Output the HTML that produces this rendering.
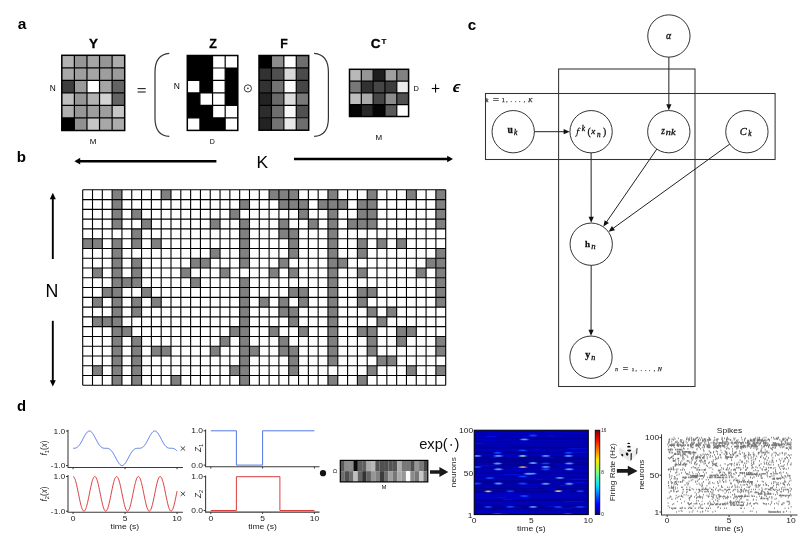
<!DOCTYPE html>
<html><head><meta charset="utf-8"><title>figure</title>
<style>html,body{margin:0;padding:0;background:#fff;overflow:hidden;} svg{display:block;will-change:transform;}</style></head>
<body><svg width="807" height="541" viewBox="0 0 807 541">
<rect width="807" height="541" fill="#fff"/>
<text x="17.68" y="29.49" font-family='"Liberation Sans", sans-serif' font-size="15.53" font-weight="bold" font-style="normal" fill="#000">a</text>
<rect x="61.80" y="55.30" width="12.63" height="12.58" fill="rgb(178,178,178)" />
<rect x="74.38" y="55.30" width="12.63" height="12.58" fill="rgb(150,150,150)" />
<rect x="86.96" y="55.30" width="12.63" height="12.58" fill="rgb(165,165,165)" />
<rect x="99.54" y="55.30" width="12.63" height="12.58" fill="rgb(150,150,150)" />
<rect x="112.12" y="55.30" width="12.63" height="12.58" fill="rgb(172,172,172)" />
<rect x="61.80" y="67.83" width="12.63" height="12.58" fill="rgb(168,168,168)" />
<rect x="74.38" y="67.83" width="12.63" height="12.58" fill="rgb(158,158,158)" />
<rect x="86.96" y="67.83" width="12.63" height="12.58" fill="rgb(165,165,165)" />
<rect x="99.54" y="67.83" width="12.63" height="12.58" fill="rgb(158,158,158)" />
<rect x="112.12" y="67.83" width="12.63" height="12.58" fill="rgb(155,155,155)" />
<rect x="61.80" y="80.37" width="12.63" height="12.58" fill="rgb(62,62,62)" />
<rect x="74.38" y="80.37" width="12.63" height="12.58" fill="rgb(155,155,155)" />
<rect x="86.96" y="80.37" width="12.63" height="12.58" fill="rgb(255,255,255)" />
<rect x="99.54" y="80.37" width="12.63" height="12.58" fill="rgb(165,165,165)" />
<rect x="112.12" y="80.37" width="12.63" height="12.58" fill="rgb(100,100,100)" />
<rect x="61.80" y="92.90" width="12.63" height="12.58" fill="rgb(190,190,190)" />
<rect x="74.38" y="92.90" width="12.63" height="12.58" fill="rgb(150,150,150)" />
<rect x="86.96" y="92.90" width="12.63" height="12.58" fill="rgb(178,178,178)" />
<rect x="99.54" y="92.90" width="12.63" height="12.58" fill="rgb(210,210,210)" />
<rect x="112.12" y="92.90" width="12.63" height="12.58" fill="rgb(100,100,100)" />
<rect x="61.80" y="105.43" width="12.63" height="12.58" fill="rgb(175,175,175)" />
<rect x="74.38" y="105.43" width="12.63" height="12.58" fill="rgb(150,150,150)" />
<rect x="86.96" y="105.43" width="12.63" height="12.58" fill="rgb(158,158,158)" />
<rect x="99.54" y="105.43" width="12.63" height="12.58" fill="rgb(158,158,158)" />
<rect x="112.12" y="105.43" width="12.63" height="12.58" fill="rgb(198,198,198)" />
<rect x="61.80" y="117.97" width="12.63" height="12.58" fill="rgb(0,0,0)" />
<rect x="74.38" y="117.97" width="12.63" height="12.58" fill="rgb(145,145,145)" />
<rect x="86.96" y="117.97" width="12.63" height="12.58" fill="rgb(198,198,198)" />
<rect x="99.54" y="117.97" width="12.63" height="12.58" fill="rgb(168,168,168)" />
<rect x="112.12" y="117.97" width="12.63" height="12.58" fill="rgb(172,172,172)" />
<path d="M74.38,55.30V130.50M86.96,55.30V130.50M99.54,55.30V130.50M112.12,55.30V130.50M61.80,67.83H124.70M61.80,80.37H124.70M61.80,92.90H124.70M61.80,105.43H124.70M61.80,117.97H124.70" stroke="#000" stroke-width="1.2" fill="none"/>
<rect x="61.80" y="55.30" width="62.90" height="75.20" fill="none" stroke="#000" stroke-width="1.5"/>
<text x="89.12" y="48.15" font-family='"Liberation Sans", sans-serif' font-size="13.39" font-weight="bold" font-style="normal" fill="#000" stroke="#000" stroke-width="0.3">Y</text>
<text x="49.66" y="90.65" font-family='"Liberation Sans", sans-serif' font-size="8.32" font-weight="normal" font-style="normal" fill="#000">N</text>
<text x="89.69" y="143.55" font-family='"Liberation Sans", sans-serif' font-size="8.03" font-weight="normal" font-style="normal" fill="#000">M</text>
<line x1="137.60" y1="88.60" x2="145.70" y2="88.60" stroke="#222" stroke-width="1.1" />
<line x1="137.60" y1="92.00" x2="145.70" y2="92.00" stroke="#222" stroke-width="1.1" />
<path d="M169.3,53.3 C160,54 155,60 155,72 L155,118 C155,130 160,136 169.3,136.4" fill="none" stroke="#333" stroke-width="1.2"/>
<text x="173.65" y="88.65" font-family='"Liberation Sans", sans-serif' font-size="8.46" font-weight="normal" font-style="normal" fill="#000">N</text>
<rect x="187.30" y="55.50" width="12.68" height="12.53" fill="rgb(0,0,0)" />
<rect x="199.93" y="55.50" width="12.68" height="12.53" fill="rgb(0,0,0)" />
<rect x="212.55" y="55.50" width="12.68" height="12.53" fill="rgb(255,255,255)" />
<rect x="225.18" y="55.50" width="12.68" height="12.53" fill="rgb(255,255,255)" />
<rect x="187.30" y="67.98" width="12.68" height="12.53" fill="rgb(0,0,0)" />
<rect x="199.93" y="67.98" width="12.68" height="12.53" fill="rgb(0,0,0)" />
<rect x="212.55" y="67.98" width="12.68" height="12.53" fill="rgb(255,255,255)" />
<rect x="225.18" y="67.98" width="12.68" height="12.53" fill="rgb(0,0,0)" />
<rect x="187.30" y="80.47" width="12.68" height="12.53" fill="rgb(255,255,255)" />
<rect x="199.93" y="80.47" width="12.68" height="12.53" fill="rgb(0,0,0)" />
<rect x="212.55" y="80.47" width="12.68" height="12.53" fill="rgb(255,255,255)" />
<rect x="225.18" y="80.47" width="12.68" height="12.53" fill="rgb(0,0,0)" />
<rect x="187.30" y="92.95" width="12.68" height="12.53" fill="rgb(0,0,0)" />
<rect x="199.93" y="92.95" width="12.68" height="12.53" fill="rgb(255,255,255)" />
<rect x="212.55" y="92.95" width="12.68" height="12.53" fill="rgb(255,255,255)" />
<rect x="225.18" y="92.95" width="12.68" height="12.53" fill="rgb(0,0,0)" />
<rect x="187.30" y="105.43" width="12.68" height="12.53" fill="rgb(0,0,0)" />
<rect x="199.93" y="105.43" width="12.68" height="12.53" fill="rgb(0,0,0)" />
<rect x="212.55" y="105.43" width="12.68" height="12.53" fill="rgb(255,255,255)" />
<rect x="225.18" y="105.43" width="12.68" height="12.53" fill="rgb(255,255,255)" />
<rect x="187.30" y="117.92" width="12.68" height="12.53" fill="rgb(255,255,255)" />
<rect x="199.93" y="117.92" width="12.68" height="12.53" fill="rgb(0,0,0)" />
<rect x="212.55" y="117.92" width="12.68" height="12.53" fill="rgb(0,0,0)" />
<rect x="225.18" y="117.92" width="12.68" height="12.53" fill="rgb(255,255,255)" />
<path d="M199.93,55.50V130.40M212.55,55.50V130.40M225.18,55.50V130.40M187.30,67.98H237.80M187.30,80.47H237.80M187.30,92.95H237.80M187.30,105.43H237.80M187.30,117.92H237.80" stroke="#000" stroke-width="1.2" fill="none"/>
<rect x="187.30" y="55.50" width="50.50" height="74.90" fill="none" stroke="#000" stroke-width="1.5"/>
<text x="209.28" y="48.15" font-family='"Liberation Sans", sans-serif' font-size="12.43" font-weight="bold" font-style="normal" fill="#000" stroke="#000" stroke-width="0.3">Z</text>
<text x="209.87" y="143.65" font-family='"Liberation Sans", sans-serif' font-size="7.01" font-weight="normal" font-style="normal" fill="#000">D</text>
<circle cx="247.9" cy="88.4" r="3.6" fill="none" stroke="#222" stroke-width="0.9"/><circle cx="247.9" cy="88.4" r="0.8" fill="#222"/>
<rect x="259.00" y="55.50" width="12.47" height="12.50" fill="rgb(0,0,0)" />
<rect x="271.43" y="55.50" width="12.47" height="12.50" fill="rgb(140,140,140)" />
<rect x="283.85" y="55.50" width="12.47" height="12.50" fill="rgb(255,255,255)" />
<rect x="296.27" y="55.50" width="12.47" height="12.50" fill="rgb(110,110,110)" />
<rect x="259.00" y="67.95" width="12.47" height="12.50" fill="rgb(50,50,50)" />
<rect x="271.43" y="67.95" width="12.47" height="12.50" fill="rgb(80,80,80)" />
<rect x="283.85" y="67.95" width="12.47" height="12.50" fill="rgb(215,215,215)" />
<rect x="296.27" y="67.95" width="12.47" height="12.50" fill="rgb(75,75,75)" />
<rect x="259.00" y="80.40" width="12.47" height="12.50" fill="rgb(50,50,50)" />
<rect x="271.43" y="80.40" width="12.47" height="12.50" fill="rgb(115,115,115)" />
<rect x="283.85" y="80.40" width="12.47" height="12.50" fill="rgb(250,250,250)" />
<rect x="296.27" y="80.40" width="12.47" height="12.50" fill="rgb(70,70,70)" />
<rect x="259.00" y="92.85" width="12.47" height="12.50" fill="rgb(35,35,35)" />
<rect x="271.43" y="92.85" width="12.47" height="12.50" fill="rgb(105,105,105)" />
<rect x="283.85" y="92.85" width="12.47" height="12.50" fill="rgb(220,220,220)" />
<rect x="296.27" y="92.85" width="12.47" height="12.50" fill="rgb(120,120,120)" />
<rect x="259.00" y="105.30" width="12.47" height="12.50" fill="rgb(45,45,45)" />
<rect x="271.43" y="105.30" width="12.47" height="12.50" fill="rgb(110,110,110)" />
<rect x="283.85" y="105.30" width="12.47" height="12.50" fill="rgb(248,248,248)" />
<rect x="296.27" y="105.30" width="12.47" height="12.50" fill="rgb(80,80,80)" />
<rect x="259.00" y="117.75" width="12.47" height="12.50" fill="rgb(35,35,35)" />
<rect x="271.43" y="117.75" width="12.47" height="12.50" fill="rgb(115,115,115)" />
<rect x="283.85" y="117.75" width="12.47" height="12.50" fill="rgb(232,232,232)" />
<rect x="296.27" y="117.75" width="12.47" height="12.50" fill="rgb(110,110,110)" />
<path d="M271.43,55.50V130.20M283.85,55.50V130.20M296.27,55.50V130.20M259.00,67.95H308.70M259.00,80.40H308.70M259.00,92.85H308.70M259.00,105.30H308.70M259.00,117.75H308.70" stroke="#000" stroke-width="1.2" fill="none"/>
<rect x="259.00" y="55.50" width="49.70" height="74.70" fill="none" stroke="#000" stroke-width="1.5"/>
<text x="280.22" y="48.15" font-family='"Liberation Sans", sans-serif' font-size="12.29" font-weight="bold" font-style="normal" fill="#000" stroke="#000" stroke-width="0.3">F</text>
<path d="M314.1,53.3 C323.4,54 328.4,60 328.4,72 L328.4,118 C328.4,130 323.4,136 314.1,136.4" fill="none" stroke="#333" stroke-width="1.2"/>
<rect x="349.50" y="69.30" width="11.87" height="11.85" fill="rgb(185,185,185)" />
<rect x="361.32" y="69.30" width="11.87" height="11.85" fill="rgb(150,150,150)" />
<rect x="373.14" y="69.30" width="11.87" height="11.85" fill="rgb(30,30,30)" />
<rect x="384.96" y="69.30" width="11.87" height="11.85" fill="rgb(160,160,160)" />
<rect x="396.78" y="69.30" width="11.87" height="11.85" fill="rgb(130,130,130)" />
<rect x="349.50" y="81.10" width="11.87" height="11.85" fill="rgb(120,120,120)" />
<rect x="361.32" y="81.10" width="11.87" height="11.85" fill="rgb(50,50,50)" />
<rect x="373.14" y="81.10" width="11.87" height="11.85" fill="rgb(70,70,70)" />
<rect x="384.96" y="81.10" width="11.87" height="11.85" fill="rgb(60,60,60)" />
<rect x="396.78" y="81.10" width="11.87" height="11.85" fill="rgb(235,235,235)" />
<rect x="349.50" y="92.90" width="11.87" height="11.85" fill="rgb(190,190,190)" />
<rect x="361.32" y="92.90" width="11.87" height="11.85" fill="rgb(170,170,170)" />
<rect x="373.14" y="92.90" width="11.87" height="11.85" fill="rgb(70,70,70)" />
<rect x="384.96" y="92.90" width="11.87" height="11.85" fill="rgb(140,140,140)" />
<rect x="396.78" y="92.90" width="11.87" height="11.85" fill="rgb(80,80,80)" />
<rect x="349.50" y="104.70" width="11.87" height="11.85" fill="rgb(5,5,5)" />
<rect x="361.32" y="104.70" width="11.87" height="11.85" fill="rgb(40,40,40)" />
<rect x="373.14" y="104.70" width="11.87" height="11.85" fill="rgb(5,5,5)" />
<rect x="384.96" y="104.70" width="11.87" height="11.85" fill="rgb(90,90,90)" />
<rect x="396.78" y="104.70" width="11.87" height="11.85" fill="rgb(255,255,255)" />
<path d="M361.32,69.30V116.50M373.14,69.30V116.50M384.96,69.30V116.50M396.78,69.30V116.50M349.50,81.10H408.60M349.50,92.90H408.60M349.50,104.70H408.60" stroke="#000" stroke-width="1.2" fill="none"/>
<rect x="349.50" y="69.30" width="59.10" height="47.20" fill="none" stroke="#000" stroke-width="1.5"/>
<text x="370.81" y="48.01" font-family='"Liberation Sans", sans-serif' font-size="13.60" font-weight="bold" font-style="normal" fill="#000" stroke="#000" stroke-width="0.3">C</text>
<text x="381.47" y="43.55" font-family='"Liberation Sans", sans-serif' font-size="7.98" font-weight="bold" font-style="normal" fill="#000" stroke="#000" stroke-width="0.2">T</text>
<text x="413.54" y="90.65" font-family='"Liberation Sans", sans-serif' font-size="7.45" font-weight="normal" font-style="normal" fill="#000">D</text>
<text x="375.59" y="139.95" font-family='"Liberation Sans", sans-serif' font-size="7.96" font-weight="normal" font-style="normal" fill="#000">M</text>
<line x1="431.80" y1="88.50" x2="439.30" y2="88.50" stroke="#000" stroke-width="1.1" />
<line x1="435.55" y1="84.30" x2="435.55" y2="92.60" stroke="#000" stroke-width="1.1" />
<path d="M460.7,84.5 C458.2,83.5 455.6,84.1 454.3,85.9 C453.1,87.5 452.8,89.6 453.4,90.9 C454.1,92.2 456.6,92.3 458.9,91.8 L459.1,91.0 C457.2,91.3 456.0,91.0 455.7,90.0 C455.4,88.8 455.6,87.1 456.3,86.1 C457.1,85.1 458.8,85.0 460.3,85.4 Z M455.3,87.3 L459.2,87.3 L459.0,88.4 L455.1,88.4 Z" fill="#000"/>
<text x="16.77" y="162.30" font-family='"Liberation Sans", sans-serif' font-size="15.10" font-weight="bold" font-style="normal" fill="#000">b</text>
<line x1="79.00" y1="161.20" x2="216.40" y2="161.20" stroke="#000" stroke-width="2.4" />
<path d="M74.4,161.2 L80.2,157.8 L80.2,164.6 Z" fill="#000"/>
<line x1="294.00" y1="159.00" x2="448.00" y2="159.00" stroke="#000" stroke-width="2.4" />
<path d="M453,159 L447.2,155.8 L447.2,162.3 Z" fill="#000"/>
<text x="256.42" y="167.65" font-family='"Liberation Sans", sans-serif' font-size="17.32" font-weight="normal" font-style="normal" fill="#000">K</text>
<line x1="52.80" y1="198.00" x2="52.80" y2="259.00" stroke="#000" stroke-width="1.9" />
<path d="M52.8,192.7 L49.8,199.2 L55.8,199.2 Z" fill="#000"/>
<line x1="52.80" y1="320.80" x2="52.80" y2="381.00" stroke="#000" stroke-width="1.9" />
<path d="M52.8,386.6 L49.8,380.2 L55.8,380.2 Z" fill="#000"/>
<text x="45.38" y="296.95" font-family='"Liberation Sans", sans-serif' font-size="17.76" font-weight="normal" font-style="normal" fill="#000">N</text>
<rect x="82.70" y="189.80" width="363.00" height="195.50" fill="#fff" />
<rect x="112.13" y="189.80" width="9.81" height="9.78" fill="#808080" />
<rect x="161.19" y="189.80" width="9.81" height="9.78" fill="#808080" />
<rect x="269.11" y="189.80" width="9.81" height="9.78" fill="#808080" />
<rect x="278.92" y="189.80" width="9.81" height="9.78" fill="#808080" />
<rect x="288.73" y="189.80" width="9.81" height="9.78" fill="#808080" />
<rect x="327.97" y="189.80" width="9.81" height="9.78" fill="#808080" />
<rect x="367.21" y="189.80" width="9.81" height="9.78" fill="#808080" />
<rect x="406.46" y="189.80" width="9.81" height="9.78" fill="#808080" />
<rect x="435.89" y="189.80" width="9.81" height="9.78" fill="#808080" />
<rect x="112.13" y="199.58" width="9.81" height="9.78" fill="#808080" />
<rect x="239.67" y="199.58" width="9.81" height="9.78" fill="#808080" />
<rect x="278.92" y="199.58" width="9.81" height="9.78" fill="#808080" />
<rect x="288.73" y="199.58" width="9.81" height="9.78" fill="#808080" />
<rect x="298.54" y="199.58" width="9.81" height="9.78" fill="#808080" />
<rect x="318.16" y="199.58" width="9.81" height="9.78" fill="#808080" />
<rect x="327.97" y="199.58" width="9.81" height="9.78" fill="#808080" />
<rect x="337.78" y="199.58" width="9.81" height="9.78" fill="#808080" />
<rect x="357.40" y="199.58" width="9.81" height="9.78" fill="#808080" />
<rect x="367.21" y="199.58" width="9.81" height="9.78" fill="#808080" />
<rect x="435.89" y="199.58" width="9.81" height="9.78" fill="#808080" />
<rect x="112.13" y="209.35" width="9.81" height="9.78" fill="#808080" />
<rect x="131.75" y="209.35" width="9.81" height="9.78" fill="#808080" />
<rect x="229.86" y="209.35" width="9.81" height="9.78" fill="#808080" />
<rect x="298.54" y="209.35" width="9.81" height="9.78" fill="#808080" />
<rect x="327.97" y="209.35" width="9.81" height="9.78" fill="#808080" />
<rect x="357.40" y="209.35" width="9.81" height="9.78" fill="#808080" />
<rect x="367.21" y="209.35" width="9.81" height="9.78" fill="#808080" />
<rect x="435.89" y="209.35" width="9.81" height="9.78" fill="#808080" />
<rect x="112.13" y="219.12" width="9.81" height="9.78" fill="#808080" />
<rect x="141.56" y="219.12" width="9.81" height="9.78" fill="#808080" />
<rect x="210.24" y="219.12" width="9.81" height="9.78" fill="#808080" />
<rect x="239.67" y="219.12" width="9.81" height="9.78" fill="#808080" />
<rect x="278.92" y="219.12" width="9.81" height="9.78" fill="#808080" />
<rect x="308.35" y="219.12" width="9.81" height="9.78" fill="#808080" />
<rect x="327.97" y="219.12" width="9.81" height="9.78" fill="#808080" />
<rect x="347.59" y="219.12" width="9.81" height="9.78" fill="#808080" />
<rect x="357.40" y="219.12" width="9.81" height="9.78" fill="#808080" />
<rect x="367.21" y="219.12" width="9.81" height="9.78" fill="#808080" />
<rect x="435.89" y="219.12" width="9.81" height="9.78" fill="#808080" />
<rect x="131.75" y="228.90" width="9.81" height="9.78" fill="#808080" />
<rect x="239.67" y="228.90" width="9.81" height="9.78" fill="#808080" />
<rect x="278.92" y="228.90" width="9.81" height="9.78" fill="#808080" />
<rect x="288.73" y="228.90" width="9.81" height="9.78" fill="#808080" />
<rect x="327.97" y="228.90" width="9.81" height="9.78" fill="#808080" />
<rect x="82.70" y="238.68" width="9.81" height="9.78" fill="#808080" />
<rect x="92.51" y="238.68" width="9.81" height="9.78" fill="#808080" />
<rect x="112.13" y="238.68" width="9.81" height="9.78" fill="#808080" />
<rect x="131.75" y="238.68" width="9.81" height="9.78" fill="#808080" />
<rect x="151.38" y="238.68" width="9.81" height="9.78" fill="#808080" />
<rect x="239.67" y="238.68" width="9.81" height="9.78" fill="#808080" />
<rect x="288.73" y="238.68" width="9.81" height="9.78" fill="#808080" />
<rect x="327.97" y="238.68" width="9.81" height="9.78" fill="#808080" />
<rect x="357.40" y="238.68" width="9.81" height="9.78" fill="#808080" />
<rect x="377.02" y="238.68" width="9.81" height="9.78" fill="#808080" />
<rect x="396.65" y="238.68" width="9.81" height="9.78" fill="#808080" />
<rect x="112.13" y="248.45" width="9.81" height="9.78" fill="#808080" />
<rect x="210.24" y="248.45" width="9.81" height="9.78" fill="#808080" />
<rect x="239.67" y="248.45" width="9.81" height="9.78" fill="#808080" />
<rect x="288.73" y="248.45" width="9.81" height="9.78" fill="#808080" />
<rect x="327.97" y="248.45" width="9.81" height="9.78" fill="#808080" />
<rect x="357.40" y="248.45" width="9.81" height="9.78" fill="#808080" />
<rect x="435.89" y="248.45" width="9.81" height="9.78" fill="#808080" />
<rect x="112.13" y="258.23" width="9.81" height="9.78" fill="#808080" />
<rect x="131.75" y="258.23" width="9.81" height="9.78" fill="#808080" />
<rect x="190.62" y="258.23" width="9.81" height="9.78" fill="#808080" />
<rect x="200.43" y="258.23" width="9.81" height="9.78" fill="#808080" />
<rect x="239.67" y="258.23" width="9.81" height="9.78" fill="#808080" />
<rect x="278.92" y="258.23" width="9.81" height="9.78" fill="#808080" />
<rect x="327.97" y="258.23" width="9.81" height="9.78" fill="#808080" />
<rect x="337.78" y="258.23" width="9.81" height="9.78" fill="#808080" />
<rect x="426.08" y="258.23" width="9.81" height="9.78" fill="#808080" />
<rect x="435.89" y="258.23" width="9.81" height="9.78" fill="#808080" />
<rect x="92.51" y="268.00" width="9.81" height="9.78" fill="#808080" />
<rect x="112.13" y="268.00" width="9.81" height="9.78" fill="#808080" />
<rect x="131.75" y="268.00" width="9.81" height="9.78" fill="#808080" />
<rect x="180.81" y="268.00" width="9.81" height="9.78" fill="#808080" />
<rect x="220.05" y="268.00" width="9.81" height="9.78" fill="#808080" />
<rect x="269.11" y="268.00" width="9.81" height="9.78" fill="#808080" />
<rect x="288.73" y="268.00" width="9.81" height="9.78" fill="#808080" />
<rect x="327.97" y="268.00" width="9.81" height="9.78" fill="#808080" />
<rect x="357.40" y="268.00" width="9.81" height="9.78" fill="#808080" />
<rect x="416.27" y="268.00" width="9.81" height="9.78" fill="#808080" />
<rect x="435.89" y="268.00" width="9.81" height="9.78" fill="#808080" />
<rect x="112.13" y="277.78" width="9.81" height="9.78" fill="#808080" />
<rect x="121.94" y="277.78" width="9.81" height="9.78" fill="#808080" />
<rect x="131.75" y="277.78" width="9.81" height="9.78" fill="#808080" />
<rect x="190.62" y="277.78" width="9.81" height="9.78" fill="#808080" />
<rect x="239.67" y="277.78" width="9.81" height="9.78" fill="#808080" />
<rect x="327.97" y="277.78" width="9.81" height="9.78" fill="#808080" />
<rect x="435.89" y="277.78" width="9.81" height="9.78" fill="#808080" />
<rect x="102.32" y="287.55" width="9.81" height="9.78" fill="#808080" />
<rect x="112.13" y="287.55" width="9.81" height="9.78" fill="#808080" />
<rect x="141.56" y="287.55" width="9.81" height="9.78" fill="#808080" />
<rect x="239.67" y="287.55" width="9.81" height="9.78" fill="#808080" />
<rect x="288.73" y="287.55" width="9.81" height="9.78" fill="#808080" />
<rect x="298.54" y="287.55" width="9.81" height="9.78" fill="#808080" />
<rect x="327.97" y="287.55" width="9.81" height="9.78" fill="#808080" />
<rect x="357.40" y="287.55" width="9.81" height="9.78" fill="#808080" />
<rect x="367.21" y="287.55" width="9.81" height="9.78" fill="#808080" />
<rect x="435.89" y="287.55" width="9.81" height="9.78" fill="#808080" />
<rect x="92.51" y="297.33" width="9.81" height="9.78" fill="#808080" />
<rect x="112.13" y="297.33" width="9.81" height="9.78" fill="#808080" />
<rect x="131.75" y="297.33" width="9.81" height="9.78" fill="#808080" />
<rect x="151.38" y="297.33" width="9.81" height="9.78" fill="#808080" />
<rect x="239.67" y="297.33" width="9.81" height="9.78" fill="#808080" />
<rect x="259.29" y="297.33" width="9.81" height="9.78" fill="#808080" />
<rect x="278.92" y="297.33" width="9.81" height="9.78" fill="#808080" />
<rect x="298.54" y="297.33" width="9.81" height="9.78" fill="#808080" />
<rect x="327.97" y="297.33" width="9.81" height="9.78" fill="#808080" />
<rect x="357.40" y="297.33" width="9.81" height="9.78" fill="#808080" />
<rect x="435.89" y="297.33" width="9.81" height="9.78" fill="#808080" />
<rect x="112.13" y="307.10" width="9.81" height="9.78" fill="#808080" />
<rect x="131.75" y="307.10" width="9.81" height="9.78" fill="#808080" />
<rect x="239.67" y="307.10" width="9.81" height="9.78" fill="#808080" />
<rect x="278.92" y="307.10" width="9.81" height="9.78" fill="#808080" />
<rect x="288.73" y="307.10" width="9.81" height="9.78" fill="#808080" />
<rect x="327.97" y="307.10" width="9.81" height="9.78" fill="#808080" />
<rect x="367.21" y="307.10" width="9.81" height="9.78" fill="#808080" />
<rect x="386.84" y="307.10" width="9.81" height="9.78" fill="#808080" />
<rect x="92.51" y="316.88" width="9.81" height="9.78" fill="#808080" />
<rect x="102.32" y="316.88" width="9.81" height="9.78" fill="#808080" />
<rect x="112.13" y="316.88" width="9.81" height="9.78" fill="#808080" />
<rect x="239.67" y="316.88" width="9.81" height="9.78" fill="#808080" />
<rect x="288.73" y="316.88" width="9.81" height="9.78" fill="#808080" />
<rect x="327.97" y="316.88" width="9.81" height="9.78" fill="#808080" />
<rect x="377.02" y="316.88" width="9.81" height="9.78" fill="#808080" />
<rect x="112.13" y="326.65" width="9.81" height="9.78" fill="#808080" />
<rect x="121.94" y="326.65" width="9.81" height="9.78" fill="#808080" />
<rect x="229.86" y="326.65" width="9.81" height="9.78" fill="#808080" />
<rect x="239.67" y="326.65" width="9.81" height="9.78" fill="#808080" />
<rect x="269.11" y="326.65" width="9.81" height="9.78" fill="#808080" />
<rect x="298.54" y="326.65" width="9.81" height="9.78" fill="#808080" />
<rect x="327.97" y="326.65" width="9.81" height="9.78" fill="#808080" />
<rect x="357.40" y="326.65" width="9.81" height="9.78" fill="#808080" />
<rect x="367.21" y="326.65" width="9.81" height="9.78" fill="#808080" />
<rect x="396.65" y="326.65" width="9.81" height="9.78" fill="#808080" />
<rect x="406.46" y="326.65" width="9.81" height="9.78" fill="#808080" />
<rect x="112.13" y="336.43" width="9.81" height="9.78" fill="#808080" />
<rect x="131.75" y="336.43" width="9.81" height="9.78" fill="#808080" />
<rect x="220.05" y="336.43" width="9.81" height="9.78" fill="#808080" />
<rect x="239.67" y="336.43" width="9.81" height="9.78" fill="#808080" />
<rect x="278.92" y="336.43" width="9.81" height="9.78" fill="#808080" />
<rect x="327.97" y="336.43" width="9.81" height="9.78" fill="#808080" />
<rect x="367.21" y="336.43" width="9.81" height="9.78" fill="#808080" />
<rect x="396.65" y="336.43" width="9.81" height="9.78" fill="#808080" />
<rect x="435.89" y="336.43" width="9.81" height="9.78" fill="#808080" />
<rect x="112.13" y="346.20" width="9.81" height="9.78" fill="#808080" />
<rect x="131.75" y="346.20" width="9.81" height="9.78" fill="#808080" />
<rect x="151.38" y="346.20" width="9.81" height="9.78" fill="#808080" />
<rect x="161.19" y="346.20" width="9.81" height="9.78" fill="#808080" />
<rect x="210.24" y="346.20" width="9.81" height="9.78" fill="#808080" />
<rect x="239.67" y="346.20" width="9.81" height="9.78" fill="#808080" />
<rect x="249.48" y="346.20" width="9.81" height="9.78" fill="#808080" />
<rect x="278.92" y="346.20" width="9.81" height="9.78" fill="#808080" />
<rect x="288.73" y="346.20" width="9.81" height="9.78" fill="#808080" />
<rect x="327.97" y="346.20" width="9.81" height="9.78" fill="#808080" />
<rect x="367.21" y="346.20" width="9.81" height="9.78" fill="#808080" />
<rect x="435.89" y="346.20" width="9.81" height="9.78" fill="#808080" />
<rect x="112.13" y="355.98" width="9.81" height="9.78" fill="#808080" />
<rect x="131.75" y="355.98" width="9.81" height="9.78" fill="#808080" />
<rect x="239.67" y="355.98" width="9.81" height="9.78" fill="#808080" />
<rect x="288.73" y="355.98" width="9.81" height="9.78" fill="#808080" />
<rect x="327.97" y="355.98" width="9.81" height="9.78" fill="#808080" />
<rect x="377.02" y="355.98" width="9.81" height="9.78" fill="#808080" />
<rect x="386.84" y="355.98" width="9.81" height="9.78" fill="#808080" />
<rect x="92.51" y="365.75" width="9.81" height="9.78" fill="#808080" />
<rect x="112.13" y="365.75" width="9.81" height="9.78" fill="#808080" />
<rect x="131.75" y="365.75" width="9.81" height="9.78" fill="#808080" />
<rect x="229.86" y="365.75" width="9.81" height="9.78" fill="#808080" />
<rect x="239.67" y="365.75" width="9.81" height="9.78" fill="#808080" />
<rect x="288.73" y="365.75" width="9.81" height="9.78" fill="#808080" />
<rect x="367.21" y="365.75" width="9.81" height="9.78" fill="#808080" />
<rect x="406.46" y="365.75" width="9.81" height="9.78" fill="#808080" />
<rect x="435.89" y="365.75" width="9.81" height="9.78" fill="#808080" />
<rect x="112.13" y="375.52" width="9.81" height="9.78" fill="#808080" />
<rect x="131.75" y="375.52" width="9.81" height="9.78" fill="#808080" />
<rect x="171.00" y="375.52" width="9.81" height="9.78" fill="#808080" />
<rect x="239.67" y="375.52" width="9.81" height="9.78" fill="#808080" />
<rect x="327.97" y="375.52" width="9.81" height="9.78" fill="#808080" />
<rect x="357.40" y="375.52" width="9.81" height="9.78" fill="#808080" />
<path d="M82.70,189.80V385.30M92.51,189.80V385.30M102.32,189.80V385.30M112.13,189.80V385.30M121.94,189.80V385.30M131.75,189.80V385.30M141.56,189.80V385.30M151.38,189.80V385.30M161.19,189.80V385.30M171.00,189.80V385.30M180.81,189.80V385.30M190.62,189.80V385.30M200.43,189.80V385.30M210.24,189.80V385.30M220.05,189.80V385.30M229.86,189.80V385.30M239.67,189.80V385.30M249.48,189.80V385.30M259.29,189.80V385.30M269.11,189.80V385.30M278.92,189.80V385.30M288.73,189.80V385.30M298.54,189.80V385.30M308.35,189.80V385.30M318.16,189.80V385.30M327.97,189.80V385.30M337.78,189.80V385.30M347.59,189.80V385.30M357.40,189.80V385.30M367.21,189.80V385.30M377.02,189.80V385.30M386.84,189.80V385.30M396.65,189.80V385.30M406.46,189.80V385.30M416.27,189.80V385.30M426.08,189.80V385.30M435.89,189.80V385.30M445.70,189.80V385.30M82.70,189.80H445.70M82.70,199.58H445.70M82.70,209.35H445.70M82.70,219.12H445.70M82.70,228.90H445.70M82.70,238.68H445.70M82.70,248.45H445.70M82.70,258.23H445.70M82.70,268.00H445.70M82.70,277.78H445.70M82.70,287.55H445.70M82.70,297.33H445.70M82.70,307.10H445.70M82.70,316.88H445.70M82.70,326.65H445.70M82.70,336.43H445.70M82.70,346.20H445.70M82.70,355.98H445.70M82.70,365.75H445.70M82.70,375.52H445.70M82.70,385.30H445.70" stroke="#000" stroke-width="1.1" fill="none"/>
<text x="467.68" y="29.60" font-family='"Liberation Sans", sans-serif' font-size="15.16" font-weight="bold" font-style="normal" fill="#000">c</text>
<rect x="558.6" y="69.0" width="136.4" height="317.5" fill="none" stroke="#333" stroke-width="1.05"/>
<rect x="485.5" y="93.5" width="289.6" height="66.0" fill="none" stroke="#333" stroke-width="1.05"/>
<circle cx="668.9" cy="36.0" r="21.15" fill="none" stroke="#333" stroke-width="1"/>
<circle cx="513.2" cy="131.7" r="21.15" fill="none" stroke="#333" stroke-width="1"/>
<circle cx="591.1" cy="131.7" r="21.15" fill="none" stroke="#333" stroke-width="1"/>
<circle cx="668.8" cy="131.7" r="21.15" fill="none" stroke="#333" stroke-width="1"/>
<circle cx="746.9" cy="131.7" r="21.15" fill="none" stroke="#333" stroke-width="1"/>
<circle cx="591.2" cy="244.2" r="21.15" fill="none" stroke="#333" stroke-width="1"/>
<circle cx="591" cy="357.2" r="21.15" fill="none" stroke="#333" stroke-width="1"/>
<line x1="668.88" y1="57.15" x2="668.83" y2="104.75" stroke="#222" stroke-width="1" />
<path d="M668.82,110.25 L666.23,104.25 L671.43,104.25 Z" fill="#111"/>
<line x1="534.35" y1="131.70" x2="564.15" y2="131.70" stroke="#222" stroke-width="1" />
<path d="M569.65,131.70 L563.65,134.30 L563.65,129.10 Z" fill="#111"/>
<line x1="591.12" y1="152.85" x2="591.18" y2="217.25" stroke="#222" stroke-width="1" />
<path d="M591.18,222.75 L588.58,216.75 L593.78,216.75 Z" fill="#111"/>
<line x1="656.79" y1="149.11" x2="606.50" y2="222.02" stroke="#222" stroke-width="1" />
<path d="M603.38,226.54 L604.65,220.13 L608.93,223.08 Z" fill="#111"/>
<line x1="729.76" y1="144.09" x2="613.04" y2="228.42" stroke="#222" stroke-width="1" />
<path d="M608.59,231.64 L611.93,226.02 L614.97,230.23 Z" fill="#111"/>
<line x1="591.16" y1="265.35" x2="591.05" y2="330.25" stroke="#222" stroke-width="1" />
<path d="M591.04,335.75 L588.45,329.75 L593.65,329.75 Z" fill="#111"/>
<text x="665.96" y="38.75" font-family='"Liberation Serif", serif' font-size="9.72" font-weight="normal" font-style="italic" fill="#111" stroke="#111" stroke-width="0.3">α</text>
<text x="507.61" y="133.43" font-family='"Liberation Serif", serif' font-size="9.59" font-weight="bold" font-style="normal" fill="#111" stroke="#111" stroke-width="0.3">u</text>
<text x="514.04" y="134.55" font-family='"Liberation Serif", serif' font-size="7.54" font-weight="normal" font-style="italic" fill="#111" stroke="#111" stroke-width="0.3">k</text>
<path d="M580.4,128.4 C579.9,127.6 578.6,127.7 578.2,128.9 L576.9,134.9 C576.6,136.4 575.9,136.8 575.4,136.2" fill="none" stroke="#111" stroke-width="0.95" stroke-linecap="round"/><path d="M576.8,130.6 L579.9,130.6" stroke="#111" stroke-width="0.7"/>
<text x="581.75" y="131.15" font-family='"Liberation Serif", serif' font-size="7.31" font-weight="normal" font-style="italic" fill="#111" stroke="#111" stroke-width="0.3">k</text>
<text x="587.44" y="134.59" font-family='"Liberation Serif", serif' font-size="9.70" font-weight="normal" font-style="normal" fill="#111" stroke="#111" stroke-width="0.3">(</text>
<text x="591.16" y="134.05" font-family='"Liberation Serif", serif' font-size="9.14" font-weight="normal" font-style="italic" fill="#111" stroke="#111" stroke-width="0.3">x</text>
<text x="596.90" y="136.55" font-family='"Liberation Serif", serif' font-size="7.27" font-weight="normal" font-style="italic" fill="#111" stroke="#111" stroke-width="0.3">n</text>
<text x="603.03" y="134.59" font-family='"Liberation Serif", serif' font-size="9.70" font-weight="normal" font-style="normal" fill="#111" stroke="#111" stroke-width="0.3">)</text>
<text x="661.37" y="133.55" font-family='"Liberation Serif", serif' font-size="9.29" font-weight="normal" font-style="italic" fill="#111" stroke="#111" stroke-width="0.3">z</text>
<text x="665.89" y="134.55" font-family='"Liberation Serif", serif' font-size="7.97" font-weight="normal" font-style="italic" fill="#111" textLength="9.62" lengthAdjust="spacingAndGlyphs" stroke="#111" stroke-width="0.3">nk</text>
<text x="739.67" y="134.84" font-family='"Liberation Serif", serif' font-size="10.62" font-weight="normal" font-style="italic" fill="#111" stroke="#111" stroke-width="0.3">C</text>
<text x="748.15" y="136.25" font-family='"Liberation Serif", serif' font-size="7.29" font-weight="normal" font-style="italic" fill="#111" stroke="#111" stroke-width="0.3">k</text>
<text x="585.02" y="247.40" font-family='"Liberation Serif", serif' font-size="9.06" font-weight="bold" font-style="normal" fill="#111" stroke="#111" stroke-width="0.3">h</text>
<text x="591.34" y="248.55" font-family='"Liberation Serif", serif' font-size="8.72" font-weight="normal" font-style="italic" fill="#111" stroke="#111" stroke-width="0.3">n</text>
<text x="585.15" y="358.27" font-family='"Liberation Serif", serif' font-size="9.93" font-weight="bold" font-style="normal" fill="#111" stroke="#111" stroke-width="0.3">y</text>
<text x="591.17" y="360.05" font-family='"Liberation Serif", serif' font-size="8.08" font-weight="normal" font-style="italic" fill="#111" stroke="#111" stroke-width="0.3">n</text>
<text x="485.64" y="101.60" font-family='"Liberation Serif", serif' font-size="5.90" font-weight="normal" font-style="italic" fill="#333" stroke="#333" stroke-width="0.25">k</text>
<text x="492.64" y="102.72" font-family='"Liberation Serif", serif' font-size="11.18" font-weight="normal" font-style="normal" fill="#333" stroke="#333" stroke-width="0.25">=</text>
<text x="501.66" y="101.60" font-family='"Liberation Serif", serif' font-size="6.21" font-weight="normal" font-style="normal" fill="#333" stroke="#333" stroke-width="0.25">1</text>
<text x="506.30" y="101.97" font-family='"Liberation Serif", serif' font-size="5.33" font-weight="normal" font-style="normal" fill="#333" stroke="#333" stroke-width="0.25">,</text>
<text x="510.62" y="101.51" font-family='"Liberation Serif", serif' font-size="5.83" font-weight="normal" font-style="normal" fill="#333" stroke="#333" stroke-width="0.25">.</text>
<text x="515.02" y="101.51" font-family='"Liberation Serif", serif' font-size="5.83" font-weight="normal" font-style="normal" fill="#333" stroke="#333" stroke-width="0.25">.</text>
<text x="519.12" y="101.51" font-family='"Liberation Serif", serif' font-size="5.83" font-weight="normal" font-style="normal" fill="#333" stroke="#333" stroke-width="0.25">.</text>
<text x="523.80" y="101.97" font-family='"Liberation Serif", serif' font-size="5.33" font-weight="normal" font-style="normal" fill="#333" stroke="#333" stroke-width="0.25">,</text>
<text x="528.28" y="101.60" font-family='"Liberation Serif", serif' font-size="6.26" font-weight="normal" font-style="italic" fill="#333" stroke="#333" stroke-width="0.25">K</text>
<text x="615.21" y="370.70" font-family='"Liberation Serif", serif' font-size="5.32" font-weight="normal" font-style="italic" fill="#333" stroke="#333" stroke-width="0.25">n</text>
<text x="622.73" y="372.16" font-family='"Liberation Serif", serif' font-size="9.46" font-weight="normal" font-style="normal" fill="#333" stroke="#333" stroke-width="0.25">=</text>
<text x="631.66" y="370.70" font-family='"Liberation Serif", serif' font-size="5.00" font-weight="normal" font-style="normal" fill="#333" stroke="#333" stroke-width="0.25">1</text>
<text x="635.60" y="371.27" font-family='"Liberation Serif", serif' font-size="5.33" font-weight="normal" font-style="normal" fill="#333" stroke="#333" stroke-width="0.25">,</text>
<text x="640.52" y="370.61" font-family='"Liberation Serif", serif' font-size="5.83" font-weight="normal" font-style="normal" fill="#333" stroke="#333" stroke-width="0.25">.</text>
<text x="645.02" y="370.61" font-family='"Liberation Serif", serif' font-size="5.83" font-weight="normal" font-style="normal" fill="#333" stroke="#333" stroke-width="0.25">.</text>
<text x="649.12" y="370.61" font-family='"Liberation Serif", serif' font-size="5.83" font-weight="normal" font-style="normal" fill="#333" stroke="#333" stroke-width="0.25">.</text>
<text x="653.80" y="371.27" font-family='"Liberation Serif", serif' font-size="5.33" font-weight="normal" font-style="normal" fill="#333" stroke="#333" stroke-width="0.25">,</text>
<text x="657.85" y="370.70" font-family='"Liberation Serif", serif' font-size="6.11" font-weight="normal" font-style="italic" fill="#333" stroke="#333" stroke-width="0.25">N</text>
<text x="16.96" y="411.20" font-family='"Liberation Sans", sans-serif' font-size="14.83" font-weight="bold" font-style="normal" fill="#000">d</text>
<path d="M68,429.8 V467.4 H182.9" fill="none" stroke="#3a3a3a" stroke-width="1.05"/>
<polyline points="73.05,448.30 73.40,448.30 73.74,448.29 74.09,448.28 74.44,448.26 74.78,448.22 75.13,448.16 75.48,448.09 75.82,447.98 76.17,447.85 76.52,447.69 76.86,447.50 77.21,447.28 77.56,447.02 77.90,446.72 78.25,446.39 78.60,446.03 78.94,445.62 79.29,445.19 79.64,444.71 79.98,444.21 80.33,443.67 80.68,443.11 81.02,442.52 81.37,441.91 81.72,441.28 82.06,440.64 82.41,439.98 82.76,439.32 83.10,438.66 83.45,437.99 83.80,437.33 84.14,436.69 84.49,436.05 84.84,435.44 85.18,434.85 85.53,434.29 85.88,433.77 86.22,433.27 86.57,432.82 86.92,432.42 87.26,432.06 87.61,431.74 87.96,431.48 88.30,431.28 88.65,431.13 89.00,431.04 89.34,431.00 89.69,431.02 90.04,431.10 90.38,431.24 90.73,431.43 91.08,431.68 91.42,431.97 91.77,432.32 92.12,432.72 92.46,433.16 92.81,433.64 93.16,434.16 93.50,434.71 93.85,435.29 94.20,435.90 94.54,436.53 94.89,437.17 95.24,437.83 95.58,438.49 95.93,439.16 96.28,439.82 96.62,440.48 96.97,441.13 97.32,441.76 97.66,442.37 98.01,442.97 98.36,443.54 98.70,444.08 99.05,444.59 99.40,445.07 99.74,445.52 100.09,445.93 100.44,446.31 100.78,446.65 101.13,446.95 101.48,447.22 101.82,447.45 102.17,447.65 102.52,447.82 102.86,447.95 103.21,448.06 103.56,448.15 103.90,448.21 104.25,448.25 104.60,448.28 104.94,448.29 105.29,448.30 105.64,448.30 105.98,448.30 106.33,448.30 106.68,448.31 107.02,448.33 107.37,448.37 107.72,448.42 108.06,448.49 108.41,448.59 108.76,448.71 109.10,448.86 109.45,449.05 109.80,449.26 110.14,449.51 110.49,449.80 110.84,450.12 111.18,450.48 111.53,450.87 111.88,451.30 112.22,451.77 112.57,452.26 112.92,452.79 113.26,453.35 113.61,453.93 113.96,454.53 114.30,455.16 114.65,455.80 115.00,456.45 115.34,457.11 115.69,457.78 116.04,458.44 116.38,459.10 116.73,459.75 117.08,460.39 117.42,461.01 117.77,461.60 118.12,462.17 118.46,462.71 118.81,463.21 119.16,463.67 119.50,464.09 119.85,464.46 120.20,464.78 120.54,465.06 120.89,465.27 121.24,465.44 121.58,465.55 121.93,465.60 122.28,465.59 122.62,465.52 122.97,465.40 123.32,465.22 123.66,464.99 124.01,464.71 124.36,464.37 124.70,463.98 125.05,463.55 125.40,463.08 125.74,462.57 126.09,462.03 126.44,461.45 126.78,460.85 127.13,460.23 127.48,459.59 127.82,458.93 128.17,458.27 128.52,457.61 128.86,456.94 129.21,456.28 129.56,455.63 129.90,455.00 130.25,454.38 130.60,453.78 130.94,453.20 131.29,452.65 131.64,452.13 131.98,451.64 132.33,451.19 132.68,450.77 133.02,450.38 133.37,450.03 133.72,449.72 134.06,449.45 134.41,449.20 134.76,449.00 135.10,448.82 135.45,448.68 135.80,448.56 136.14,448.47 136.49,448.40 136.84,448.36 137.18,448.33 137.53,448.31 137.88,448.30 138.22,448.30 138.57,448.30 138.92,448.30 139.26,448.29 139.61,448.27 139.96,448.24 140.30,448.19 140.65,448.13 141.00,448.04 141.34,447.92 141.69,447.78 142.04,447.60 142.38,447.39 142.73,447.15 143.08,446.88 143.42,446.56 143.77,446.21 144.12,445.83 144.46,445.41 144.81,444.95 145.16,444.46 145.50,443.94 145.85,443.39 146.20,442.82 146.54,442.22 146.89,441.60 147.24,440.96 147.58,440.31 147.93,439.65 148.28,438.99 148.62,438.32 148.97,437.66 149.32,437.01 149.66,436.37 150.01,435.74 150.36,435.14 150.70,434.57 151.05,434.02 151.40,433.51 151.74,433.04 152.09,432.61 152.44,432.23 152.78,431.89 153.13,431.61 153.48,431.37 153.82,431.20 154.17,431.08 154.52,431.01 154.86,431.00 155.21,431.05 155.56,431.16 155.90,431.33 156.25,431.55 156.60,431.82 156.94,432.14 157.29,432.52 157.64,432.93 157.98,433.40 158.33,433.90 158.68,434.43 159.02,435.00 159.37,435.60 159.72,436.21 160.06,436.85 160.41,437.50 160.76,438.16 161.10,438.83 161.45,439.49 161.80,440.15 162.14,440.81 162.49,441.45 162.84,442.07 163.18,442.68 163.53,443.26 163.88,443.81 164.22,444.34 164.57,444.84 164.92,445.30 165.26,445.73 165.61,446.12 165.96,446.48 166.30,446.80 166.65,447.09 167.00,447.34 167.34,447.56 167.69,447.74 168.04,447.89 168.38,448.01 168.73,448.11 169.08,448.18 169.42,448.23 169.77,448.27 170.12,448.29 170.46,448.30 170.81,448.30 171.16,448.30 171.50,448.30 171.85,448.31 172.20,448.32 172.54,448.35 172.89,448.39 173.24,448.45 173.58,448.54 173.93,448.65 174.28,448.78 174.62,448.95 174.97,449.15 175.32,449.38 175.66,449.65 176.01,449.96 176.36,450.30 176.70,450.67 177.05,451.09" fill="none" stroke="#4169e1" stroke-width="0.9"/>
<path d="M68,475 V512.2 H182.9" fill="none" stroke="#3a3a3a" stroke-width="1.05"/>
<polyline points="73.05,476.50 73.40,476.59 73.74,476.85 74.09,477.27 74.44,477.87 74.78,478.62 75.13,479.53 75.48,480.58 75.82,481.76 76.17,483.07 76.52,484.48 76.86,485.98 77.21,487.56 77.56,489.21 77.90,490.90 78.25,492.62 78.60,494.36 78.94,496.09 79.29,497.79 79.64,499.46 79.98,501.07 80.33,502.61 80.68,504.06 81.02,505.41 81.37,506.64 81.72,507.75 82.06,508.72 82.41,509.54 82.76,510.20 83.10,510.70 83.45,511.03 83.80,511.18 84.14,511.17 84.49,510.98 84.84,510.62 85.18,510.10 85.53,509.41 85.88,508.56 86.22,507.57 86.57,506.44 86.92,505.19 87.26,503.82 87.61,502.36 87.96,500.80 88.30,499.18 88.65,497.51 89.00,495.80 89.34,494.06 89.69,492.33 90.04,490.61 90.38,488.93 90.73,487.29 91.08,485.72 91.42,484.23 91.77,482.84 92.12,481.55 92.46,480.39 92.81,479.37 93.16,478.49 93.50,477.76 93.85,477.19 94.20,476.79 94.54,476.56 94.89,476.50 95.24,476.62 95.58,476.91 95.93,477.36 96.28,477.99 96.62,478.77 96.97,479.70 97.32,480.77 97.66,481.97 98.01,483.30 98.36,484.72 98.70,486.24 99.05,487.84 99.40,489.49 99.74,491.19 100.09,492.91 100.44,494.65 100.78,496.37 101.13,498.08 101.48,499.73 101.82,501.33 102.17,502.86 102.52,504.29 102.86,505.63 103.21,506.84 103.56,507.92 103.90,508.87 104.25,509.66 104.60,510.29 104.94,510.76 105.29,511.07 105.64,511.19 105.98,511.15 106.33,510.93 106.68,510.55 107.02,509.99 107.37,509.28 107.72,508.41 108.06,507.39 108.41,506.24 108.76,504.97 109.10,503.58 109.45,502.10 109.80,500.54 110.14,498.90 110.49,497.22 110.84,495.51 111.18,493.77 111.53,492.04 111.88,490.33 112.22,488.65 112.57,487.02 112.92,485.46 113.26,483.99 113.61,482.61 113.96,481.35 114.30,480.21 114.65,479.21 115.00,478.35 115.34,477.65 115.69,477.11 116.04,476.74 116.38,476.54 116.73,476.51 117.08,476.65 117.42,476.97 117.77,477.46 118.12,478.11 118.46,478.91 118.81,479.87 119.16,480.96 119.50,482.19 119.85,483.53 120.20,484.97 120.54,486.50 120.89,488.11 121.24,489.77 121.58,491.48 121.93,493.21 122.28,494.94 122.62,496.66 122.97,498.36 123.32,500.01 123.66,501.60 124.01,503.11 124.36,504.53 124.70,505.84 125.05,507.03 125.40,508.09 125.74,509.01 126.09,509.78 126.44,510.38 126.78,510.83 127.13,511.10 127.48,511.20 127.82,511.13 128.17,510.88 128.52,510.47 128.86,509.88 129.21,509.14 129.56,508.25 129.90,507.21 130.25,506.04 130.60,504.74 130.94,503.34 131.29,501.84 131.64,500.27 131.98,498.62 132.33,496.93 132.68,495.22 133.02,493.48 133.37,491.75 133.72,490.04 134.06,488.37 134.41,486.76 134.76,485.21 135.10,483.75 135.45,482.39 135.80,481.15 136.14,480.03 136.49,479.05 136.84,478.22 137.18,477.55 137.53,477.04 137.88,476.69 138.22,476.52 138.57,476.52 138.92,476.70 139.26,477.04 139.61,477.55 139.96,478.23 140.30,479.06 140.65,480.04 141.00,481.16 141.34,482.41 141.69,483.76 142.04,485.22 142.38,486.77 142.73,488.39 143.08,490.06 143.42,491.77 143.77,493.50 144.12,495.23 144.46,496.95 144.81,498.64 145.16,500.28 145.50,501.86 145.85,503.35 146.20,504.75 146.54,506.05 146.89,507.22 147.24,508.26 147.58,509.15 147.93,509.89 148.28,510.47 148.62,510.88 148.97,511.13 149.32,511.20 149.66,511.10 150.01,510.82 150.36,510.38 150.70,509.77 151.05,509.00 151.40,508.08 151.74,507.02 152.09,505.83 152.44,504.51 152.78,503.09 153.13,501.58 153.48,499.99 153.82,498.34 154.17,496.65 154.52,494.92 154.86,493.19 155.21,491.46 155.56,489.76 155.90,488.10 156.25,486.49 156.60,484.96 156.94,483.52 157.29,482.18 157.64,480.95 157.98,479.86 158.33,478.90 158.68,478.10 159.02,477.45 159.37,476.97 159.72,476.65 160.06,476.51 160.41,476.54 160.76,476.74 161.10,477.12 161.45,477.66 161.80,478.36 162.14,479.22 162.49,480.22 162.84,481.36 163.18,482.63 163.53,484.00 163.88,485.48 164.22,487.04 164.57,488.66 164.92,490.34 165.26,492.06 165.61,493.79 165.96,495.52 166.30,497.24 166.65,498.92 167.00,500.55 167.34,502.11 167.69,503.60 168.04,504.98 168.38,506.25 168.73,507.40 169.08,508.42 169.42,509.28 169.77,510.00 170.12,510.55 170.46,510.94 170.81,511.15 171.16,511.19 171.50,511.06 171.85,510.76 172.20,510.29 172.54,509.65 172.89,508.86 173.24,507.91 173.58,506.83 173.93,505.61 174.28,504.28 174.62,502.85 174.97,501.32 175.32,499.72 175.66,498.06 176.01,496.36 176.36,494.63 176.70,492.90 177.05,491.17" fill="none" stroke="#d62728" stroke-width="0.9"/>
<line x1="66.00" y1="431.00" x2="68.00" y2="431.00" stroke="#333" stroke-width="1" />
<line x1="66.00" y1="465.60" x2="68.00" y2="465.60" stroke="#333" stroke-width="1" />
<text x="65.30" y="433.50" font-family='"Liberation Sans", sans-serif' font-size="7.4" text-anchor="end" fill="#222" textLength="11.77" lengthAdjust="spacingAndGlyphs" >1.0</text>
<text x="65.30" y="468.10" font-family='"Liberation Sans", sans-serif' font-size="7.4" text-anchor="end" fill="#222" textLength="14.44" lengthAdjust="spacingAndGlyphs" >-1.0</text>
<line x1="66.00" y1="476.50" x2="68.00" y2="476.50" stroke="#333" stroke-width="1" />
<line x1="66.00" y1="511.20" x2="68.00" y2="511.20" stroke="#333" stroke-width="1" />
<text x="65.30" y="479.00" font-family='"Liberation Sans", sans-serif' font-size="7.4" text-anchor="end" fill="#222" textLength="11.77" lengthAdjust="spacingAndGlyphs" >1.0</text>
<text x="65.30" y="513.70" font-family='"Liberation Sans", sans-serif' font-size="7.4" text-anchor="end" fill="#222" textLength="14.44" lengthAdjust="spacingAndGlyphs" >-1.0</text>
<line x1="73.05" y1="467.40" x2="73.05" y2="469.20" stroke="#333" stroke-width="1" />
<line x1="73.05" y1="512.20" x2="73.05" y2="514.00" stroke="#333" stroke-width="1" />
<text x="73.05" y="521.10" font-family='"Liberation Sans", sans-serif' font-size="7.4" text-anchor="middle" fill="#222" textLength="4.71" lengthAdjust="spacingAndGlyphs" >0</text>
<line x1="125.05" y1="467.40" x2="125.05" y2="469.20" stroke="#333" stroke-width="1" />
<line x1="125.05" y1="512.20" x2="125.05" y2="514.00" stroke="#333" stroke-width="1" />
<text x="125.05" y="521.10" font-family='"Liberation Sans", sans-serif' font-size="7.4" text-anchor="middle" fill="#222" textLength="4.71" lengthAdjust="spacingAndGlyphs" >5</text>
<line x1="177.05" y1="467.40" x2="177.05" y2="469.20" stroke="#333" stroke-width="1" />
<line x1="177.05" y1="512.20" x2="177.05" y2="514.00" stroke="#333" stroke-width="1" />
<text x="177.05" y="521.10" font-family='"Liberation Sans", sans-serif' font-size="7.4" text-anchor="middle" fill="#222" textLength="9.41" lengthAdjust="spacingAndGlyphs" >10</text>
<text x="124.90" y="529.30" font-family='"Liberation Sans", sans-serif' font-size="7.4" text-anchor="middle" fill="#222" textLength="28.70" lengthAdjust="spacingAndGlyphs" >time (s)</text>
<path d="M180.7,446.4 L185.1,450.6 M185.1,446.4 L180.7,450.6" stroke="#222" stroke-width="0.85"/>
<path d="M180.7,491.7 L185.1,495.90000000000003 M185.1,491.7 L180.7,495.90000000000003" stroke="#222" stroke-width="0.85"/>
<text transform="translate(47.4,448) rotate(-90)" font-family='"Liberation Sans", sans-serif' font-size="8.2" font-style="italic" text-anchor="middle" fill="#222">f<tspan font-size="5.6" dy="1.6" font-style="normal">1</tspan><tspan dy="-1.6" font-style="normal">(</tspan>x<tspan font-style="normal">)</tspan></text>
<text transform="translate(47.4,494) rotate(-90)" font-family='"Liberation Sans", sans-serif' font-size="8.2" font-style="italic" text-anchor="middle" fill="#222">f<tspan font-size="5.6" dy="1.6" font-style="normal">2</tspan><tspan dy="-1.6" font-style="normal">(</tspan>x<tspan font-style="normal">)</tspan></text>
<path d="M205.6,429.5 V466.7 H319.5" fill="none" stroke="#3a3a3a" stroke-width="1.05"/>
<path d="M205.6,475.5 V512.1 H319.5" fill="none" stroke="#3a3a3a" stroke-width="1.05"/>
<polyline points="210.8,430.8 236.38920000000002,430.8 236.38920000000002,465.1 262.6,465.1 262.6,430.8 314.4,430.8" fill="none" stroke="#4169e1" stroke-width="0.9"/>
<polyline points="210.8,510.5 236.38920000000002,510.5 236.38920000000002,476.7 279.9012,476.7 279.9012,510.5 314.4,510.5" fill="none" stroke="#d62728" stroke-width="0.9"/>
<line x1="203.60" y1="430.80" x2="205.60" y2="430.80" stroke="#333" stroke-width="1" />
<line x1="203.60" y1="465.10" x2="205.60" y2="465.10" stroke="#333" stroke-width="1" />
<text x="203.00" y="433.30" font-family='"Liberation Sans", sans-serif' font-size="7.4" text-anchor="end" fill="#222" textLength="11.77" lengthAdjust="spacingAndGlyphs" >1.0</text>
<text x="203.00" y="467.60" font-family='"Liberation Sans", sans-serif' font-size="7.4" text-anchor="end" fill="#222" textLength="11.77" lengthAdjust="spacingAndGlyphs" >0.0</text>
<line x1="203.60" y1="476.70" x2="205.60" y2="476.70" stroke="#333" stroke-width="1" />
<line x1="203.60" y1="510.50" x2="205.60" y2="510.50" stroke="#333" stroke-width="1" />
<text x="203.00" y="479.20" font-family='"Liberation Sans", sans-serif' font-size="7.4" text-anchor="end" fill="#222" textLength="11.77" lengthAdjust="spacingAndGlyphs" >1.0</text>
<text x="203.00" y="513.00" font-family='"Liberation Sans", sans-serif' font-size="7.4" text-anchor="end" fill="#222" textLength="11.77" lengthAdjust="spacingAndGlyphs" >0.0</text>
<line x1="210.80" y1="466.70" x2="210.80" y2="468.50" stroke="#333" stroke-width="1" />
<line x1="210.80" y1="512.10" x2="210.80" y2="513.90" stroke="#333" stroke-width="1" />
<text x="210.80" y="521.10" font-family='"Liberation Sans", sans-serif' font-size="7.4" text-anchor="middle" fill="#222" textLength="4.71" lengthAdjust="spacingAndGlyphs" >0</text>
<line x1="262.60" y1="466.70" x2="262.60" y2="468.50" stroke="#333" stroke-width="1" />
<line x1="262.60" y1="512.10" x2="262.60" y2="513.90" stroke="#333" stroke-width="1" />
<text x="262.60" y="521.10" font-family='"Liberation Sans", sans-serif' font-size="7.4" text-anchor="middle" fill="#222" textLength="4.71" lengthAdjust="spacingAndGlyphs" >5</text>
<line x1="314.40" y1="466.70" x2="314.40" y2="468.50" stroke="#333" stroke-width="1" />
<line x1="314.40" y1="512.10" x2="314.40" y2="513.90" stroke="#333" stroke-width="1" />
<text x="314.40" y="521.10" font-family='"Liberation Sans", sans-serif' font-size="7.4" text-anchor="middle" fill="#222" textLength="9.41" lengthAdjust="spacingAndGlyphs" >10</text>
<text x="262.50" y="529.30" font-family='"Liberation Sans", sans-serif' font-size="7.4" text-anchor="middle" fill="#222" textLength="28.70" lengthAdjust="spacingAndGlyphs" >time (s)</text>
<text transform="translate(200.9,448) rotate(-90)" font-family='"Liberation Sans", sans-serif' font-size="8.2" font-style="italic" text-anchor="middle" fill="#222">Z<tspan font-size="5.6" dy="1.6" font-style="normal">1</tspan></text>
<text transform="translate(200.9,494) rotate(-90)" font-family='"Liberation Sans", sans-serif' font-size="8.2" font-style="italic" text-anchor="middle" fill="#222">Z<tspan font-size="5.6" dy="1.6" font-style="normal">2</tspan></text>
<circle cx="323" cy="473.2" r="3.1" fill="#111"/>
<text transform="translate(336.8,470.9) rotate(-90)" font-family='"Liberation Sans", sans-serif' font-size="5.5" text-anchor="middle">D</text>
<rect x="340.30" y="460.40" width="4.42" height="10.80" fill="rgb(90,90,90)" />
<rect x="340.30" y="471.15" width="4.42" height="10.80" fill="rgb(110,110,110)" />
<rect x="344.68" y="460.40" width="4.42" height="10.80" fill="rgb(140,140,140)" />
<rect x="344.68" y="471.15" width="4.42" height="10.80" fill="rgb(80,80,80)" />
<rect x="349.05" y="460.40" width="4.42" height="10.80" fill="rgb(140,140,140)" />
<rect x="349.05" y="471.15" width="4.42" height="10.80" fill="rgb(110,110,110)" />
<rect x="353.43" y="460.40" width="4.42" height="10.80" fill="rgb(10,10,10)" />
<rect x="353.43" y="471.15" width="4.42" height="10.80" fill="rgb(190,190,190)" />
<rect x="357.80" y="460.40" width="4.42" height="10.80" fill="rgb(95,95,95)" />
<rect x="357.80" y="471.15" width="4.42" height="10.80" fill="rgb(100,100,100)" />
<rect x="362.18" y="460.40" width="4.42" height="10.80" fill="rgb(95,95,95)" />
<rect x="362.18" y="471.15" width="4.42" height="10.80" fill="rgb(50,50,50)" />
<rect x="366.55" y="460.40" width="4.42" height="10.80" fill="rgb(170,170,170)" />
<rect x="366.55" y="471.15" width="4.42" height="10.80" fill="rgb(100,100,100)" />
<rect x="370.93" y="460.40" width="4.42" height="10.80" fill="rgb(185,185,185)" />
<rect x="370.93" y="471.15" width="4.42" height="10.80" fill="rgb(150,150,150)" />
<rect x="375.30" y="460.40" width="4.42" height="10.80" fill="rgb(85,85,85)" />
<rect x="375.30" y="471.15" width="4.42" height="10.80" fill="rgb(130,130,130)" />
<rect x="379.68" y="460.40" width="4.42" height="10.80" fill="rgb(80,80,80)" />
<rect x="379.68" y="471.15" width="4.42" height="10.80" fill="rgb(60,60,60)" />
<rect x="384.05" y="460.40" width="4.42" height="10.80" fill="rgb(80,80,80)" />
<rect x="384.05" y="471.15" width="4.42" height="10.80" fill="rgb(110,110,110)" />
<rect x="388.43" y="460.40" width="4.42" height="10.80" fill="rgb(85,85,85)" />
<rect x="388.43" y="471.15" width="4.42" height="10.80" fill="rgb(160,160,160)" />
<rect x="392.80" y="460.40" width="4.42" height="10.80" fill="rgb(85,85,85)" />
<rect x="392.80" y="471.15" width="4.42" height="10.80" fill="rgb(120,120,120)" />
<rect x="397.18" y="460.40" width="4.42" height="10.80" fill="rgb(175,175,175)" />
<rect x="397.18" y="471.15" width="4.42" height="10.80" fill="rgb(170,170,170)" />
<rect x="401.55" y="460.40" width="4.42" height="10.80" fill="rgb(120,120,120)" />
<rect x="401.55" y="471.15" width="4.42" height="10.80" fill="rgb(150,150,150)" />
<rect x="405.93" y="460.40" width="4.42" height="10.80" fill="rgb(120,120,120)" />
<rect x="405.93" y="471.15" width="4.42" height="10.80" fill="rgb(250,250,250)" />
<rect x="410.30" y="460.40" width="4.42" height="10.80" fill="rgb(80,80,80)" />
<rect x="410.30" y="471.15" width="4.42" height="10.80" fill="rgb(140,140,140)" />
<rect x="414.68" y="460.40" width="4.42" height="10.80" fill="rgb(150,150,150)" />
<rect x="414.68" y="471.15" width="4.42" height="10.80" fill="rgb(120,120,120)" />
<rect x="419.05" y="460.40" width="4.42" height="10.80" fill="rgb(120,120,120)" />
<rect x="419.05" y="471.15" width="4.42" height="10.80" fill="rgb(200,200,200)" />
<rect x="423.43" y="460.40" width="4.42" height="10.80" fill="rgb(70,70,70)" />
<rect x="423.43" y="471.15" width="4.42" height="10.80" fill="rgb(120,120,120)" />
<rect x="340.3" y="460.4" width="87.50" height="21.50" fill="none" stroke="#000" stroke-width="1.2"/>
<text x="384" y="489" font-family='"Liberation Sans", sans-serif' font-size="5.5" text-anchor="middle">M</text>
<text x="419.13" y="448.80" font-family='"Liberation Sans", sans-serif' font-size="14.69" font-weight="normal" font-style="normal" fill="#111">exp(</text>
<circle cx="451.2" cy="444.9" r="0.85" fill="#111"/>
<text x="454.54" y="448.80" font-family='"Liberation Sans", sans-serif' font-size="14.69" font-weight="normal" font-style="normal" fill="#111">)</text>
<path d="M430,470.2 H439.4 V467 L448.3,472 L439.4,477 V473.8 H430 Z" fill="#1a1a1a"/>
<defs><filter id="bl" x="-50%" y="-50%" width="200%" height="200%"><feGaussianBlur stdDeviation="1.2 0.5"/></filter><linearGradient id="jet" x1="0" y1="1" x2="0" y2="0"><stop offset="0" stop-color="#00007f"/><stop offset="0.11" stop-color="#0000ff"/><stop offset="0.125" stop-color="#0000ff"/><stop offset="0.34" stop-color="#00dcff"/><stop offset="0.35" stop-color="#00e4f8"/><stop offset="0.5" stop-color="#7dff7a"/><stop offset="0.64" stop-color="#ffe600"/><stop offset="0.66" stop-color="#ffde00"/><stop offset="0.89" stop-color="#f10800"/><stop offset="1" stop-color="#7f0000"/></linearGradient><clipPath id="hc"><rect x="474.2" y="430.2" width="114.1" height="84.4"/></clipPath></defs>
<rect x="474.20" y="430.20" width="114.10" height="84.40" fill="#000098" />
<g clip-path="url(#hc)"><g filter="url(#bl)">
<rect x="474.20" y="513.68" width="114.10" height="1.00" fill="#0000d8" opacity="0.52"/>
<rect x="572.39" y="513.68" width="12.64" height="1.00" fill="#0010f0" opacity="0.53"/>
<rect x="499.15" y="512.83" width="9.28" height="1.00" fill="#0010f0" opacity="0.70"/>
<rect x="474.20" y="511.99" width="114.10" height="1.00" fill="#0000d8" opacity="0.63"/>
<rect x="510.49" y="511.99" width="18.05" height="1.00" fill="#0010f0" opacity="0.39"/>
<rect x="474.20" y="511.15" width="114.10" height="1.00" fill="#0000d8" opacity="0.67"/>
<rect x="551.08" y="511.15" width="15.40" height="1.00" fill="#0010f0" opacity="0.33"/>
<rect x="470.62" y="510.30" width="16.92" height="1.00" fill="#0010f0" opacity="0.63"/>
<rect x="497.78" y="510.30" width="14.33" height="1.00" fill="#0010f0" opacity="0.67"/>
<rect x="474.20" y="509.46" width="114.10" height="1.00" fill="#0000d8" opacity="0.62"/>
<rect x="510.66" y="509.46" width="17.21" height="1.00" fill="#0010f0" opacity="0.48"/>
<rect x="481.37" y="508.61" width="7.90" height="1.00" fill="#0010f0" opacity="0.39"/>
<rect x="554.09" y="507.77" width="17.97" height="1.00" fill="#0010f0" opacity="0.47"/>
<rect x="507.14" y="506.93" width="14.19" height="1.00" fill="#0010f0" opacity="0.53"/>
<rect x="569.60" y="506.93" width="15.55" height="1.00" fill="#0010f0" opacity="0.67"/>
<rect x="546.65" y="506.08" width="8.28" height="1.00" fill="#0010f0" opacity="0.64"/>
<rect x="574.93" y="506.08" width="18.67" height="1.00" fill="#0010f0" opacity="0.53"/>
<rect x="500.80" y="504.39" width="7.74" height="1.00" fill="#0010f0" opacity="0.49"/>
<rect x="540.70" y="504.39" width="12.77" height="1.00" fill="#0010f0" opacity="0.44"/>
<rect x="474.20" y="503.55" width="114.10" height="1.00" fill="#0000d8" opacity="0.66"/>
<rect x="474.20" y="502.71" width="114.10" height="1.00" fill="#0000d8" opacity="0.61"/>
<rect x="474.20" y="501.86" width="114.10" height="1.00" fill="#0000d8" opacity="0.55"/>
<rect x="474.20" y="501.02" width="114.10" height="1.00" fill="#0000d8" opacity="0.53"/>
<rect x="564.85" y="501.02" width="19.73" height="1.00" fill="#0010f0" opacity="0.50"/>
<rect x="582.96" y="501.02" width="10.34" height="1.00" fill="#0010f0" opacity="0.33"/>
<rect x="502.63" y="499.33" width="9.69" height="1.00" fill="#0010f0" opacity="0.58"/>
<rect x="500.30" y="498.49" width="19.42" height="1.00" fill="#0010f0" opacity="0.66"/>
<rect x="474.20" y="497.64" width="114.10" height="1.00" fill="#0000d8" opacity="0.48"/>
<rect x="509.20" y="497.64" width="18.14" height="1.00" fill="#0010f0" opacity="0.57"/>
<rect x="476.09" y="497.64" width="19.62" height="1.00" fill="#0010f0" opacity="0.62"/>
<rect x="474.20" y="496.80" width="114.10" height="1.00" fill="#0000d8" opacity="0.55"/>
<rect x="496.21" y="496.80" width="10.22" height="1.00" fill="#0010f0" opacity="0.69"/>
<rect x="526.82" y="496.80" width="13.68" height="1.00" fill="#0010f0" opacity="0.30"/>
<rect x="474.20" y="495.95" width="114.10" height="1.00" fill="#0000d8" opacity="0.53"/>
<rect x="474.20" y="495.11" width="114.10" height="1.00" fill="#0000d8" opacity="0.54"/>
<rect x="474.20" y="494.27" width="114.10" height="1.00" fill="#0000d8" opacity="0.55"/>
<rect x="505.05" y="494.27" width="18.84" height="1.00" fill="#0010f0" opacity="0.54"/>
<rect x="474.20" y="493.42" width="114.10" height="1.00" fill="#0000d8" opacity="0.50"/>
<rect x="473.38" y="493.42" width="15.46" height="1.00" fill="#0010f0" opacity="0.69"/>
<rect x="496.66" y="493.42" width="12.39" height="1.00" fill="#0010f0" opacity="0.54"/>
<rect x="474.20" y="492.58" width="114.10" height="1.00" fill="#0000d8" opacity="0.45"/>
<rect x="551.79" y="492.58" width="17.81" height="1.00" fill="#0010f0" opacity="0.41"/>
<rect x="552.91" y="490.05" width="10.34" height="1.00" fill="#0010f0" opacity="0.39"/>
<rect x="561.24" y="490.05" width="9.34" height="1.00" fill="#0010f0" opacity="0.37"/>
<rect x="474.20" y="489.20" width="114.10" height="1.00" fill="#0000d8" opacity="0.58"/>
<rect x="546.64" y="488.36" width="9.14" height="1.00" fill="#0010f0" opacity="0.62"/>
<rect x="474.20" y="486.67" width="114.10" height="1.00" fill="#0000d8" opacity="0.56"/>
<rect x="521.10" y="486.67" width="9.15" height="1.00" fill="#0010f0" opacity="0.35"/>
<rect x="530.29" y="486.67" width="8.67" height="1.00" fill="#0010f0" opacity="0.62"/>
<rect x="558.81" y="484.98" width="14.99" height="1.00" fill="#0010f0" opacity="0.62"/>
<rect x="474.20" y="484.14" width="114.10" height="1.00" fill="#0000d8" opacity="0.35"/>
<rect x="524.40" y="484.14" width="17.90" height="1.00" fill="#0010f0" opacity="0.49"/>
<rect x="516.23" y="483.29" width="11.73" height="1.00" fill="#0010f0" opacity="0.67"/>
<rect x="474.20" y="482.45" width="114.10" height="1.00" fill="#0000d8" opacity="0.30"/>
<rect x="580.77" y="482.45" width="12.08" height="1.00" fill="#0010f0" opacity="0.68"/>
<rect x="575.46" y="482.45" width="9.11" height="1.00" fill="#0010f0" opacity="0.60"/>
<rect x="549.80" y="481.61" width="19.49" height="1.00" fill="#0010f0" opacity="0.52"/>
<rect x="566.68" y="481.61" width="18.06" height="1.00" fill="#0010f0" opacity="0.64"/>
<rect x="474.20" y="479.07" width="114.10" height="1.00" fill="#0000d8" opacity="0.62"/>
<rect x="570.34" y="479.07" width="18.55" height="1.00" fill="#0010f0" opacity="0.66"/>
<rect x="536.94" y="479.07" width="6.18" height="1.00" fill="#0010f0" opacity="0.60"/>
<rect x="474.20" y="478.23" width="114.10" height="1.00" fill="#0000d8" opacity="0.42"/>
<rect x="469.71" y="478.23" width="13.52" height="1.00" fill="#0010f0" opacity="0.32"/>
<rect x="574.59" y="478.23" width="7.59" height="1.00" fill="#0010f0" opacity="0.35"/>
<rect x="520.17" y="477.39" width="16.95" height="1.00" fill="#0010f0" opacity="0.44"/>
<rect x="489.97" y="477.39" width="13.48" height="1.00" fill="#0010f0" opacity="0.63"/>
<rect x="474.20" y="476.54" width="114.10" height="1.00" fill="#0000d8" opacity="0.62"/>
<rect x="474.20" y="474.85" width="114.10" height="1.00" fill="#0000d8" opacity="0.53"/>
<rect x="475.00" y="474.85" width="9.80" height="1.00" fill="#0010f0" opacity="0.41"/>
<rect x="474.20" y="474.01" width="114.10" height="1.00" fill="#0000d8" opacity="0.47"/>
<rect x="502.33" y="474.01" width="17.47" height="1.00" fill="#0010f0" opacity="0.64"/>
<rect x="474.20" y="472.32" width="114.10" height="1.00" fill="#0000d8" opacity="0.33"/>
<rect x="474.20" y="470.63" width="114.10" height="1.00" fill="#0000d8" opacity="0.50"/>
<rect x="474.20" y="469.79" width="114.10" height="1.00" fill="#0000d8" opacity="0.44"/>
<rect x="513.53" y="469.79" width="10.26" height="1.00" fill="#0010f0" opacity="0.41"/>
<rect x="580.93" y="469.79" width="12.00" height="1.00" fill="#0010f0" opacity="0.35"/>
<rect x="474.20" y="468.95" width="114.10" height="1.00" fill="#0000d8" opacity="0.59"/>
<rect x="474.20" y="467.26" width="114.10" height="1.00" fill="#0000d8" opacity="0.54"/>
<rect x="508.98" y="467.26" width="17.22" height="1.00" fill="#0010f0" opacity="0.55"/>
<rect x="517.84" y="467.26" width="11.21" height="1.00" fill="#0010f0" opacity="0.50"/>
<rect x="576.70" y="466.41" width="11.86" height="1.00" fill="#0010f0" opacity="0.31"/>
<rect x="474.20" y="465.57" width="114.10" height="1.00" fill="#0000d8" opacity="0.41"/>
<rect x="476.39" y="465.57" width="11.95" height="1.00" fill="#0010f0" opacity="0.47"/>
<rect x="565.01" y="465.57" width="19.11" height="1.00" fill="#0010f0" opacity="0.45"/>
<rect x="480.22" y="464.73" width="15.67" height="1.00" fill="#0010f0" opacity="0.68"/>
<rect x="556.95" y="463.88" width="15.35" height="1.00" fill="#0010f0" opacity="0.59"/>
<rect x="534.81" y="463.88" width="7.44" height="1.00" fill="#0010f0" opacity="0.54"/>
<rect x="474.20" y="463.04" width="114.10" height="1.00" fill="#0000d8" opacity="0.36"/>
<rect x="475.61" y="463.04" width="7.29" height="1.00" fill="#0010f0" opacity="0.34"/>
<rect x="566.37" y="461.35" width="7.70" height="1.00" fill="#0010f0" opacity="0.64"/>
<rect x="575.82" y="460.51" width="14.11" height="1.00" fill="#0010f0" opacity="0.62"/>
<rect x="469.97" y="460.51" width="16.74" height="1.00" fill="#0010f0" opacity="0.50"/>
<rect x="491.24" y="457.13" width="7.08" height="1.00" fill="#0010f0" opacity="0.70"/>
<rect x="541.73" y="457.13" width="12.36" height="1.00" fill="#0010f0" opacity="0.58"/>
<rect x="510.35" y="456.29" width="11.55" height="1.00" fill="#0010f0" opacity="0.44"/>
<rect x="474.20" y="455.44" width="114.10" height="1.00" fill="#0000d8" opacity="0.33"/>
<rect x="491.54" y="455.44" width="19.01" height="1.00" fill="#0010f0" opacity="0.64"/>
<rect x="578.64" y="455.44" width="11.81" height="1.00" fill="#0010f0" opacity="0.53"/>
<rect x="548.33" y="454.60" width="8.19" height="1.00" fill="#0010f0" opacity="0.46"/>
<rect x="571.33" y="454.60" width="8.28" height="1.00" fill="#0010f0" opacity="0.50"/>
<rect x="474.20" y="453.75" width="114.10" height="1.00" fill="#0000d8" opacity="0.58"/>
<rect x="532.11" y="453.75" width="18.01" height="1.00" fill="#0010f0" opacity="0.35"/>
<rect x="571.90" y="452.07" width="17.92" height="1.00" fill="#0010f0" opacity="0.52"/>
<rect x="548.79" y="451.22" width="11.78" height="1.00" fill="#0010f0" opacity="0.64"/>
<rect x="536.04" y="451.22" width="9.74" height="1.00" fill="#0010f0" opacity="0.39"/>
<rect x="474.20" y="450.38" width="114.10" height="1.00" fill="#0000d8" opacity="0.49"/>
<rect x="490.10" y="450.38" width="13.98" height="1.00" fill="#0010f0" opacity="0.40"/>
<rect x="474.20" y="449.53" width="114.10" height="1.00" fill="#0000d8" opacity="0.65"/>
<rect x="580.94" y="449.53" width="12.71" height="1.00" fill="#0010f0" opacity="0.54"/>
<rect x="474.20" y="448.69" width="114.10" height="1.00" fill="#0000d8" opacity="0.63"/>
<rect x="531.40" y="448.69" width="12.74" height="1.00" fill="#0010f0" opacity="0.59"/>
<rect x="566.14" y="448.69" width="11.60" height="1.00" fill="#0010f0" opacity="0.59"/>
<rect x="568.90" y="447.85" width="18.47" height="1.00" fill="#0010f0" opacity="0.56"/>
<rect x="497.50" y="446.16" width="8.65" height="1.00" fill="#0010f0" opacity="0.40"/>
<rect x="474.20" y="445.31" width="114.10" height="1.00" fill="#0000d8" opacity="0.58"/>
<rect x="490.25" y="444.47" width="6.63" height="1.00" fill="#0010f0" opacity="0.37"/>
<rect x="474.20" y="443.63" width="114.10" height="1.00" fill="#0000d8" opacity="0.62"/>
<rect x="474.20" y="442.78" width="114.10" height="1.00" fill="#0000d8" opacity="0.63"/>
<rect x="472.16" y="442.78" width="12.33" height="1.00" fill="#0010f0" opacity="0.59"/>
<rect x="474.20" y="441.94" width="114.10" height="1.00" fill="#0000d8" opacity="0.31"/>
<rect x="517.57" y="441.94" width="12.80" height="1.00" fill="#0010f0" opacity="0.38"/>
<rect x="511.99" y="441.09" width="13.62" height="1.00" fill="#0010f0" opacity="0.35"/>
<rect x="474.20" y="440.25" width="114.10" height="1.00" fill="#0000d8" opacity="0.57"/>
<rect x="474.20" y="439.41" width="114.10" height="1.00" fill="#0000d8" opacity="0.51"/>
<rect x="475.67" y="439.41" width="19.18" height="1.00" fill="#0010f0" opacity="0.45"/>
<rect x="500.19" y="438.56" width="15.46" height="1.00" fill="#0010f0" opacity="0.56"/>
<rect x="476.82" y="437.72" width="19.22" height="1.00" fill="#0010f0" opacity="0.44"/>
<rect x="480.67" y="436.87" width="12.91" height="1.00" fill="#0010f0" opacity="0.44"/>
<rect x="548.38" y="436.87" width="15.50" height="1.00" fill="#0010f0" opacity="0.53"/>
<rect x="474.20" y="436.03" width="114.10" height="1.00" fill="#0000d8" opacity="0.56"/>
<rect x="485.67" y="436.03" width="11.19" height="1.00" fill="#0010f0" opacity="0.67"/>
<rect x="522.27" y="436.03" width="7.52" height="1.00" fill="#0010f0" opacity="0.52"/>
<rect x="549.22" y="435.19" width="14.36" height="1.00" fill="#0010f0" opacity="0.52"/>
<rect x="541.87" y="435.19" width="12.41" height="1.00" fill="#0010f0" opacity="0.42"/>
<rect x="474.20" y="434.34" width="114.10" height="1.00" fill="#0000d8" opacity="0.33"/>
<rect x="488.00" y="434.34" width="13.75" height="1.00" fill="#0010f0" opacity="0.53"/>
<rect x="515.21" y="434.34" width="7.40" height="1.00" fill="#0010f0" opacity="0.41"/>
<rect x="474.20" y="433.50" width="114.10" height="1.00" fill="#0000d8" opacity="0.35"/>
<rect x="527.06" y="433.50" width="9.46" height="1.00" fill="#0010f0" opacity="0.61"/>
<rect x="474.20" y="432.65" width="114.10" height="1.00" fill="#0000d8" opacity="0.43"/>
<rect x="516.68" y="432.65" width="17.33" height="1.00" fill="#0010f0" opacity="0.33"/>
<rect x="474.20" y="431.81" width="114.10" height="1.00" fill="#0000d8" opacity="0.70"/>
<rect x="474.20" y="430.97" width="114.10" height="1.00" fill="#0000d8" opacity="0.34"/>
<rect x="479.10" y="430.12" width="15.77" height="1.00" fill="#0010f0" opacity="0.53"/>
<rect x="544.93" y="430.12" width="11.48" height="1.00" fill="#0010f0" opacity="0.69"/>
<ellipse cx="524.30" cy="439.40" rx="3.4" ry="0.95" fill="#5a98ff"/>
<ellipse cx="522.70" cy="450.40" rx="3.6" ry="0.95" fill="#1040ff"/>
<ellipse cx="497.60" cy="452.80" rx="3.6" ry="0.95" fill="#1040ff"/>
<ellipse cx="498.40" cy="455.90" rx="3.4" ry="0.95" fill="#5a98ff"/>
<ellipse cx="522.70" cy="455.90" rx="3.2" ry="0.9" fill="#90e0b0"/>
<ellipse cx="477.10" cy="455.90" rx="3.4" ry="0.95" fill="#5a98ff"/>
<ellipse cx="497.60" cy="463.50" rx="3.4" ry="0.95" fill="#5a98ff"/>
<ellipse cx="522.70" cy="467.00" rx="3.0" ry="0.85" fill="#f0d030"/>
<ellipse cx="477.00" cy="467.00" rx="3.6" ry="0.95" fill="#1040ff"/>
<ellipse cx="498.40" cy="469.30" rx="3.4" ry="0.95" fill="#5a98ff"/>
<ellipse cx="528.20" cy="473.70" rx="3.4" ry="0.95" fill="#5a98ff"/>
<ellipse cx="489.70" cy="478.00" rx="3.6" ry="0.95" fill="#1040ff"/>
<ellipse cx="522.70" cy="476.40" rx="3.6" ry="0.95" fill="#1040ff"/>
<ellipse cx="498.40" cy="483.50" rx="3.4" ry="0.95" fill="#5a98ff"/>
<ellipse cx="477.10" cy="483.50" rx="3.6" ry="0.95" fill="#1040ff"/>
<ellipse cx="522.70" cy="483.50" rx="3.6" ry="0.95" fill="#1040ff"/>
<ellipse cx="488.20" cy="491.30" rx="3.0" ry="0.85" fill="#f0d030"/>
<ellipse cx="510.20" cy="491.30" rx="3.6" ry="0.95" fill="#1040ff"/>
<ellipse cx="524.30" cy="496.00" rx="3.6" ry="0.95" fill="#1040ff"/>
<ellipse cx="510.20" cy="506.70" rx="3.6" ry="0.95" fill="#1040ff"/>
<ellipse cx="488.20" cy="507.00" rx="3.6" ry="0.95" fill="#1040ff"/>
<ellipse cx="496.80" cy="514.00" rx="3.4" ry="1.1" fill="#d01000"/>
<ellipse cx="533.10" cy="435.50" rx="3.6" ry="0.95" fill="#1040ff"/>
<ellipse cx="545.70" cy="455.90" rx="3.4" ry="0.95" fill="#5a98ff"/>
<ellipse cx="568.50" cy="455.90" rx="3.4" ry="0.95" fill="#5a98ff"/>
<ellipse cx="568.50" cy="452.80" rx="3.6" ry="0.95" fill="#1040ff"/>
<ellipse cx="533.10" cy="463.00" rx="3.4" ry="0.95" fill="#5a98ff"/>
<ellipse cx="545.70" cy="463.40" rx="3.6" ry="0.95" fill="#1040ff"/>
<ellipse cx="569.20" cy="463.40" rx="3.4" ry="0.95" fill="#5a98ff"/>
<ellipse cx="545.70" cy="466.90" rx="3.4" ry="0.95" fill="#5a98ff"/>
<ellipse cx="569.20" cy="469.20" rx="3.4" ry="0.95" fill="#5a98ff"/>
<ellipse cx="545.70" cy="469.20" rx="3.6" ry="0.95" fill="#1040ff"/>
<ellipse cx="532.40" cy="473.60" rx="3.4" ry="0.95" fill="#5a98ff"/>
<ellipse cx="559.80" cy="477.90" rx="3.4" ry="0.95" fill="#5a98ff"/>
<ellipse cx="545.70" cy="483.70" rx="3.4" ry="0.95" fill="#5a98ff"/>
<ellipse cx="569.20" cy="483.70" rx="3.4" ry="0.95" fill="#5a98ff"/>
<ellipse cx="558.30" cy="491.20" rx="3.0" ry="0.85" fill="#f0d030"/>
<ellipse cx="580.20" cy="491.20" rx="3.6" ry="0.95" fill="#1040ff"/>
<ellipse cx="533.10" cy="506.90" rx="3.4" ry="0.95" fill="#5a98ff"/>
<ellipse cx="558.30" cy="506.90" rx="3.6" ry="0.95" fill="#1040ff"/>
<ellipse cx="580.20" cy="506.90" rx="3.6" ry="0.95" fill="#1040ff"/>
<ellipse cx="567.70" cy="514.00" rx="3.4" ry="1.1" fill="#d01000"/>
</g></g>
<rect x="474.2" y="430.2" width="114.10" height="84.40" fill="none" stroke="#000" stroke-width="1"/>
<text x="473.20" y="432.60" font-family='"Liberation Sans", sans-serif' font-size="7.4" text-anchor="end" fill="#222" textLength="14.12" lengthAdjust="spacingAndGlyphs" >100</text>
<text x="473.20" y="475.50" font-family='"Liberation Sans", sans-serif' font-size="7.4" text-anchor="end" fill="#222" textLength="9.41" lengthAdjust="spacingAndGlyphs" >50</text>
<text x="472.60" y="517.50" font-family='"Liberation Sans", sans-serif' font-size="7.4" text-anchor="end" fill="#222" textLength="4.71" lengthAdjust="spacingAndGlyphs" >1</text>
<text x="474.20" y="522.60" font-family='"Liberation Sans", sans-serif' font-size="7.4" text-anchor="middle" fill="#222" textLength="4.71" lengthAdjust="spacingAndGlyphs" >0</text>
<text x="531.25" y="522.60" font-family='"Liberation Sans", sans-serif' font-size="7.4" text-anchor="middle" fill="#222" textLength="4.71" lengthAdjust="spacingAndGlyphs" >5</text>
<text x="588.30" y="522.60" font-family='"Liberation Sans", sans-serif' font-size="7.4" text-anchor="middle" fill="#222" textLength="9.41" lengthAdjust="spacingAndGlyphs" >10</text>
<text x="531.30" y="531.00" font-family='"Liberation Sans", sans-serif' font-size="7.4" text-anchor="middle" fill="#222" textLength="28.70" lengthAdjust="spacingAndGlyphs" >time (s)</text>
<text transform="translate(456,472.2) rotate(-90)" font-family='"Liberation Sans", sans-serif' font-size="7.4" text-anchor="middle" fill="#222" textLength="30.05" lengthAdjust="spacingAndGlyphs">neurons</text>
<rect x="595.2" y="430.2" width="4.6" height="84.4" fill="url(#jet)" stroke="#000" stroke-width="0.8"/>
<text x="601.3" y="432.3" font-family='"Liberation Sans", sans-serif' font-size="4.6" fill="#222">16</text>
<text x="601.3" y="474.2" font-family='"Liberation Sans", sans-serif' font-size="4.6" fill="#222">8</text>
<text x="601.3" y="516.2" font-family='"Liberation Sans", sans-serif' font-size="4.6" fill="#222">0</text>
<text transform="translate(614.8,472.2) rotate(-90)" font-family='"Liberation Sans", sans-serif' font-size="7.4" text-anchor="middle" fill="#222" textLength="58" lengthAdjust="spacingAndGlyphs">Firing Rate (Hz)</text>
<path d="M619.1,447.6 L629.4,452.4 L629.6,461.6 L619.5,454 Z" fill="#e6e6e6"/><path d="M629.4,452.4 L638.1,447.6 L637.3,454 L630.4,461.3 Z" fill="#eeeeee"/><path d="M619.1,447.6 L628,442.5 L638.1,447.6 L629.4,452.4 Z" fill="#fbfbfb"/><ellipse cx="628.7" cy="443.4" rx="1.4" ry="0.65" fill="#111"/><ellipse cx="628.9" cy="446.7" rx="1.8" ry="0.85" fill="#111"/><ellipse cx="629.2" cy="450.6" rx="2.1" ry="1.05" fill="#111"/><ellipse cx="622.2" cy="455.1" rx="1.0" ry="1.3" fill="#222" transform="rotate(-30 622.2 455.1)"/><ellipse cx="627.1" cy="454.1" rx="1.2" ry="1.6" fill="#111" transform="rotate(-30 627.1 454.1)"/><path d="M630.6,453.6 L631.9,452.9 L631.7,459.8 L630.5,460.8 Z" fill="#222"/><path d="M636.4,448.4 L637.6,447.8 L637.1,453.8 L635.9,454.4 Z" fill="#555"/>
<path d="M616.9,469.09999999999997 H627.8 V465.84999999999997 L637.6,470.9 L627.8,475.95 V472.7 H616.9 Z" fill="#1a1a1a"/>
<path d="M661.5,434.3 V515 H797.5" fill="none" stroke="#3a3a3a" stroke-width="1.05"/>
<path d="M676.0 511.2h.8v1.6h-.8zM688.9 511.2h.8v1.6h-.8zM691.7 511.2h.8v1.6h-.8zM699.8 511.2h.8v1.6h-.8zM701.9 511.2h.8v1.6h-.8zM712.4 511.2h.8v1.6h-.8zM742.5 511.2h.8v1.6h-.8zM756.2 511.2h.8v1.6h-.8zM768.5 511.2h.8v1.6h-.8zM769.0 511.2h.8v1.6h-.8zM769.2 511.2h.8v1.6h-.8zM769.8 511.2h.8v1.6h-.8zM770.2 511.2h.8v1.6h-.8zM770.6 511.2h.8v1.6h-.8zM771.4 511.2h.8v1.6h-.8zM771.4 511.2h.8v1.6h-.8zM771.4 511.2h.8v1.6h-.8zM772.3 511.2h.8v1.6h-.8zM772.7 511.2h.8v1.6h-.8zM773.3 511.2h.8v1.6h-.8zM773.5 511.2h.8v1.6h-.8zM773.8 511.2h.8v1.6h-.8zM773.9 511.2h.8v1.6h-.8zM774.0 511.2h.8v1.6h-.8zM774.2 511.2h.8v1.6h-.8zM774.2 511.2h.8v1.6h-.8zM774.2 511.2h.8v1.6h-.8zM774.7 511.2h.8v1.6h-.8zM774.9 511.2h.8v1.6h-.8zM775.2 511.2h.8v1.6h-.8zM776.3 511.2h.8v1.6h-.8zM776.4 511.2h.8v1.6h-.8zM776.5 511.2h.8v1.6h-.8zM777.1 511.2h.8v1.6h-.8zM777.4 511.2h.8v1.6h-.8zM777.4 511.2h.8v1.6h-.8zM778.2 511.2h.8v1.6h-.8zM778.3 511.2h.8v1.6h-.8zM778.4 511.2h.8v1.6h-.8zM778.8 511.2h.8v1.6h-.8zM778.8 511.2h.8v1.6h-.8zM778.8 511.2h.8v1.6h-.8zM780.0 511.2h.8v1.6h-.8zM780.2 511.2h.8v1.6h-.8zM782.8 511.2h.8v1.6h-.8zM783.5 511.2h.8v1.6h-.8zM789.9 511.2h.8v1.6h-.8zM678.6 510.4h.8v1.6h-.8zM681.6 510.4h.8v1.6h-.8zM696.9 510.4h.8v1.6h-.8zM702.4 510.4h.8v1.6h-.8zM707.5 510.4h.8v1.6h-.8zM707.7 510.4h.8v1.6h-.8zM714.9 510.4h.8v1.6h-.8zM749.8 510.4h.8v1.6h-.8zM751.7 510.4h.8v1.6h-.8zM768.4 510.4h.8v1.6h-.8zM768.6 510.4h.8v1.6h-.8zM777.1 510.4h.8v1.6h-.8zM786.2 510.4h.8v1.6h-.8zM680.7 509.7h.8v1.6h-.8zM692.6 509.7h.8v1.6h-.8zM705.1 509.7h.8v1.6h-.8zM672.3 508.2h.8v1.6h-.8zM671.1 507.4h.8v1.6h-.8zM671.2 507.4h.8v1.6h-.8zM671.3 507.4h.8v1.6h-.8zM672.5 507.4h.8v1.6h-.8zM672.8 507.4h.8v1.6h-.8zM674.1 507.4h.8v1.6h-.8zM674.7 507.4h.8v1.6h-.8zM675.5 507.4h.8v1.6h-.8zM679.7 507.4h.8v1.6h-.8zM680.6 507.4h.8v1.6h-.8zM681.7 507.4h.8v1.6h-.8zM684.4 507.4h.8v1.6h-.8zM684.7 507.4h.8v1.6h-.8zM684.9 507.4h.8v1.6h-.8zM688.1 507.4h.8v1.6h-.8zM690.3 507.4h.8v1.6h-.8zM690.5 507.4h.8v1.6h-.8zM690.7 507.4h.8v1.6h-.8zM691.5 507.4h.8v1.6h-.8zM694.7 507.4h.8v1.6h-.8zM694.9 507.4h.8v1.6h-.8zM698.3 507.4h.8v1.6h-.8zM700.7 507.4h.8v1.6h-.8zM701.7 507.4h.8v1.6h-.8zM702.3 507.4h.8v1.6h-.8zM702.5 507.4h.8v1.6h-.8zM702.5 507.4h.8v1.6h-.8zM706.2 507.4h.8v1.6h-.8zM706.5 507.4h.8v1.6h-.8zM707.9 507.4h.8v1.6h-.8zM708.2 507.4h.8v1.6h-.8zM710.1 507.4h.8v1.6h-.8zM720.2 507.4h.8v1.6h-.8zM724.0 507.4h.8v1.6h-.8zM726.1 507.4h.8v1.6h-.8zM740.2 507.4h.8v1.6h-.8zM741.0 507.4h.8v1.6h-.8zM743.9 507.4h.8v1.6h-.8zM752.9 507.4h.8v1.6h-.8zM774.1 507.4h.8v1.6h-.8zM784.6 507.4h.8v1.6h-.8zM788.2 507.4h.8v1.6h-.8zM669.0 506.7h.8v1.6h-.8zM682.1 506.7h.8v1.6h-.8zM689.2 506.7h.8v1.6h-.8zM690.4 506.7h.8v1.6h-.8zM698.6 506.7h.8v1.6h-.8zM717.3 506.7h.8v1.6h-.8zM699.9 505.9h.8v1.6h-.8zM718.2 505.9h.8v1.6h-.8zM790.8 505.9h.8v1.6h-.8zM667.7 505.2h.8v1.6h-.8zM692.8 505.2h.8v1.6h-.8zM709.1 505.2h.8v1.6h-.8zM741.5 505.2h.8v1.6h-.8zM751.0 505.2h.8v1.6h-.8zM700.3 504.4h.8v1.6h-.8zM730.4 504.4h.8v1.6h-.8zM731.4 504.4h.8v1.6h-.8zM733.1 504.4h.8v1.6h-.8zM733.3 504.4h.8v1.6h-.8zM734.1 504.4h.8v1.6h-.8zM735.6 504.4h.8v1.6h-.8zM737.0 504.4h.8v1.6h-.8zM737.3 504.4h.8v1.6h-.8zM738.4 504.4h.8v1.6h-.8zM739.7 504.4h.8v1.6h-.8zM740.2 504.4h.8v1.6h-.8zM740.9 504.4h.8v1.6h-.8zM741.2 504.4h.8v1.6h-.8zM741.8 504.4h.8v1.6h-.8zM742.4 504.4h.8v1.6h-.8zM742.5 504.4h.8v1.6h-.8zM743.1 504.4h.8v1.6h-.8zM746.4 504.4h.8v1.6h-.8zM672.3 503.7h.8v1.6h-.8zM688.5 503.7h.8v1.6h-.8zM689.2 503.7h.8v1.6h-.8zM701.5 503.7h.8v1.6h-.8zM701.8 503.7h.8v1.6h-.8zM709.9 503.7h.8v1.6h-.8zM710.4 503.7h.8v1.6h-.8zM710.6 503.7h.8v1.6h-.8zM711.6 503.7h.8v1.6h-.8zM712.2 503.7h.8v1.6h-.8zM713.0 503.7h.8v1.6h-.8zM715.0 503.7h.8v1.6h-.8zM715.3 503.7h.8v1.6h-.8zM715.3 503.7h.8v1.6h-.8zM715.6 503.7h.8v1.6h-.8zM716.5 503.7h.8v1.6h-.8zM716.7 503.7h.8v1.6h-.8zM716.9 503.7h.8v1.6h-.8zM718.8 503.7h.8v1.6h-.8zM719.7 503.7h.8v1.6h-.8zM720.1 503.7h.8v1.6h-.8zM722.0 503.7h.8v1.6h-.8zM722.3 503.7h.8v1.6h-.8zM723.2 503.7h.8v1.6h-.8zM723.4 503.7h.8v1.6h-.8zM723.8 503.7h.8v1.6h-.8zM725.2 503.7h.8v1.6h-.8zM746.9 503.7h.8v1.6h-.8zM765.7 503.7h.8v1.6h-.8zM770.0 503.7h.8v1.6h-.8zM777.7 503.7h.8v1.6h-.8zM781.1 503.7h.8v1.6h-.8zM782.3 503.7h.8v1.6h-.8zM788.4 503.7h.8v1.6h-.8zM673.4 502.9h.8v1.6h-.8zM688.2 502.9h.8v1.6h-.8zM689.8 502.9h.8v1.6h-.8zM690.7 502.9h.8v1.6h-.8zM693.7 502.9h.8v1.6h-.8zM695.3 502.9h.8v1.6h-.8zM696.5 502.9h.8v1.6h-.8zM699.1 502.9h.8v1.6h-.8zM704.0 502.9h.8v1.6h-.8zM707.3 502.9h.8v1.6h-.8zM707.9 502.9h.8v1.6h-.8zM710.6 502.9h.8v1.6h-.8zM716.4 502.9h.8v1.6h-.8zM717.3 502.9h.8v1.6h-.8zM717.4 502.9h.8v1.6h-.8zM717.5 502.9h.8v1.6h-.8zM720.5 502.9h.8v1.6h-.8zM720.5 502.9h.8v1.6h-.8zM722.3 502.9h.8v1.6h-.8zM723.5 502.9h.8v1.6h-.8zM724.1 502.9h.8v1.6h-.8zM726.4 502.9h.8v1.6h-.8zM726.4 502.9h.8v1.6h-.8zM726.6 502.9h.8v1.6h-.8zM727.5 502.9h.8v1.6h-.8zM727.5 502.9h.8v1.6h-.8zM730.1 502.9h.8v1.6h-.8zM730.5 502.9h.8v1.6h-.8zM730.7 502.9h.8v1.6h-.8zM730.8 502.9h.8v1.6h-.8zM732.2 502.9h.8v1.6h-.8zM733.1 502.9h.8v1.6h-.8zM734.5 502.9h.8v1.6h-.8zM736.1 502.9h.8v1.6h-.8zM738.5 502.9h.8v1.6h-.8zM743.1 502.9h.8v1.6h-.8zM748.8 502.9h.8v1.6h-.8zM749.9 502.9h.8v1.6h-.8zM753.1 502.9h.8v1.6h-.8zM754.1 502.9h.8v1.6h-.8zM754.2 502.9h.8v1.6h-.8zM757.3 502.9h.8v1.6h-.8zM763.5 502.9h.8v1.6h-.8zM764.5 502.9h.8v1.6h-.8zM766.1 502.9h.8v1.6h-.8zM768.2 502.9h.8v1.6h-.8zM774.1 502.9h.8v1.6h-.8zM777.7 502.9h.8v1.6h-.8zM782.5 502.9h.8v1.6h-.8zM789.4 502.9h.8v1.6h-.8zM667.7 502.2h.8v1.6h-.8zM681.0 502.2h.8v1.6h-.8zM687.4 502.2h.8v1.6h-.8zM688.0 502.2h.8v1.6h-.8zM691.0 502.2h.8v1.6h-.8zM695.9 502.2h.8v1.6h-.8zM707.8 502.2h.8v1.6h-.8zM710.2 502.2h.8v1.6h-.8zM714.3 502.2h.8v1.6h-.8zM724.8 502.2h.8v1.6h-.8zM732.7 502.2h.8v1.6h-.8zM747.0 502.2h.8v1.6h-.8zM750.1 502.2h.8v1.6h-.8zM755.3 502.2h.8v1.6h-.8zM756.4 502.2h.8v1.6h-.8zM762.8 502.2h.8v1.6h-.8zM771.2 502.2h.8v1.6h-.8zM776.3 502.2h.8v1.6h-.8zM782.6 502.2h.8v1.6h-.8zM783.7 502.2h.8v1.6h-.8zM726.8 501.4h.8v1.6h-.8zM729.2 501.4h.8v1.6h-.8zM729.7 501.4h.8v1.6h-.8zM729.8 501.4h.8v1.6h-.8zM730.5 501.4h.8v1.6h-.8zM731.5 501.4h.8v1.6h-.8zM733.2 501.4h.8v1.6h-.8zM734.1 501.4h.8v1.6h-.8zM734.1 501.4h.8v1.6h-.8zM736.1 501.4h.8v1.6h-.8zM736.2 501.4h.8v1.6h-.8zM738.1 501.4h.8v1.6h-.8zM738.4 501.4h.8v1.6h-.8zM738.9 501.4h.8v1.6h-.8zM740.7 501.4h.8v1.6h-.8zM740.9 501.4h.8v1.6h-.8zM741.1 501.4h.8v1.6h-.8zM742.0 501.4h.8v1.6h-.8zM743.6 501.4h.8v1.6h-.8zM788.9 501.4h.8v1.6h-.8zM676.9 500.7h.8v1.6h-.8zM683.9 500.7h.8v1.6h-.8zM701.6 500.7h.8v1.6h-.8zM709.4 500.7h.8v1.6h-.8zM713.0 500.7h.8v1.6h-.8zM717.6 500.7h.8v1.6h-.8zM735.3 500.7h.8v1.6h-.8zM737.0 500.7h.8v1.6h-.8zM737.2 500.7h.8v1.6h-.8zM738.5 500.7h.8v1.6h-.8zM771.4 500.7h.8v1.6h-.8zM778.5 500.7h.8v1.6h-.8zM786.6 500.7h.8v1.6h-.8zM786.9 500.7h.8v1.6h-.8zM787.9 500.7h.8v1.6h-.8zM788.8 500.7h.8v1.6h-.8zM696.3 499.9h.8v1.6h-.8zM698.0 499.9h.8v1.6h-.8zM717.1 499.9h.8v1.6h-.8zM730.3 499.9h.8v1.6h-.8zM689.2 499.2h.8v1.6h-.8zM715.3 499.2h.8v1.6h-.8zM739.4 499.2h.8v1.6h-.8zM746.5 499.2h.8v1.6h-.8zM747.6 499.2h.8v1.6h-.8zM752.8 499.2h.8v1.6h-.8zM753.0 499.2h.8v1.6h-.8zM755.9 499.2h.8v1.6h-.8zM767.5 499.2h.8v1.6h-.8zM671.4 498.4h.8v1.6h-.8zM671.7 498.4h.8v1.6h-.8zM680.0 498.4h.8v1.6h-.8zM711.8 498.4h.8v1.6h-.8zM718.7 498.4h.8v1.6h-.8zM735.8 498.4h.8v1.6h-.8zM753.0 498.4h.8v1.6h-.8zM774.6 498.4h.8v1.6h-.8zM667.4 497.7h.8v1.6h-.8zM675.1 497.7h.8v1.6h-.8zM688.6 497.7h.8v1.6h-.8zM696.0 497.7h.8v1.6h-.8zM702.0 497.7h.8v1.6h-.8zM717.4 497.7h.8v1.6h-.8zM723.3 497.7h.8v1.6h-.8zM725.3 497.7h.8v1.6h-.8zM727.1 497.7h.8v1.6h-.8zM733.2 497.7h.8v1.6h-.8zM740.0 497.7h.8v1.6h-.8zM741.2 497.7h.8v1.6h-.8zM760.2 497.7h.8v1.6h-.8zM760.8 497.7h.8v1.6h-.8zM761.1 497.7h.8v1.6h-.8zM761.2 497.7h.8v1.6h-.8zM761.8 497.7h.8v1.6h-.8zM763.2 497.7h.8v1.6h-.8zM763.3 497.7h.8v1.6h-.8zM764.3 497.7h.8v1.6h-.8zM764.4 497.7h.8v1.6h-.8zM764.5 497.7h.8v1.6h-.8zM765.9 497.7h.8v1.6h-.8zM767.0 497.7h.8v1.6h-.8zM767.7 497.7h.8v1.6h-.8zM771.5 497.7h.8v1.6h-.8zM775.9 497.7h.8v1.6h-.8zM668.9 496.9h.8v1.6h-.8zM676.6 496.9h.8v1.6h-.8zM689.0 496.9h.8v1.6h-.8zM689.8 496.9h.8v1.6h-.8zM696.3 496.9h.8v1.6h-.8zM699.7 496.9h.8v1.6h-.8zM713.0 496.9h.8v1.6h-.8zM716.5 496.9h.8v1.6h-.8zM725.9 496.9h.8v1.6h-.8zM733.7 496.9h.8v1.6h-.8zM737.0 496.9h.8v1.6h-.8zM787.8 496.9h.8v1.6h-.8zM670.5 496.2h.8v1.6h-.8zM670.6 496.2h.8v1.6h-.8zM677.7 496.2h.8v1.6h-.8zM682.4 496.2h.8v1.6h-.8zM694.1 496.2h.8v1.6h-.8zM697.3 496.2h.8v1.6h-.8zM698.3 496.2h.8v1.6h-.8zM699.0 496.2h.8v1.6h-.8zM699.9 496.2h.8v1.6h-.8zM700.7 496.2h.8v1.6h-.8zM702.4 496.2h.8v1.6h-.8zM707.9 496.2h.8v1.6h-.8zM712.2 496.2h.8v1.6h-.8zM712.9 496.2h.8v1.6h-.8zM718.6 496.2h.8v1.6h-.8zM719.0 496.2h.8v1.6h-.8zM719.5 496.2h.8v1.6h-.8zM721.9 496.2h.8v1.6h-.8zM724.7 496.2h.8v1.6h-.8zM726.9 496.2h.8v1.6h-.8zM728.0 496.2h.8v1.6h-.8zM730.3 496.2h.8v1.6h-.8zM735.3 496.2h.8v1.6h-.8zM735.5 496.2h.8v1.6h-.8zM736.6 496.2h.8v1.6h-.8zM739.2 496.2h.8v1.6h-.8zM741.4 496.2h.8v1.6h-.8zM743.7 496.2h.8v1.6h-.8zM756.4 496.2h.8v1.6h-.8zM761.0 496.2h.8v1.6h-.8zM761.4 496.2h.8v1.6h-.8zM769.2 496.2h.8v1.6h-.8zM771.2 496.2h.8v1.6h-.8zM771.6 496.2h.8v1.6h-.8zM780.7 496.2h.8v1.6h-.8zM669.8 495.4h.8v1.6h-.8zM678.7 495.4h.8v1.6h-.8zM680.7 495.4h.8v1.6h-.8zM681.5 495.4h.8v1.6h-.8zM689.9 495.4h.8v1.6h-.8zM691.0 495.4h.8v1.6h-.8zM707.8 495.4h.8v1.6h-.8zM708.7 495.4h.8v1.6h-.8zM711.1 495.4h.8v1.6h-.8zM715.9 495.4h.8v1.6h-.8zM718.8 495.4h.8v1.6h-.8zM719.7 495.4h.8v1.6h-.8zM720.0 495.4h.8v1.6h-.8zM720.3 495.4h.8v1.6h-.8zM720.6 495.4h.8v1.6h-.8zM723.1 495.4h.8v1.6h-.8zM723.7 495.4h.8v1.6h-.8zM723.8 495.4h.8v1.6h-.8zM727.2 495.4h.8v1.6h-.8zM734.4 495.4h.8v1.6h-.8zM735.8 495.4h.8v1.6h-.8zM735.8 495.4h.8v1.6h-.8zM736.0 495.4h.8v1.6h-.8zM737.8 495.4h.8v1.6h-.8zM738.0 495.4h.8v1.6h-.8zM738.2 495.4h.8v1.6h-.8zM738.5 495.4h.8v1.6h-.8zM738.6 495.4h.8v1.6h-.8zM738.6 495.4h.8v1.6h-.8zM739.0 495.4h.8v1.6h-.8zM739.4 495.4h.8v1.6h-.8zM739.6 495.4h.8v1.6h-.8zM739.6 495.4h.8v1.6h-.8zM739.9 495.4h.8v1.6h-.8zM740.4 495.4h.8v1.6h-.8zM740.5 495.4h.8v1.6h-.8zM740.5 495.4h.8v1.6h-.8zM740.7 495.4h.8v1.6h-.8zM741.0 495.4h.8v1.6h-.8zM741.4 495.4h.8v1.6h-.8zM742.2 495.4h.8v1.6h-.8zM743.9 495.4h.8v1.6h-.8zM743.9 495.4h.8v1.6h-.8zM744.3 495.4h.8v1.6h-.8zM744.8 495.4h.8v1.6h-.8zM745.5 495.4h.8v1.6h-.8zM746.7 495.4h.8v1.6h-.8zM747.5 495.4h.8v1.6h-.8zM748.7 495.4h.8v1.6h-.8zM751.6 495.4h.8v1.6h-.8zM751.7 495.4h.8v1.6h-.8zM752.6 495.4h.8v1.6h-.8zM754.2 495.4h.8v1.6h-.8zM759.2 495.4h.8v1.6h-.8zM766.0 495.4h.8v1.6h-.8zM785.2 495.4h.8v1.6h-.8zM788.3 495.4h.8v1.6h-.8zM675.8 494.7h.8v1.6h-.8zM681.2 494.7h.8v1.6h-.8zM687.7 494.7h.8v1.6h-.8zM690.9 494.7h.8v1.6h-.8zM695.7 494.7h.8v1.6h-.8zM699.3 494.7h.8v1.6h-.8zM706.5 494.7h.8v1.6h-.8zM712.8 494.7h.8v1.6h-.8zM715.8 494.7h.8v1.6h-.8zM741.0 494.7h.8v1.6h-.8zM751.4 494.7h.8v1.6h-.8zM764.5 494.7h.8v1.6h-.8zM764.8 494.7h.8v1.6h-.8zM778.9 494.7h.8v1.6h-.8zM779.6 494.7h.8v1.6h-.8zM780.5 494.7h.8v1.6h-.8zM780.9 494.7h.8v1.6h-.8zM781.9 494.7h.8v1.6h-.8zM782.0 494.7h.8v1.6h-.8zM782.3 494.7h.8v1.6h-.8zM782.7 494.7h.8v1.6h-.8zM783.5 494.7h.8v1.6h-.8zM784.6 494.7h.8v1.6h-.8zM784.9 494.7h.8v1.6h-.8zM786.3 494.7h.8v1.6h-.8zM786.5 494.7h.8v1.6h-.8zM787.6 494.7h.8v1.6h-.8zM787.8 494.7h.8v1.6h-.8zM789.0 494.7h.8v1.6h-.8zM789.1 494.7h.8v1.6h-.8zM789.2 494.7h.8v1.6h-.8zM790.6 494.7h.8v1.6h-.8zM683.6 493.9h.8v1.6h-.8zM685.7 493.9h.8v1.6h-.8zM703.0 493.9h.8v1.6h-.8zM713.8 493.9h.8v1.6h-.8zM717.8 493.9h.8v1.6h-.8zM718.8 493.9h.8v1.6h-.8zM732.1 493.9h.8v1.6h-.8zM734.4 493.9h.8v1.6h-.8zM744.7 493.9h.8v1.6h-.8zM764.2 493.9h.8v1.6h-.8zM775.0 493.9h.8v1.6h-.8zM780.4 493.9h.8v1.6h-.8zM696.2 493.2h.8v1.6h-.8zM708.9 493.2h.8v1.6h-.8zM711.5 493.2h.8v1.6h-.8zM712.6 493.2h.8v1.6h-.8zM733.9 493.2h.8v1.6h-.8zM748.5 493.2h.8v1.6h-.8zM757.8 493.2h.8v1.6h-.8zM758.1 493.2h.8v1.6h-.8zM758.3 493.2h.8v1.6h-.8zM758.9 493.2h.8v1.6h-.8zM759.4 493.2h.8v1.6h-.8zM759.9 493.2h.8v1.6h-.8zM760.5 493.2h.8v1.6h-.8zM761.3 493.2h.8v1.6h-.8zM761.5 493.2h.8v1.6h-.8zM761.6 493.2h.8v1.6h-.8zM763.9 493.2h.8v1.6h-.8zM765.3 493.2h.8v1.6h-.8zM766.6 493.2h.8v1.6h-.8zM766.6 493.2h.8v1.6h-.8zM766.6 493.2h.8v1.6h-.8zM766.8 493.2h.8v1.6h-.8zM767.1 493.2h.8v1.6h-.8zM767.7 493.2h.8v1.6h-.8zM767.8 493.2h.8v1.6h-.8zM768.2 493.2h.8v1.6h-.8zM768.3 493.2h.8v1.6h-.8zM768.3 493.2h.8v1.6h-.8zM769.0 493.2h.8v1.6h-.8zM769.4 493.2h.8v1.6h-.8zM770.0 493.2h.8v1.6h-.8zM770.3 493.2h.8v1.6h-.8zM770.7 493.2h.8v1.6h-.8zM772.9 493.2h.8v1.6h-.8zM776.9 493.2h.8v1.6h-.8zM789.9 493.2h.8v1.6h-.8zM681.9 492.4h.8v1.6h-.8zM724.6 492.4h.8v1.6h-.8zM769.7 492.4h.8v1.6h-.8zM668.8 491.7h.8v1.6h-.8zM686.0 491.7h.8v1.6h-.8zM694.7 491.7h.8v1.6h-.8zM697.9 491.7h.8v1.6h-.8zM711.5 491.7h.8v1.6h-.8zM728.2 491.7h.8v1.6h-.8zM730.1 491.7h.8v1.6h-.8zM740.2 491.7h.8v1.6h-.8zM748.5 491.7h.8v1.6h-.8zM754.4 491.7h.8v1.6h-.8zM754.9 491.7h.8v1.6h-.8zM756.1 491.7h.8v1.6h-.8zM756.9 491.7h.8v1.6h-.8zM758.1 491.7h.8v1.6h-.8zM760.5 491.7h.8v1.6h-.8zM761.4 491.7h.8v1.6h-.8zM764.0 491.7h.8v1.6h-.8zM764.0 491.7h.8v1.6h-.8zM764.5 491.7h.8v1.6h-.8zM768.0 491.7h.8v1.6h-.8zM776.8 491.7h.8v1.6h-.8zM788.1 491.7h.8v1.6h-.8zM673.6 490.9h.8v1.6h-.8zM675.9 490.9h.8v1.6h-.8zM676.5 490.9h.8v1.6h-.8zM682.6 490.9h.8v1.6h-.8zM686.8 490.9h.8v1.6h-.8zM699.2 490.9h.8v1.6h-.8zM701.9 490.9h.8v1.6h-.8zM704.3 490.9h.8v1.6h-.8zM704.8 490.9h.8v1.6h-.8zM706.4 490.9h.8v1.6h-.8zM708.2 490.9h.8v1.6h-.8zM710.1 490.9h.8v1.6h-.8zM712.6 490.9h.8v1.6h-.8zM726.1 490.9h.8v1.6h-.8zM737.3 490.9h.8v1.6h-.8zM738.7 490.9h.8v1.6h-.8zM740.9 490.9h.8v1.6h-.8zM743.1 490.9h.8v1.6h-.8zM745.4 490.9h.8v1.6h-.8zM747.9 490.9h.8v1.6h-.8zM750.3 490.9h.8v1.6h-.8zM751.4 490.9h.8v1.6h-.8zM755.5 490.9h.8v1.6h-.8zM763.4 490.9h.8v1.6h-.8zM767.2 490.9h.8v1.6h-.8zM776.2 490.9h.8v1.6h-.8zM780.3 490.9h.8v1.6h-.8zM781.3 490.9h.8v1.6h-.8zM788.3 490.9h.8v1.6h-.8zM670.3 490.2h.8v1.6h-.8zM671.0 490.2h.8v1.6h-.8zM673.2 490.2h.8v1.6h-.8zM677.5 490.2h.8v1.6h-.8zM677.8 490.2h.8v1.6h-.8zM700.6 490.2h.8v1.6h-.8zM707.4 490.2h.8v1.6h-.8zM718.2 490.2h.8v1.6h-.8zM722.7 490.2h.8v1.6h-.8zM732.5 490.2h.8v1.6h-.8zM737.5 490.2h.8v1.6h-.8zM741.5 490.2h.8v1.6h-.8zM742.9 490.2h.8v1.6h-.8zM747.5 490.2h.8v1.6h-.8zM747.9 490.2h.8v1.6h-.8zM761.0 490.2h.8v1.6h-.8zM762.2 490.2h.8v1.6h-.8zM783.2 490.2h.8v1.6h-.8zM790.0 490.2h.8v1.6h-.8zM673.6 489.4h.8v1.6h-.8zM689.1 489.4h.8v1.6h-.8zM689.8 489.4h.8v1.6h-.8zM699.0 489.4h.8v1.6h-.8zM699.5 489.4h.8v1.6h-.8zM712.9 489.4h.8v1.6h-.8zM717.5 489.4h.8v1.6h-.8zM721.6 489.4h.8v1.6h-.8zM721.6 489.4h.8v1.6h-.8zM726.1 489.4h.8v1.6h-.8zM727.0 489.4h.8v1.6h-.8zM733.0 489.4h.8v1.6h-.8zM740.4 489.4h.8v1.6h-.8zM740.6 489.4h.8v1.6h-.8zM744.9 489.4h.8v1.6h-.8zM745.0 489.4h.8v1.6h-.8zM746.1 489.4h.8v1.6h-.8zM770.6 489.4h.8v1.6h-.8zM774.3 489.4h.8v1.6h-.8zM777.0 489.4h.8v1.6h-.8zM778.6 489.4h.8v1.6h-.8zM788.3 489.4h.8v1.6h-.8zM673.3 488.7h.8v1.6h-.8zM682.6 488.7h.8v1.6h-.8zM683.1 488.7h.8v1.6h-.8zM686.1 488.7h.8v1.6h-.8zM686.9 488.7h.8v1.6h-.8zM688.7 488.7h.8v1.6h-.8zM689.2 488.7h.8v1.6h-.8zM689.5 488.7h.8v1.6h-.8zM692.9 488.7h.8v1.6h-.8zM696.3 488.7h.8v1.6h-.8zM698.2 488.7h.8v1.6h-.8zM698.2 488.7h.8v1.6h-.8zM699.1 488.7h.8v1.6h-.8zM701.4 488.7h.8v1.6h-.8zM701.9 488.7h.8v1.6h-.8zM702.2 488.7h.8v1.6h-.8zM702.8 488.7h.8v1.6h-.8zM704.0 488.7h.8v1.6h-.8zM705.3 488.7h.8v1.6h-.8zM706.1 488.7h.8v1.6h-.8zM707.1 488.7h.8v1.6h-.8zM707.9 488.7h.8v1.6h-.8zM711.0 488.7h.8v1.6h-.8zM711.7 488.7h.8v1.6h-.8zM715.0 488.7h.8v1.6h-.8zM718.9 488.7h.8v1.6h-.8zM720.2 488.7h.8v1.6h-.8zM724.1 488.7h.8v1.6h-.8zM725.2 488.7h.8v1.6h-.8zM727.9 488.7h.8v1.6h-.8zM728.8 488.7h.8v1.6h-.8zM729.5 488.7h.8v1.6h-.8zM733.8 488.7h.8v1.6h-.8zM735.3 488.7h.8v1.6h-.8zM737.3 488.7h.8v1.6h-.8zM737.4 488.7h.8v1.6h-.8zM740.2 488.7h.8v1.6h-.8zM740.9 488.7h.8v1.6h-.8zM741.2 488.7h.8v1.6h-.8zM741.4 488.7h.8v1.6h-.8zM743.6 488.7h.8v1.6h-.8zM748.7 488.7h.8v1.6h-.8zM750.9 488.7h.8v1.6h-.8zM753.0 488.7h.8v1.6h-.8zM755.1 488.7h.8v1.6h-.8zM755.2 488.7h.8v1.6h-.8zM758.7 488.7h.8v1.6h-.8zM761.8 488.7h.8v1.6h-.8zM764.6 488.7h.8v1.6h-.8zM767.9 488.7h.8v1.6h-.8zM768.7 488.7h.8v1.6h-.8zM769.1 488.7h.8v1.6h-.8zM769.8 488.7h.8v1.6h-.8zM772.7 488.7h.8v1.6h-.8zM773.4 488.7h.8v1.6h-.8zM775.5 488.7h.8v1.6h-.8zM775.7 488.7h.8v1.6h-.8zM779.0 488.7h.8v1.6h-.8zM781.3 488.7h.8v1.6h-.8zM781.4 488.7h.8v1.6h-.8zM783.3 488.7h.8v1.6h-.8zM784.6 488.7h.8v1.6h-.8zM785.6 488.7h.8v1.6h-.8zM785.7 488.7h.8v1.6h-.8zM786.9 488.7h.8v1.6h-.8zM787.1 488.7h.8v1.6h-.8zM787.5 488.7h.8v1.6h-.8zM790.9 488.7h.8v1.6h-.8zM674.9 487.9h.8v1.6h-.8zM691.7 487.9h.8v1.6h-.8zM705.0 487.9h.8v1.6h-.8zM744.0 487.9h.8v1.6h-.8zM764.9 487.9h.8v1.6h-.8zM766.5 487.9h.8v1.6h-.8zM790.9 487.9h.8v1.6h-.8zM668.7 487.2h.8v1.6h-.8zM670.7 487.2h.8v1.6h-.8zM671.4 487.2h.8v1.6h-.8zM671.5 487.2h.8v1.6h-.8zM672.2 487.2h.8v1.6h-.8zM673.1 487.2h.8v1.6h-.8zM676.9 487.2h.8v1.6h-.8zM702.6 487.2h.8v1.6h-.8zM705.5 487.2h.8v1.6h-.8zM709.6 487.2h.8v1.6h-.8zM715.8 487.2h.8v1.6h-.8zM761.5 487.2h.8v1.6h-.8zM770.0 487.2h.8v1.6h-.8zM770.6 487.2h.8v1.6h-.8zM771.2 487.2h.8v1.6h-.8zM772.3 487.2h.8v1.6h-.8zM780.9 487.2h.8v1.6h-.8zM789.6 487.2h.8v1.6h-.8zM672.5 486.4h.8v1.6h-.8zM672.5 486.4h.8v1.6h-.8zM674.9 486.4h.8v1.6h-.8zM681.0 486.4h.8v1.6h-.8zM682.3 486.4h.8v1.6h-.8zM686.4 486.4h.8v1.6h-.8zM689.5 486.4h.8v1.6h-.8zM689.5 486.4h.8v1.6h-.8zM713.2 486.4h.8v1.6h-.8zM721.2 486.4h.8v1.6h-.8zM722.3 486.4h.8v1.6h-.8zM727.1 486.4h.8v1.6h-.8zM728.8 486.4h.8v1.6h-.8zM731.1 486.4h.8v1.6h-.8zM734.9 486.4h.8v1.6h-.8zM736.7 486.4h.8v1.6h-.8zM738.7 486.4h.8v1.6h-.8zM741.2 486.4h.8v1.6h-.8zM746.6 486.4h.8v1.6h-.8zM748.1 486.4h.8v1.6h-.8zM749.2 486.4h.8v1.6h-.8zM755.7 486.4h.8v1.6h-.8zM757.7 486.4h.8v1.6h-.8zM772.1 486.4h.8v1.6h-.8zM776.2 486.4h.8v1.6h-.8zM782.5 486.4h.8v1.6h-.8zM784.5 486.4h.8v1.6h-.8zM671.0 485.6h.8v1.6h-.8zM673.4 485.6h.8v1.6h-.8zM701.4 485.6h.8v1.6h-.8zM732.0 485.6h.8v1.6h-.8zM736.9 485.6h.8v1.6h-.8zM749.6 485.6h.8v1.6h-.8zM668.0 484.9h.8v1.6h-.8zM668.3 484.9h.8v1.6h-.8zM702.1 484.9h.8v1.6h-.8zM706.5 484.9h.8v1.6h-.8zM717.9 484.9h.8v1.6h-.8zM721.2 484.9h.8v1.6h-.8zM734.6 484.9h.8v1.6h-.8zM754.8 484.9h.8v1.6h-.8zM756.0 484.9h.8v1.6h-.8zM757.8 484.9h.8v1.6h-.8zM759.0 484.9h.8v1.6h-.8zM768.1 484.9h.8v1.6h-.8zM773.2 484.9h.8v1.6h-.8zM677.2 484.1h.8v1.6h-.8zM684.6 484.1h.8v1.6h-.8zM687.5 484.1h.8v1.6h-.8zM699.6 484.1h.8v1.6h-.8zM701.8 484.1h.8v1.6h-.8zM734.5 484.1h.8v1.6h-.8zM740.4 484.1h.8v1.6h-.8zM742.7 484.1h.8v1.6h-.8zM744.3 484.1h.8v1.6h-.8zM747.2 484.1h.8v1.6h-.8zM751.7 484.1h.8v1.6h-.8zM758.0 484.1h.8v1.6h-.8zM759.7 484.1h.8v1.6h-.8zM762.9 484.1h.8v1.6h-.8zM765.6 484.1h.8v1.6h-.8zM766.4 484.1h.8v1.6h-.8zM776.1 484.1h.8v1.6h-.8zM778.3 484.1h.8v1.6h-.8zM784.3 484.1h.8v1.6h-.8zM787.1 484.1h.8v1.6h-.8zM789.1 484.1h.8v1.6h-.8zM673.8 483.4h.8v1.6h-.8zM675.5 483.4h.8v1.6h-.8zM696.5 483.4h.8v1.6h-.8zM746.1 483.4h.8v1.6h-.8zM755.6 483.4h.8v1.6h-.8zM776.9 483.4h.8v1.6h-.8zM783.3 483.4h.8v1.6h-.8zM783.6 483.4h.8v1.6h-.8zM667.9 482.6h.8v1.6h-.8zM671.1 482.6h.8v1.6h-.8zM673.8 482.6h.8v1.6h-.8zM675.8 482.6h.8v1.6h-.8zM676.3 482.6h.8v1.6h-.8zM686.5 482.6h.8v1.6h-.8zM688.0 482.6h.8v1.6h-.8zM698.7 482.6h.8v1.6h-.8zM701.6 482.6h.8v1.6h-.8zM708.1 482.6h.8v1.6h-.8zM709.5 482.6h.8v1.6h-.8zM713.6 482.6h.8v1.6h-.8zM717.6 482.6h.8v1.6h-.8zM717.9 482.6h.8v1.6h-.8zM730.1 482.6h.8v1.6h-.8zM731.0 482.6h.8v1.6h-.8zM737.8 482.6h.8v1.6h-.8zM749.0 482.6h.8v1.6h-.8zM751.1 482.6h.8v1.6h-.8zM751.8 482.6h.8v1.6h-.8zM765.3 482.6h.8v1.6h-.8zM765.3 482.6h.8v1.6h-.8zM771.0 482.6h.8v1.6h-.8zM773.3 482.6h.8v1.6h-.8zM780.3 482.6h.8v1.6h-.8zM782.5 482.6h.8v1.6h-.8zM783.4 482.6h.8v1.6h-.8zM788.0 482.6h.8v1.6h-.8zM672.1 481.9h.8v1.6h-.8zM686.7 481.9h.8v1.6h-.8zM712.0 481.9h.8v1.6h-.8zM776.5 481.9h.8v1.6h-.8zM777.9 481.9h.8v1.6h-.8zM668.1 481.1h.8v1.6h-.8zM670.7 481.1h.8v1.6h-.8zM670.9 481.1h.8v1.6h-.8zM674.6 481.1h.8v1.6h-.8zM675.2 481.1h.8v1.6h-.8zM677.8 481.1h.8v1.6h-.8zM679.8 481.1h.8v1.6h-.8zM680.5 481.1h.8v1.6h-.8zM681.9 481.1h.8v1.6h-.8zM695.2 481.1h.8v1.6h-.8zM695.4 481.1h.8v1.6h-.8zM703.0 481.1h.8v1.6h-.8zM709.4 481.1h.8v1.6h-.8zM717.0 481.1h.8v1.6h-.8zM719.6 481.1h.8v1.6h-.8zM723.0 481.1h.8v1.6h-.8zM723.5 481.1h.8v1.6h-.8zM725.6 481.1h.8v1.6h-.8zM736.9 481.1h.8v1.6h-.8zM738.5 481.1h.8v1.6h-.8zM739.0 481.1h.8v1.6h-.8zM739.4 481.1h.8v1.6h-.8zM739.6 481.1h.8v1.6h-.8zM741.0 481.1h.8v1.6h-.8zM741.4 481.1h.8v1.6h-.8zM743.0 481.1h.8v1.6h-.8zM743.7 481.1h.8v1.6h-.8zM744.9 481.1h.8v1.6h-.8zM744.9 481.1h.8v1.6h-.8zM745.0 481.1h.8v1.6h-.8zM746.8 481.1h.8v1.6h-.8zM747.1 481.1h.8v1.6h-.8zM747.6 481.1h.8v1.6h-.8zM747.9 481.1h.8v1.6h-.8zM748.0 481.1h.8v1.6h-.8zM749.5 481.1h.8v1.6h-.8zM749.7 481.1h.8v1.6h-.8zM750.4 481.1h.8v1.6h-.8zM750.7 481.1h.8v1.6h-.8zM751.1 481.1h.8v1.6h-.8zM751.3 481.1h.8v1.6h-.8zM752.3 481.1h.8v1.6h-.8zM762.9 481.1h.8v1.6h-.8zM773.3 481.1h.8v1.6h-.8zM774.7 481.1h.8v1.6h-.8zM783.9 481.1h.8v1.6h-.8zM785.3 481.1h.8v1.6h-.8zM676.3 480.4h.8v1.6h-.8zM688.7 480.4h.8v1.6h-.8zM695.4 480.4h.8v1.6h-.8zM697.1 480.4h.8v1.6h-.8zM757.1 480.4h.8v1.6h-.8zM761.8 480.4h.8v1.6h-.8zM788.9 480.4h.8v1.6h-.8zM682.2 479.6h.8v1.6h-.8zM683.4 479.6h.8v1.6h-.8zM690.8 479.6h.8v1.6h-.8zM719.5 479.6h.8v1.6h-.8zM719.5 479.6h.8v1.6h-.8zM722.2 479.6h.8v1.6h-.8zM725.5 479.6h.8v1.6h-.8zM729.3 479.6h.8v1.6h-.8zM729.4 479.6h.8v1.6h-.8zM733.0 479.6h.8v1.6h-.8zM735.7 479.6h.8v1.6h-.8zM736.5 479.6h.8v1.6h-.8zM737.2 479.6h.8v1.6h-.8zM738.6 479.6h.8v1.6h-.8zM738.6 479.6h.8v1.6h-.8zM738.7 479.6h.8v1.6h-.8zM742.3 479.6h.8v1.6h-.8zM742.9 479.6h.8v1.6h-.8zM744.0 479.6h.8v1.6h-.8zM748.3 479.6h.8v1.6h-.8zM784.4 479.6h.8v1.6h-.8zM790.5 479.6h.8v1.6h-.8zM669.9 478.9h.8v1.6h-.8zM692.4 478.9h.8v1.6h-.8zM697.8 478.9h.8v1.6h-.8zM705.8 478.9h.8v1.6h-.8zM708.1 478.9h.8v1.6h-.8zM734.3 478.9h.8v1.6h-.8zM673.8 478.1h.8v1.6h-.8zM675.6 478.1h.8v1.6h-.8zM677.1 478.1h.8v1.6h-.8zM699.2 478.1h.8v1.6h-.8zM701.7 478.1h.8v1.6h-.8zM722.8 478.1h.8v1.6h-.8zM771.9 478.1h.8v1.6h-.8zM773.0 478.1h.8v1.6h-.8zM773.1 478.1h.8v1.6h-.8zM773.6 478.1h.8v1.6h-.8zM774.3 478.1h.8v1.6h-.8zM776.6 478.1h.8v1.6h-.8zM777.0 478.1h.8v1.6h-.8zM777.4 478.1h.8v1.6h-.8zM777.9 478.1h.8v1.6h-.8zM779.9 478.1h.8v1.6h-.8zM671.2 477.4h.8v1.6h-.8zM683.9 477.4h.8v1.6h-.8zM685.0 477.4h.8v1.6h-.8zM735.5 477.4h.8v1.6h-.8zM742.7 477.4h.8v1.6h-.8zM752.0 477.4h.8v1.6h-.8zM761.3 477.4h.8v1.6h-.8zM761.9 477.4h.8v1.6h-.8zM773.3 477.4h.8v1.6h-.8zM773.7 477.4h.8v1.6h-.8zM774.1 477.4h.8v1.6h-.8zM776.2 477.4h.8v1.6h-.8zM776.3 477.4h.8v1.6h-.8zM776.8 477.4h.8v1.6h-.8zM778.6 477.4h.8v1.6h-.8zM779.0 477.4h.8v1.6h-.8zM779.4 477.4h.8v1.6h-.8zM780.5 477.4h.8v1.6h-.8zM780.7 477.4h.8v1.6h-.8zM783.7 477.4h.8v1.6h-.8zM789.5 477.4h.8v1.6h-.8zM789.9 477.4h.8v1.6h-.8zM669.4 476.6h.8v1.6h-.8zM674.7 476.6h.8v1.6h-.8zM682.3 476.6h.8v1.6h-.8zM682.8 476.6h.8v1.6h-.8zM683.3 476.6h.8v1.6h-.8zM684.7 476.6h.8v1.6h-.8zM685.5 476.6h.8v1.6h-.8zM686.0 476.6h.8v1.6h-.8zM688.2 476.6h.8v1.6h-.8zM688.3 476.6h.8v1.6h-.8zM689.4 476.6h.8v1.6h-.8zM689.6 476.6h.8v1.6h-.8zM690.2 476.6h.8v1.6h-.8zM690.4 476.6h.8v1.6h-.8zM690.9 476.6h.8v1.6h-.8zM691.9 476.6h.8v1.6h-.8zM693.0 476.6h.8v1.6h-.8zM694.2 476.6h.8v1.6h-.8zM694.4 476.6h.8v1.6h-.8zM694.8 476.6h.8v1.6h-.8zM695.0 476.6h.8v1.6h-.8zM695.7 476.6h.8v1.6h-.8zM696.1 476.6h.8v1.6h-.8zM696.2 476.6h.8v1.6h-.8zM696.8 476.6h.8v1.6h-.8zM703.0 476.6h.8v1.6h-.8zM707.3 476.6h.8v1.6h-.8zM709.0 476.6h.8v1.6h-.8zM709.1 476.6h.8v1.6h-.8zM709.3 476.6h.8v1.6h-.8zM709.3 476.6h.8v1.6h-.8zM709.8 476.6h.8v1.6h-.8zM710.3 476.6h.8v1.6h-.8zM710.8 476.6h.8v1.6h-.8zM711.0 476.6h.8v1.6h-.8zM712.4 476.6h.8v1.6h-.8zM712.4 476.6h.8v1.6h-.8zM714.4 476.6h.8v1.6h-.8zM715.1 476.6h.8v1.6h-.8zM715.7 476.6h.8v1.6h-.8zM717.0 476.6h.8v1.6h-.8zM717.2 476.6h.8v1.6h-.8zM717.4 476.6h.8v1.6h-.8zM717.7 476.6h.8v1.6h-.8zM717.7 476.6h.8v1.6h-.8zM718.0 476.6h.8v1.6h-.8zM718.8 476.6h.8v1.6h-.8zM719.4 476.6h.8v1.6h-.8zM719.7 476.6h.8v1.6h-.8zM720.4 476.6h.8v1.6h-.8zM720.5 476.6h.8v1.6h-.8zM721.9 476.6h.8v1.6h-.8zM722.1 476.6h.8v1.6h-.8zM722.3 476.6h.8v1.6h-.8zM722.5 476.6h.8v1.6h-.8zM723.4 476.6h.8v1.6h-.8zM724.9 476.6h.8v1.6h-.8zM726.2 476.6h.8v1.6h-.8zM726.5 476.6h.8v1.6h-.8zM729.1 476.6h.8v1.6h-.8zM731.4 476.6h.8v1.6h-.8zM732.6 476.6h.8v1.6h-.8zM750.0 476.6h.8v1.6h-.8zM750.2 476.6h.8v1.6h-.8zM753.6 476.6h.8v1.6h-.8zM760.7 476.6h.8v1.6h-.8zM781.9 476.6h.8v1.6h-.8zM782.6 476.6h.8v1.6h-.8zM785.6 476.6h.8v1.6h-.8zM674.0 475.9h.8v1.6h-.8zM728.7 475.9h.8v1.6h-.8zM732.5 475.9h.8v1.6h-.8zM744.8 475.9h.8v1.6h-.8zM753.6 475.9h.8v1.6h-.8zM767.3 475.9h.8v1.6h-.8zM769.2 475.9h.8v1.6h-.8zM770.1 475.9h.8v1.6h-.8zM669.4 475.1h.8v1.6h-.8zM671.5 475.1h.8v1.6h-.8zM691.2 475.1h.8v1.6h-.8zM691.5 475.1h.8v1.6h-.8zM691.5 475.1h.8v1.6h-.8zM691.7 475.1h.8v1.6h-.8zM692.1 475.1h.8v1.6h-.8zM692.1 475.1h.8v1.6h-.8zM692.2 475.1h.8v1.6h-.8zM692.7 475.1h.8v1.6h-.8zM693.4 475.1h.8v1.6h-.8zM693.7 475.1h.8v1.6h-.8zM694.5 475.1h.8v1.6h-.8zM694.7 475.1h.8v1.6h-.8zM694.9 475.1h.8v1.6h-.8zM695.5 475.1h.8v1.6h-.8zM695.7 475.1h.8v1.6h-.8zM696.2 475.1h.8v1.6h-.8zM696.3 475.1h.8v1.6h-.8zM696.5 475.1h.8v1.6h-.8zM696.6 475.1h.8v1.6h-.8zM696.8 475.1h.8v1.6h-.8zM696.9 475.1h.8v1.6h-.8zM697.0 475.1h.8v1.6h-.8zM697.1 475.1h.8v1.6h-.8zM697.3 475.1h.8v1.6h-.8zM697.4 475.1h.8v1.6h-.8zM697.6 475.1h.8v1.6h-.8zM699.4 475.1h.8v1.6h-.8zM699.8 475.1h.8v1.6h-.8zM700.5 475.1h.8v1.6h-.8zM700.7 475.1h.8v1.6h-.8zM700.9 475.1h.8v1.6h-.8zM701.0 475.1h.8v1.6h-.8zM701.7 475.1h.8v1.6h-.8zM701.9 475.1h.8v1.6h-.8zM702.1 475.1h.8v1.6h-.8zM702.1 475.1h.8v1.6h-.8zM702.2 475.1h.8v1.6h-.8zM702.4 475.1h.8v1.6h-.8zM702.7 475.1h.8v1.6h-.8zM704.2 475.1h.8v1.6h-.8zM710.4 475.1h.8v1.6h-.8zM711.9 475.1h.8v1.6h-.8zM714.2 475.1h.8v1.6h-.8zM715.0 475.1h.8v1.6h-.8zM728.7 475.1h.8v1.6h-.8zM730.9 475.1h.8v1.6h-.8zM738.0 475.1h.8v1.6h-.8zM744.4 475.1h.8v1.6h-.8zM756.2 475.1h.8v1.6h-.8zM756.3 475.1h.8v1.6h-.8zM758.2 475.1h.8v1.6h-.8zM760.6 475.1h.8v1.6h-.8zM761.0 475.1h.8v1.6h-.8zM771.6 475.1h.8v1.6h-.8zM773.6 475.1h.8v1.6h-.8zM780.9 475.1h.8v1.6h-.8zM784.5 475.1h.8v1.6h-.8zM784.8 475.1h.8v1.6h-.8zM787.3 475.1h.8v1.6h-.8zM788.6 475.1h.8v1.6h-.8zM788.8 475.1h.8v1.6h-.8zM789.6 475.1h.8v1.6h-.8zM676.5 474.4h.8v1.6h-.8zM690.1 474.4h.8v1.6h-.8zM709.6 474.4h.8v1.6h-.8zM709.7 474.4h.8v1.6h-.8zM711.2 474.4h.8v1.6h-.8zM711.6 474.4h.8v1.6h-.8zM713.1 474.4h.8v1.6h-.8zM714.4 474.4h.8v1.6h-.8zM714.6 474.4h.8v1.6h-.8zM714.9 474.4h.8v1.6h-.8zM715.3 474.4h.8v1.6h-.8zM716.7 474.4h.8v1.6h-.8zM717.4 474.4h.8v1.6h-.8zM717.9 474.4h.8v1.6h-.8zM720.3 474.4h.8v1.6h-.8zM720.6 474.4h.8v1.6h-.8zM721.1 474.4h.8v1.6h-.8zM721.6 474.4h.8v1.6h-.8zM721.9 474.4h.8v1.6h-.8zM721.9 474.4h.8v1.6h-.8zM721.9 474.4h.8v1.6h-.8zM723.1 474.4h.8v1.6h-.8zM724.1 474.4h.8v1.6h-.8zM726.1 474.4h.8v1.6h-.8zM730.5 474.4h.8v1.6h-.8zM739.3 474.4h.8v1.6h-.8zM766.7 474.4h.8v1.6h-.8zM668.9 473.6h.8v1.6h-.8zM678.7 473.6h.8v1.6h-.8zM687.5 473.6h.8v1.6h-.8zM688.6 473.6h.8v1.6h-.8zM697.2 473.6h.8v1.6h-.8zM704.2 473.6h.8v1.6h-.8zM716.4 473.6h.8v1.6h-.8zM722.2 473.6h.8v1.6h-.8zM725.2 473.6h.8v1.6h-.8zM734.4 473.6h.8v1.6h-.8zM745.8 473.6h.8v1.6h-.8zM745.9 473.6h.8v1.6h-.8zM746.5 473.6h.8v1.6h-.8zM746.7 473.6h.8v1.6h-.8zM746.8 473.6h.8v1.6h-.8zM747.0 473.6h.8v1.6h-.8zM747.4 473.6h.8v1.6h-.8zM747.5 473.6h.8v1.6h-.8zM748.0 473.6h.8v1.6h-.8zM748.8 473.6h.8v1.6h-.8zM749.3 473.6h.8v1.6h-.8zM750.0 473.6h.8v1.6h-.8zM750.0 473.6h.8v1.6h-.8zM750.3 473.6h.8v1.6h-.8zM750.6 473.6h.8v1.6h-.8zM750.6 473.6h.8v1.6h-.8zM751.0 473.6h.8v1.6h-.8zM751.0 473.6h.8v1.6h-.8zM751.4 473.6h.8v1.6h-.8zM752.0 473.6h.8v1.6h-.8zM752.4 473.6h.8v1.6h-.8zM752.6 473.6h.8v1.6h-.8zM752.8 473.6h.8v1.6h-.8zM752.8 473.6h.8v1.6h-.8zM753.1 473.6h.8v1.6h-.8zM754.4 473.6h.8v1.6h-.8zM755.0 473.6h.8v1.6h-.8zM755.1 473.6h.8v1.6h-.8zM755.8 473.6h.8v1.6h-.8zM755.9 473.6h.8v1.6h-.8zM756.3 473.6h.8v1.6h-.8zM756.9 473.6h.8v1.6h-.8zM758.8 473.6h.8v1.6h-.8zM759.1 473.6h.8v1.6h-.8zM759.7 473.6h.8v1.6h-.8zM761.4 473.6h.8v1.6h-.8zM787.5 473.6h.8v1.6h-.8zM685.8 472.9h.8v1.6h-.8zM686.1 472.9h.8v1.6h-.8zM687.2 472.9h.8v1.6h-.8zM692.7 472.9h.8v1.6h-.8zM695.6 472.9h.8v1.6h-.8zM699.0 472.9h.8v1.6h-.8zM728.2 472.9h.8v1.6h-.8zM729.5 472.9h.8v1.6h-.8zM731.1 472.9h.8v1.6h-.8zM733.1 472.9h.8v1.6h-.8zM741.9 472.9h.8v1.6h-.8zM744.0 472.9h.8v1.6h-.8zM744.0 472.9h.8v1.6h-.8zM750.1 472.9h.8v1.6h-.8zM754.0 472.9h.8v1.6h-.8zM756.1 472.9h.8v1.6h-.8zM761.3 472.9h.8v1.6h-.8zM762.4 472.9h.8v1.6h-.8zM763.2 472.9h.8v1.6h-.8zM764.2 472.9h.8v1.6h-.8zM765.0 472.9h.8v1.6h-.8zM766.8 472.9h.8v1.6h-.8zM770.3 472.9h.8v1.6h-.8zM770.7 472.9h.8v1.6h-.8zM771.1 472.9h.8v1.6h-.8zM773.3 472.9h.8v1.6h-.8zM773.7 472.9h.8v1.6h-.8zM774.9 472.9h.8v1.6h-.8zM776.1 472.9h.8v1.6h-.8zM777.3 472.9h.8v1.6h-.8zM780.6 472.9h.8v1.6h-.8zM675.4 472.1h.8v1.6h-.8zM681.3 472.1h.8v1.6h-.8zM705.8 472.1h.8v1.6h-.8zM719.3 472.1h.8v1.6h-.8zM724.0 472.1h.8v1.6h-.8zM729.1 472.1h.8v1.6h-.8zM736.1 472.1h.8v1.6h-.8zM739.5 472.1h.8v1.6h-.8zM740.2 472.1h.8v1.6h-.8zM740.3 472.1h.8v1.6h-.8zM740.3 472.1h.8v1.6h-.8zM740.4 472.1h.8v1.6h-.8zM740.5 472.1h.8v1.6h-.8zM741.6 472.1h.8v1.6h-.8zM741.7 472.1h.8v1.6h-.8zM742.2 472.1h.8v1.6h-.8zM743.5 472.1h.8v1.6h-.8zM744.1 472.1h.8v1.6h-.8zM744.2 472.1h.8v1.6h-.8zM746.0 472.1h.8v1.6h-.8zM747.7 472.1h.8v1.6h-.8zM747.8 472.1h.8v1.6h-.8zM748.1 472.1h.8v1.6h-.8zM748.7 472.1h.8v1.6h-.8zM750.1 472.1h.8v1.6h-.8zM750.5 472.1h.8v1.6h-.8zM751.6 472.1h.8v1.6h-.8zM756.7 472.1h.8v1.6h-.8zM779.0 472.1h.8v1.6h-.8zM786.0 472.1h.8v1.6h-.8zM676.4 471.4h.8v1.6h-.8zM685.1 471.4h.8v1.6h-.8zM689.2 471.4h.8v1.6h-.8zM691.9 471.4h.8v1.6h-.8zM698.0 471.4h.8v1.6h-.8zM702.9 471.4h.8v1.6h-.8zM711.7 471.4h.8v1.6h-.8zM719.7 471.4h.8v1.6h-.8zM720.3 471.4h.8v1.6h-.8zM722.7 471.4h.8v1.6h-.8zM728.1 471.4h.8v1.6h-.8zM729.4 471.4h.8v1.6h-.8zM730.5 471.4h.8v1.6h-.8zM730.5 471.4h.8v1.6h-.8zM734.9 471.4h.8v1.6h-.8zM748.9 471.4h.8v1.6h-.8zM766.3 471.4h.8v1.6h-.8zM767.0 471.4h.8v1.6h-.8zM772.8 471.4h.8v1.6h-.8zM775.5 471.4h.8v1.6h-.8zM780.4 471.4h.8v1.6h-.8zM782.9 471.4h.8v1.6h-.8zM670.2 470.6h.8v1.6h-.8zM775.1 470.6h.8v1.6h-.8zM676.4 469.9h.8v1.6h-.8zM717.9 469.9h.8v1.6h-.8zM719.2 469.9h.8v1.6h-.8zM753.4 469.9h.8v1.6h-.8zM756.7 469.9h.8v1.6h-.8zM758.0 469.9h.8v1.6h-.8zM768.2 469.9h.8v1.6h-.8zM668.1 469.1h.8v1.6h-.8zM673.5 469.1h.8v1.6h-.8zM680.4 469.1h.8v1.6h-.8zM681.9 469.1h.8v1.6h-.8zM684.0 469.1h.8v1.6h-.8zM696.5 469.1h.8v1.6h-.8zM697.0 469.1h.8v1.6h-.8zM698.7 469.1h.8v1.6h-.8zM699.5 469.1h.8v1.6h-.8zM701.6 469.1h.8v1.6h-.8zM703.6 469.1h.8v1.6h-.8zM704.2 469.1h.8v1.6h-.8zM705.2 469.1h.8v1.6h-.8zM718.5 469.1h.8v1.6h-.8zM720.5 469.1h.8v1.6h-.8zM725.7 469.1h.8v1.6h-.8zM727.7 469.1h.8v1.6h-.8zM730.8 469.1h.8v1.6h-.8zM733.2 469.1h.8v1.6h-.8zM733.8 469.1h.8v1.6h-.8zM735.1 469.1h.8v1.6h-.8zM740.1 469.1h.8v1.6h-.8zM745.2 469.1h.8v1.6h-.8zM746.2 469.1h.8v1.6h-.8zM746.2 469.1h.8v1.6h-.8zM755.1 469.1h.8v1.6h-.8zM762.0 469.1h.8v1.6h-.8zM762.0 469.1h.8v1.6h-.8zM764.5 469.1h.8v1.6h-.8zM765.5 469.1h.8v1.6h-.8zM775.1 469.1h.8v1.6h-.8zM667.9 468.4h.8v1.6h-.8zM668.1 468.4h.8v1.6h-.8zM668.9 468.4h.8v1.6h-.8zM670.4 468.4h.8v1.6h-.8zM670.6 468.4h.8v1.6h-.8zM670.8 468.4h.8v1.6h-.8zM671.1 468.4h.8v1.6h-.8zM671.3 468.4h.8v1.6h-.8zM672.7 468.4h.8v1.6h-.8zM673.4 468.4h.8v1.6h-.8zM675.8 468.4h.8v1.6h-.8zM675.8 468.4h.8v1.6h-.8zM677.5 468.4h.8v1.6h-.8zM705.1 468.4h.8v1.6h-.8zM712.4 468.4h.8v1.6h-.8zM723.1 468.4h.8v1.6h-.8zM726.1 468.4h.8v1.6h-.8zM726.4 468.4h.8v1.6h-.8zM734.1 468.4h.8v1.6h-.8zM734.7 468.4h.8v1.6h-.8zM740.7 468.4h.8v1.6h-.8zM761.4 468.4h.8v1.6h-.8zM762.0 468.4h.8v1.6h-.8zM766.3 468.4h.8v1.6h-.8zM780.2 468.4h.8v1.6h-.8zM783.1 468.4h.8v1.6h-.8zM785.8 468.4h.8v1.6h-.8zM682.6 467.6h.8v1.6h-.8zM696.6 467.6h.8v1.6h-.8zM722.8 467.6h.8v1.6h-.8zM729.0 467.6h.8v1.6h-.8zM746.5 467.6h.8v1.6h-.8zM751.5 467.6h.8v1.6h-.8zM773.3 467.6h.8v1.6h-.8zM782.6 467.6h.8v1.6h-.8zM782.7 467.6h.8v1.6h-.8zM784.2 467.6h.8v1.6h-.8zM787.9 467.6h.8v1.6h-.8zM670.6 466.9h.8v1.6h-.8zM673.1 466.9h.8v1.6h-.8zM691.3 466.9h.8v1.6h-.8zM694.3 466.9h.8v1.6h-.8zM695.1 466.9h.8v1.6h-.8zM698.3 466.9h.8v1.6h-.8zM708.7 466.9h.8v1.6h-.8zM710.6 466.9h.8v1.6h-.8zM721.1 466.9h.8v1.6h-.8zM727.2 466.9h.8v1.6h-.8zM736.0 466.9h.8v1.6h-.8zM737.5 466.9h.8v1.6h-.8zM738.4 466.9h.8v1.6h-.8zM739.6 466.9h.8v1.6h-.8zM742.9 466.9h.8v1.6h-.8zM747.3 466.9h.8v1.6h-.8zM747.4 466.9h.8v1.6h-.8zM752.8 466.9h.8v1.6h-.8zM756.8 466.9h.8v1.6h-.8zM759.8 466.9h.8v1.6h-.8zM765.7 466.9h.8v1.6h-.8zM768.1 466.9h.8v1.6h-.8zM768.2 466.9h.8v1.6h-.8zM769.9 466.9h.8v1.6h-.8zM770.2 466.9h.8v1.6h-.8zM771.2 466.9h.8v1.6h-.8zM771.3 466.9h.8v1.6h-.8zM774.7 466.9h.8v1.6h-.8zM779.0 466.9h.8v1.6h-.8zM672.8 466.1h.8v1.6h-.8zM692.8 466.1h.8v1.6h-.8zM745.0 466.1h.8v1.6h-.8zM751.9 466.1h.8v1.6h-.8zM755.5 466.1h.8v1.6h-.8zM763.3 466.1h.8v1.6h-.8zM674.7 465.4h.8v1.6h-.8zM684.9 465.4h.8v1.6h-.8zM707.1 465.4h.8v1.6h-.8zM716.8 465.4h.8v1.6h-.8zM778.5 465.4h.8v1.6h-.8zM780.6 465.4h.8v1.6h-.8zM780.7 465.4h.8v1.6h-.8zM781.8 465.4h.8v1.6h-.8zM783.0 465.4h.8v1.6h-.8zM674.6 464.6h.8v1.6h-.8zM675.0 464.6h.8v1.6h-.8zM699.1 464.6h.8v1.6h-.8zM706.2 464.6h.8v1.6h-.8zM712.0 464.6h.8v1.6h-.8zM715.1 464.6h.8v1.6h-.8zM715.6 464.6h.8v1.6h-.8zM716.1 464.6h.8v1.6h-.8zM719.9 464.6h.8v1.6h-.8zM727.2 464.6h.8v1.6h-.8zM731.0 464.6h.8v1.6h-.8zM733.8 464.6h.8v1.6h-.8zM743.1 464.6h.8v1.6h-.8zM745.1 464.6h.8v1.6h-.8zM751.1 464.6h.8v1.6h-.8zM758.7 464.6h.8v1.6h-.8zM759.3 464.6h.8v1.6h-.8zM674.9 463.9h.8v1.6h-.8zM675.7 463.9h.8v1.6h-.8zM676.3 463.9h.8v1.6h-.8zM676.8 463.9h.8v1.6h-.8zM678.3 463.9h.8v1.6h-.8zM678.4 463.9h.8v1.6h-.8zM678.6 463.9h.8v1.6h-.8zM678.6 463.9h.8v1.6h-.8zM678.8 463.9h.8v1.6h-.8zM679.3 463.9h.8v1.6h-.8zM679.5 463.9h.8v1.6h-.8zM679.6 463.9h.8v1.6h-.8zM679.6 463.9h.8v1.6h-.8zM680.0 463.9h.8v1.6h-.8zM680.4 463.9h.8v1.6h-.8zM682.2 463.9h.8v1.6h-.8zM682.4 463.9h.8v1.6h-.8zM682.5 463.9h.8v1.6h-.8zM682.8 463.9h.8v1.6h-.8zM683.6 463.9h.8v1.6h-.8zM684.8 463.9h.8v1.6h-.8zM684.9 463.9h.8v1.6h-.8zM685.3 463.9h.8v1.6h-.8zM685.6 463.9h.8v1.6h-.8zM695.7 463.9h.8v1.6h-.8zM713.5 463.9h.8v1.6h-.8zM713.8 463.9h.8v1.6h-.8zM727.9 463.9h.8v1.6h-.8zM736.2 463.9h.8v1.6h-.8zM737.2 463.9h.8v1.6h-.8zM739.2 463.9h.8v1.6h-.8zM752.3 463.9h.8v1.6h-.8zM767.6 463.9h.8v1.6h-.8zM768.9 463.9h.8v1.6h-.8zM770.5 463.9h.8v1.6h-.8zM773.2 463.9h.8v1.6h-.8zM777.9 463.9h.8v1.6h-.8zM778.1 463.9h.8v1.6h-.8zM783.8 463.9h.8v1.6h-.8zM786.9 463.9h.8v1.6h-.8zM790.2 463.9h.8v1.6h-.8zM790.6 463.9h.8v1.6h-.8zM675.7 463.1h.8v1.6h-.8zM680.1 463.1h.8v1.6h-.8zM680.2 463.1h.8v1.6h-.8zM683.4 463.1h.8v1.6h-.8zM686.4 463.1h.8v1.6h-.8zM694.0 463.1h.8v1.6h-.8zM696.6 463.1h.8v1.6h-.8zM703.7 463.1h.8v1.6h-.8zM712.9 463.1h.8v1.6h-.8zM714.5 463.1h.8v1.6h-.8zM715.5 463.1h.8v1.6h-.8zM724.7 463.1h.8v1.6h-.8zM729.5 463.1h.8v1.6h-.8zM730.6 463.1h.8v1.6h-.8zM731.6 463.1h.8v1.6h-.8zM753.5 463.1h.8v1.6h-.8zM760.7 463.1h.8v1.6h-.8zM764.2 463.1h.8v1.6h-.8zM765.9 463.1h.8v1.6h-.8zM675.4 462.4h.8v1.6h-.8zM678.2 462.4h.8v1.6h-.8zM680.5 462.4h.8v1.6h-.8zM683.8 462.4h.8v1.6h-.8zM684.7 462.4h.8v1.6h-.8zM690.9 462.4h.8v1.6h-.8zM694.3 462.4h.8v1.6h-.8zM705.0 462.4h.8v1.6h-.8zM708.2 462.4h.8v1.6h-.8zM712.0 462.4h.8v1.6h-.8zM716.4 462.4h.8v1.6h-.8zM734.0 462.4h.8v1.6h-.8zM736.6 462.4h.8v1.6h-.8zM744.1 462.4h.8v1.6h-.8zM745.8 462.4h.8v1.6h-.8zM751.1 462.4h.8v1.6h-.8zM753.2 462.4h.8v1.6h-.8zM766.0 462.4h.8v1.6h-.8zM768.0 462.4h.8v1.6h-.8zM780.0 462.4h.8v1.6h-.8zM787.0 462.4h.8v1.6h-.8zM790.7 462.4h.8v1.6h-.8zM680.1 461.6h.8v1.6h-.8zM688.9 461.6h.8v1.6h-.8zM694.6 461.6h.8v1.6h-.8zM695.2 461.6h.8v1.6h-.8zM700.4 461.6h.8v1.6h-.8zM703.5 461.6h.8v1.6h-.8zM709.1 461.6h.8v1.6h-.8zM738.5 461.6h.8v1.6h-.8zM741.8 461.6h.8v1.6h-.8zM753.1 461.6h.8v1.6h-.8zM763.7 461.6h.8v1.6h-.8zM766.4 461.6h.8v1.6h-.8zM771.4 461.6h.8v1.6h-.8zM772.8 461.6h.8v1.6h-.8zM690.7 460.8h.8v1.6h-.8zM701.8 460.8h.8v1.6h-.8zM711.5 460.8h.8v1.6h-.8zM712.8 460.8h.8v1.6h-.8zM740.9 460.8h.8v1.6h-.8zM742.1 460.8h.8v1.6h-.8zM747.7 460.8h.8v1.6h-.8zM753.5 460.8h.8v1.6h-.8zM769.4 460.8h.8v1.6h-.8zM783.1 460.8h.8v1.6h-.8zM788.3 460.8h.8v1.6h-.8zM672.7 460.1h.8v1.6h-.8zM673.5 460.1h.8v1.6h-.8zM673.9 460.1h.8v1.6h-.8zM674.8 460.1h.8v1.6h-.8zM678.3 460.1h.8v1.6h-.8zM681.5 460.1h.8v1.6h-.8zM686.7 460.1h.8v1.6h-.8zM687.1 460.1h.8v1.6h-.8zM688.3 460.1h.8v1.6h-.8zM688.4 460.1h.8v1.6h-.8zM696.1 460.1h.8v1.6h-.8zM698.9 460.1h.8v1.6h-.8zM700.2 460.1h.8v1.6h-.8zM704.1 460.1h.8v1.6h-.8zM704.7 460.1h.8v1.6h-.8zM705.0 460.1h.8v1.6h-.8zM746.0 460.1h.8v1.6h-.8zM751.3 460.1h.8v1.6h-.8zM759.1 460.1h.8v1.6h-.8zM772.4 460.1h.8v1.6h-.8zM776.0 460.1h.8v1.6h-.8zM780.3 460.1h.8v1.6h-.8zM783.7 460.1h.8v1.6h-.8zM691.8 459.3h.8v1.6h-.8zM701.0 459.3h.8v1.6h-.8zM712.9 459.3h.8v1.6h-.8zM731.2 459.3h.8v1.6h-.8zM739.7 459.3h.8v1.6h-.8zM766.8 459.3h.8v1.6h-.8zM771.7 459.3h.8v1.6h-.8zM788.4 459.3h.8v1.6h-.8zM675.4 458.6h.8v1.6h-.8zM683.5 458.6h.8v1.6h-.8zM715.0 458.6h.8v1.6h-.8zM752.8 458.6h.8v1.6h-.8zM754.9 458.6h.8v1.6h-.8zM764.3 458.6h.8v1.6h-.8zM778.9 458.6h.8v1.6h-.8zM669.0 457.8h.8v1.6h-.8zM672.5 457.8h.8v1.6h-.8zM673.1 457.8h.8v1.6h-.8zM677.3 457.8h.8v1.6h-.8zM678.0 457.8h.8v1.6h-.8zM678.4 457.8h.8v1.6h-.8zM682.0 457.8h.8v1.6h-.8zM683.7 457.8h.8v1.6h-.8zM691.2 457.8h.8v1.6h-.8zM692.6 457.8h.8v1.6h-.8zM695.2 457.8h.8v1.6h-.8zM695.5 457.8h.8v1.6h-.8zM696.7 457.8h.8v1.6h-.8zM699.7 457.8h.8v1.6h-.8zM703.7 457.8h.8v1.6h-.8zM706.8 457.8h.8v1.6h-.8zM716.2 457.8h.8v1.6h-.8zM716.7 457.8h.8v1.6h-.8zM726.1 457.8h.8v1.6h-.8zM727.0 457.8h.8v1.6h-.8zM744.4 457.8h.8v1.6h-.8zM748.1 457.8h.8v1.6h-.8zM750.7 457.8h.8v1.6h-.8zM755.3 457.8h.8v1.6h-.8zM765.2 457.8h.8v1.6h-.8zM781.6 457.8h.8v1.6h-.8zM784.3 457.8h.8v1.6h-.8zM784.3 457.8h.8v1.6h-.8zM785.2 457.8h.8v1.6h-.8zM667.9 457.1h.8v1.6h-.8zM670.1 457.1h.8v1.6h-.8zM691.1 457.1h.8v1.6h-.8zM692.8 457.1h.8v1.6h-.8zM696.0 457.1h.8v1.6h-.8zM696.3 457.1h.8v1.6h-.8zM699.6 457.1h.8v1.6h-.8zM700.1 457.1h.8v1.6h-.8zM702.0 457.1h.8v1.6h-.8zM702.7 457.1h.8v1.6h-.8zM718.2 457.1h.8v1.6h-.8zM720.7 457.1h.8v1.6h-.8zM724.9 457.1h.8v1.6h-.8zM731.4 457.1h.8v1.6h-.8zM744.9 457.1h.8v1.6h-.8zM763.0 457.1h.8v1.6h-.8zM768.2 457.1h.8v1.6h-.8zM772.5 457.1h.8v1.6h-.8zM787.0 457.1h.8v1.6h-.8zM790.1 457.1h.8v1.6h-.8zM670.9 456.3h.8v1.6h-.8zM671.2 456.3h.8v1.6h-.8zM682.4 456.3h.8v1.6h-.8zM682.8 456.3h.8v1.6h-.8zM687.4 456.3h.8v1.6h-.8zM692.4 456.3h.8v1.6h-.8zM695.5 456.3h.8v1.6h-.8zM695.7 456.3h.8v1.6h-.8zM695.8 456.3h.8v1.6h-.8zM696.3 456.3h.8v1.6h-.8zM696.6 456.3h.8v1.6h-.8zM697.2 456.3h.8v1.6h-.8zM697.5 456.3h.8v1.6h-.8zM698.7 456.3h.8v1.6h-.8zM699.4 456.3h.8v1.6h-.8zM699.4 456.3h.8v1.6h-.8zM699.8 456.3h.8v1.6h-.8zM703.0 456.3h.8v1.6h-.8zM703.0 456.3h.8v1.6h-.8zM703.8 456.3h.8v1.6h-.8zM706.8 456.3h.8v1.6h-.8zM709.6 456.3h.8v1.6h-.8zM715.2 456.3h.8v1.6h-.8zM718.1 456.3h.8v1.6h-.8zM720.3 456.3h.8v1.6h-.8zM726.1 456.3h.8v1.6h-.8zM726.9 456.3h.8v1.6h-.8zM727.3 456.3h.8v1.6h-.8zM727.9 456.3h.8v1.6h-.8zM728.6 456.3h.8v1.6h-.8zM729.9 456.3h.8v1.6h-.8zM729.9 456.3h.8v1.6h-.8zM730.0 456.3h.8v1.6h-.8zM730.3 456.3h.8v1.6h-.8zM730.6 456.3h.8v1.6h-.8zM732.0 456.3h.8v1.6h-.8zM735.5 456.3h.8v1.6h-.8zM747.6 456.3h.8v1.6h-.8zM750.8 456.3h.8v1.6h-.8zM752.9 456.3h.8v1.6h-.8zM760.0 456.3h.8v1.6h-.8zM760.5 456.3h.8v1.6h-.8zM786.2 456.3h.8v1.6h-.8zM671.9 455.6h.8v1.6h-.8zM693.1 455.6h.8v1.6h-.8zM712.3 455.6h.8v1.6h-.8zM725.1 455.6h.8v1.6h-.8zM725.8 455.6h.8v1.6h-.8zM743.6 455.6h.8v1.6h-.8zM744.2 455.6h.8v1.6h-.8zM756.4 455.6h.8v1.6h-.8zM766.3 455.6h.8v1.6h-.8zM673.1 454.8h.8v1.6h-.8zM680.2 454.8h.8v1.6h-.8zM681.7 454.8h.8v1.6h-.8zM686.6 454.8h.8v1.6h-.8zM697.4 454.8h.8v1.6h-.8zM701.4 454.8h.8v1.6h-.8zM703.9 454.8h.8v1.6h-.8zM710.0 454.8h.8v1.6h-.8zM725.2 454.8h.8v1.6h-.8zM735.8 454.8h.8v1.6h-.8zM737.0 454.8h.8v1.6h-.8zM737.5 454.8h.8v1.6h-.8zM744.7 454.8h.8v1.6h-.8zM745.6 454.8h.8v1.6h-.8zM754.4 454.8h.8v1.6h-.8zM761.4 454.8h.8v1.6h-.8zM771.4 454.8h.8v1.6h-.8zM775.0 454.8h.8v1.6h-.8zM789.1 454.8h.8v1.6h-.8zM682.7 454.1h.8v1.6h-.8zM684.9 454.1h.8v1.6h-.8zM693.7 454.1h.8v1.6h-.8zM699.9 454.1h.8v1.6h-.8zM705.9 454.1h.8v1.6h-.8zM708.4 454.1h.8v1.6h-.8zM714.2 454.1h.8v1.6h-.8zM719.5 454.1h.8v1.6h-.8zM720.1 454.1h.8v1.6h-.8zM730.1 454.1h.8v1.6h-.8zM730.6 454.1h.8v1.6h-.8zM732.5 454.1h.8v1.6h-.8zM733.3 454.1h.8v1.6h-.8zM747.9 454.1h.8v1.6h-.8zM748.7 454.1h.8v1.6h-.8zM750.3 454.1h.8v1.6h-.8zM752.9 454.1h.8v1.6h-.8zM764.1 454.1h.8v1.6h-.8zM777.3 454.1h.8v1.6h-.8zM778.4 454.1h.8v1.6h-.8zM784.4 454.1h.8v1.6h-.8zM787.8 454.1h.8v1.6h-.8zM790.7 454.1h.8v1.6h-.8zM674.0 453.3h.8v1.6h-.8zM674.3 453.3h.8v1.6h-.8zM674.9 453.3h.8v1.6h-.8zM675.1 453.3h.8v1.6h-.8zM675.7 453.3h.8v1.6h-.8zM677.0 453.3h.8v1.6h-.8zM678.0 453.3h.8v1.6h-.8zM678.6 453.3h.8v1.6h-.8zM679.8 453.3h.8v1.6h-.8zM682.3 453.3h.8v1.6h-.8zM682.9 453.3h.8v1.6h-.8zM684.1 453.3h.8v1.6h-.8zM685.0 453.3h.8v1.6h-.8zM690.4 453.3h.8v1.6h-.8zM693.4 453.3h.8v1.6h-.8zM702.7 453.3h.8v1.6h-.8zM704.7 453.3h.8v1.6h-.8zM707.1 453.3h.8v1.6h-.8zM717.2 453.3h.8v1.6h-.8zM723.8 453.3h.8v1.6h-.8zM726.1 453.3h.8v1.6h-.8zM726.7 453.3h.8v1.6h-.8zM740.1 453.3h.8v1.6h-.8zM743.8 453.3h.8v1.6h-.8zM753.6 453.3h.8v1.6h-.8zM757.9 453.3h.8v1.6h-.8zM765.4 453.3h.8v1.6h-.8zM771.7 453.3h.8v1.6h-.8zM674.7 452.6h.8v1.6h-.8zM683.5 452.6h.8v1.6h-.8zM688.9 452.6h.8v1.6h-.8zM690.1 452.6h.8v1.6h-.8zM729.0 452.6h.8v1.6h-.8zM732.3 452.6h.8v1.6h-.8zM733.7 452.6h.8v1.6h-.8zM738.9 452.6h.8v1.6h-.8zM744.1 452.6h.8v1.6h-.8zM748.7 452.6h.8v1.6h-.8zM776.0 452.6h.8v1.6h-.8zM779.5 452.6h.8v1.6h-.8zM782.2 452.6h.8v1.6h-.8zM784.4 452.6h.8v1.6h-.8zM785.7 452.6h.8v1.6h-.8zM669.5 451.8h.8v1.6h-.8zM671.4 451.8h.8v1.6h-.8zM672.0 451.8h.8v1.6h-.8zM679.7 451.8h.8v1.6h-.8zM687.8 451.8h.8v1.6h-.8zM688.3 451.8h.8v1.6h-.8zM689.3 451.8h.8v1.6h-.8zM691.5 451.8h.8v1.6h-.8zM691.6 451.8h.8v1.6h-.8zM691.8 451.8h.8v1.6h-.8zM691.9 451.8h.8v1.6h-.8zM693.1 451.8h.8v1.6h-.8zM693.8 451.8h.8v1.6h-.8zM693.9 451.8h.8v1.6h-.8zM694.4 451.8h.8v1.6h-.8zM694.6 451.8h.8v1.6h-.8zM694.6 451.8h.8v1.6h-.8zM694.6 451.8h.8v1.6h-.8zM695.5 451.8h.8v1.6h-.8zM709.7 451.8h.8v1.6h-.8zM710.5 451.8h.8v1.6h-.8zM713.0 451.8h.8v1.6h-.8zM721.5 451.8h.8v1.6h-.8zM725.4 451.8h.8v1.6h-.8zM726.1 451.8h.8v1.6h-.8zM726.6 451.8h.8v1.6h-.8zM734.6 451.8h.8v1.6h-.8zM735.4 451.8h.8v1.6h-.8zM742.3 451.8h.8v1.6h-.8zM748.3 451.8h.8v1.6h-.8zM752.7 451.8h.8v1.6h-.8zM757.8 451.8h.8v1.6h-.8zM758.2 451.8h.8v1.6h-.8zM758.9 451.8h.8v1.6h-.8zM760.8 451.8h.8v1.6h-.8zM762.1 451.8h.8v1.6h-.8zM763.1 451.8h.8v1.6h-.8zM763.9 451.8h.8v1.6h-.8zM765.3 451.8h.8v1.6h-.8zM767.4 451.8h.8v1.6h-.8zM768.6 451.8h.8v1.6h-.8zM773.7 451.8h.8v1.6h-.8zM775.3 451.8h.8v1.6h-.8zM781.7 451.8h.8v1.6h-.8zM668.7 451.1h.8v1.6h-.8zM668.9 451.1h.8v1.6h-.8zM676.9 451.1h.8v1.6h-.8zM677.2 451.1h.8v1.6h-.8zM678.3 451.1h.8v1.6h-.8zM678.4 451.1h.8v1.6h-.8zM679.0 451.1h.8v1.6h-.8zM679.0 451.1h.8v1.6h-.8zM679.0 451.1h.8v1.6h-.8zM679.5 451.1h.8v1.6h-.8zM681.8 451.1h.8v1.6h-.8zM682.5 451.1h.8v1.6h-.8zM683.6 451.1h.8v1.6h-.8zM684.5 451.1h.8v1.6h-.8zM684.9 451.1h.8v1.6h-.8zM684.9 451.1h.8v1.6h-.8zM685.3 451.1h.8v1.6h-.8zM685.5 451.1h.8v1.6h-.8zM685.9 451.1h.8v1.6h-.8zM686.1 451.1h.8v1.6h-.8zM686.5 451.1h.8v1.6h-.8zM686.7 451.1h.8v1.6h-.8zM687.7 451.1h.8v1.6h-.8zM688.1 451.1h.8v1.6h-.8zM688.7 451.1h.8v1.6h-.8zM688.7 451.1h.8v1.6h-.8zM689.3 451.1h.8v1.6h-.8zM689.9 451.1h.8v1.6h-.8zM692.9 451.1h.8v1.6h-.8zM713.3 451.1h.8v1.6h-.8zM716.9 451.1h.8v1.6h-.8zM725.7 451.1h.8v1.6h-.8zM735.8 451.1h.8v1.6h-.8zM765.8 451.1h.8v1.6h-.8zM682.3 450.3h.8v1.6h-.8zM703.5 450.3h.8v1.6h-.8zM703.6 450.3h.8v1.6h-.8zM708.8 450.3h.8v1.6h-.8zM715.8 450.3h.8v1.6h-.8zM724.7 450.3h.8v1.6h-.8zM732.1 450.3h.8v1.6h-.8zM739.4 450.3h.8v1.6h-.8zM760.3 450.3h.8v1.6h-.8zM761.0 450.3h.8v1.6h-.8zM766.7 450.3h.8v1.6h-.8zM670.1 449.6h.8v1.6h-.8zM720.5 449.6h.8v1.6h-.8zM667.8 448.8h.8v1.6h-.8zM668.5 448.8h.8v1.6h-.8zM669.6 448.8h.8v1.6h-.8zM670.9 448.8h.8v1.6h-.8zM670.9 448.8h.8v1.6h-.8zM670.9 448.8h.8v1.6h-.8zM672.2 448.8h.8v1.6h-.8zM675.1 448.8h.8v1.6h-.8zM676.5 448.8h.8v1.6h-.8zM676.9 448.8h.8v1.6h-.8zM677.2 448.8h.8v1.6h-.8zM677.6 448.8h.8v1.6h-.8zM677.6 448.8h.8v1.6h-.8zM678.7 448.8h.8v1.6h-.8zM679.0 448.8h.8v1.6h-.8zM679.7 448.8h.8v1.6h-.8zM680.3 448.8h.8v1.6h-.8zM680.6 448.8h.8v1.6h-.8zM681.5 448.8h.8v1.6h-.8zM696.5 448.8h.8v1.6h-.8zM703.1 448.8h.8v1.6h-.8zM756.0 448.8h.8v1.6h-.8zM760.8 448.8h.8v1.6h-.8zM764.8 448.8h.8v1.6h-.8zM772.0 448.8h.8v1.6h-.8zM788.2 448.8h.8v1.6h-.8zM670.6 448.1h.8v1.6h-.8zM683.7 448.1h.8v1.6h-.8zM687.5 448.1h.8v1.6h-.8zM696.6 448.1h.8v1.6h-.8zM700.3 448.1h.8v1.6h-.8zM726.2 448.1h.8v1.6h-.8zM728.7 448.1h.8v1.6h-.8zM732.0 448.1h.8v1.6h-.8zM736.4 448.1h.8v1.6h-.8zM741.4 448.1h.8v1.6h-.8zM757.4 448.1h.8v1.6h-.8zM771.3 448.1h.8v1.6h-.8zM790.7 448.1h.8v1.6h-.8zM683.0 447.3h.8v1.6h-.8zM713.3 447.3h.8v1.6h-.8zM716.5 447.3h.8v1.6h-.8zM717.4 447.3h.8v1.6h-.8zM727.6 447.3h.8v1.6h-.8zM737.5 447.3h.8v1.6h-.8zM740.2 447.3h.8v1.6h-.8zM750.4 447.3h.8v1.6h-.8zM753.5 447.3h.8v1.6h-.8zM755.7 447.3h.8v1.6h-.8zM761.5 447.3h.8v1.6h-.8zM770.4 447.3h.8v1.6h-.8zM774.6 447.3h.8v1.6h-.8zM785.7 447.3h.8v1.6h-.8zM785.7 447.3h.8v1.6h-.8zM786.4 447.3h.8v1.6h-.8zM786.9 447.3h.8v1.6h-.8zM787.0 447.3h.8v1.6h-.8zM789.4 447.3h.8v1.6h-.8zM789.6 447.3h.8v1.6h-.8zM789.8 447.3h.8v1.6h-.8zM674.3 446.6h.8v1.6h-.8zM690.6 446.6h.8v1.6h-.8zM691.8 446.6h.8v1.6h-.8zM692.7 446.6h.8v1.6h-.8zM699.0 446.6h.8v1.6h-.8zM701.9 446.6h.8v1.6h-.8zM703.6 446.6h.8v1.6h-.8zM707.6 446.6h.8v1.6h-.8zM708.4 446.6h.8v1.6h-.8zM709.0 446.6h.8v1.6h-.8zM709.2 446.6h.8v1.6h-.8zM709.6 446.6h.8v1.6h-.8zM713.3 446.6h.8v1.6h-.8zM713.4 446.6h.8v1.6h-.8zM713.7 446.6h.8v1.6h-.8zM714.2 446.6h.8v1.6h-.8zM714.3 446.6h.8v1.6h-.8zM714.8 446.6h.8v1.6h-.8zM715.0 446.6h.8v1.6h-.8zM715.2 446.6h.8v1.6h-.8zM716.2 446.6h.8v1.6h-.8zM717.2 446.6h.8v1.6h-.8zM718.4 446.6h.8v1.6h-.8zM720.3 446.6h.8v1.6h-.8zM724.5 446.6h.8v1.6h-.8zM741.0 446.6h.8v1.6h-.8zM741.5 446.6h.8v1.6h-.8zM742.9 446.6h.8v1.6h-.8zM743.4 446.6h.8v1.6h-.8zM745.4 446.6h.8v1.6h-.8zM753.5 446.6h.8v1.6h-.8zM768.0 446.6h.8v1.6h-.8zM772.0 446.6h.8v1.6h-.8zM772.9 446.6h.8v1.6h-.8zM775.2 446.6h.8v1.6h-.8zM779.9 446.6h.8v1.6h-.8zM781.9 446.6h.8v1.6h-.8zM790.7 446.6h.8v1.6h-.8zM668.1 445.8h.8v1.6h-.8zM680.9 445.8h.8v1.6h-.8zM697.7 445.8h.8v1.6h-.8zM697.9 445.8h.8v1.6h-.8zM704.2 445.8h.8v1.6h-.8zM706.5 445.8h.8v1.6h-.8zM706.7 445.8h.8v1.6h-.8zM707.5 445.8h.8v1.6h-.8zM708.3 445.8h.8v1.6h-.8zM714.2 445.8h.8v1.6h-.8zM715.3 445.8h.8v1.6h-.8zM715.4 445.8h.8v1.6h-.8zM716.5 445.8h.8v1.6h-.8zM723.6 445.8h.8v1.6h-.8zM726.6 445.8h.8v1.6h-.8zM731.3 445.8h.8v1.6h-.8zM734.1 445.8h.8v1.6h-.8zM734.2 445.8h.8v1.6h-.8zM734.2 445.8h.8v1.6h-.8zM734.6 445.8h.8v1.6h-.8zM734.6 445.8h.8v1.6h-.8zM734.8 445.8h.8v1.6h-.8zM735.6 445.8h.8v1.6h-.8zM736.0 445.8h.8v1.6h-.8zM736.6 445.8h.8v1.6h-.8zM737.4 445.8h.8v1.6h-.8zM737.7 445.8h.8v1.6h-.8zM738.1 445.8h.8v1.6h-.8zM739.9 445.8h.8v1.6h-.8zM740.6 445.8h.8v1.6h-.8zM741.1 445.8h.8v1.6h-.8zM741.7 445.8h.8v1.6h-.8zM742.2 445.8h.8v1.6h-.8zM742.6 445.8h.8v1.6h-.8zM744.6 445.8h.8v1.6h-.8zM744.8 445.8h.8v1.6h-.8zM747.1 445.8h.8v1.6h-.8zM748.8 445.8h.8v1.6h-.8zM750.5 445.8h.8v1.6h-.8zM750.7 445.8h.8v1.6h-.8zM751.3 445.8h.8v1.6h-.8zM754.8 445.8h.8v1.6h-.8zM756.3 445.8h.8v1.6h-.8zM757.1 445.8h.8v1.6h-.8zM762.8 445.8h.8v1.6h-.8zM764.0 445.8h.8v1.6h-.8zM767.9 445.8h.8v1.6h-.8zM768.6 445.8h.8v1.6h-.8zM781.6 445.8h.8v1.6h-.8zM783.1 445.8h.8v1.6h-.8zM783.6 445.8h.8v1.6h-.8zM788.7 445.8h.8v1.6h-.8zM790.6 445.8h.8v1.6h-.8zM670.9 445.1h.8v1.6h-.8zM671.2 445.1h.8v1.6h-.8zM672.9 445.1h.8v1.6h-.8zM677.4 445.1h.8v1.6h-.8zM677.7 445.1h.8v1.6h-.8zM678.3 445.1h.8v1.6h-.8zM678.5 445.1h.8v1.6h-.8zM681.9 445.1h.8v1.6h-.8zM682.1 445.1h.8v1.6h-.8zM683.6 445.1h.8v1.6h-.8zM683.8 445.1h.8v1.6h-.8zM687.7 445.1h.8v1.6h-.8zM689.9 445.1h.8v1.6h-.8zM690.1 445.1h.8v1.6h-.8zM691.1 445.1h.8v1.6h-.8zM695.5 445.1h.8v1.6h-.8zM696.0 445.1h.8v1.6h-.8zM697.9 445.1h.8v1.6h-.8zM698.2 445.1h.8v1.6h-.8zM698.5 445.1h.8v1.6h-.8zM707.2 445.1h.8v1.6h-.8zM707.9 445.1h.8v1.6h-.8zM709.6 445.1h.8v1.6h-.8zM714.4 445.1h.8v1.6h-.8zM714.8 445.1h.8v1.6h-.8zM716.4 445.1h.8v1.6h-.8zM717.0 445.1h.8v1.6h-.8zM717.8 445.1h.8v1.6h-.8zM718.1 445.1h.8v1.6h-.8zM718.3 445.1h.8v1.6h-.8zM719.0 445.1h.8v1.6h-.8zM719.1 445.1h.8v1.6h-.8zM719.2 445.1h.8v1.6h-.8zM720.0 445.1h.8v1.6h-.8zM720.2 445.1h.8v1.6h-.8zM720.4 445.1h.8v1.6h-.8zM721.7 445.1h.8v1.6h-.8zM721.8 445.1h.8v1.6h-.8zM722.2 445.1h.8v1.6h-.8zM722.9 445.1h.8v1.6h-.8zM723.0 445.1h.8v1.6h-.8zM724.0 445.1h.8v1.6h-.8zM737.8 445.1h.8v1.6h-.8zM742.5 445.1h.8v1.6h-.8zM743.0 445.1h.8v1.6h-.8zM743.7 445.1h.8v1.6h-.8zM744.5 445.1h.8v1.6h-.8zM744.9 445.1h.8v1.6h-.8zM746.8 445.1h.8v1.6h-.8zM748.2 445.1h.8v1.6h-.8zM750.8 445.1h.8v1.6h-.8zM750.9 445.1h.8v1.6h-.8zM751.2 445.1h.8v1.6h-.8zM751.4 445.1h.8v1.6h-.8zM751.7 445.1h.8v1.6h-.8zM751.9 445.1h.8v1.6h-.8zM752.6 445.1h.8v1.6h-.8zM753.6 445.1h.8v1.6h-.8zM753.9 445.1h.8v1.6h-.8zM754.7 445.1h.8v1.6h-.8zM755.4 445.1h.8v1.6h-.8zM756.4 445.1h.8v1.6h-.8zM761.3 445.1h.8v1.6h-.8zM763.8 445.1h.8v1.6h-.8zM766.1 445.1h.8v1.6h-.8zM768.4 445.1h.8v1.6h-.8zM774.5 445.1h.8v1.6h-.8zM774.5 445.1h.8v1.6h-.8zM775.9 445.1h.8v1.6h-.8zM778.9 445.1h.8v1.6h-.8zM790.3 445.1h.8v1.6h-.8zM669.2 444.3h.8v1.6h-.8zM669.3 444.3h.8v1.6h-.8zM669.8 444.3h.8v1.6h-.8zM669.9 444.3h.8v1.6h-.8zM670.0 444.3h.8v1.6h-.8zM670.3 444.3h.8v1.6h-.8zM670.6 444.3h.8v1.6h-.8zM671.2 444.3h.8v1.6h-.8zM671.2 444.3h.8v1.6h-.8zM671.4 444.3h.8v1.6h-.8zM672.1 444.3h.8v1.6h-.8zM672.2 444.3h.8v1.6h-.8zM672.4 444.3h.8v1.6h-.8zM672.4 444.3h.8v1.6h-.8zM672.4 444.3h.8v1.6h-.8zM672.8 444.3h.8v1.6h-.8zM673.3 444.3h.8v1.6h-.8zM673.5 444.3h.8v1.6h-.8zM673.8 444.3h.8v1.6h-.8zM673.8 444.3h.8v1.6h-.8zM673.9 444.3h.8v1.6h-.8zM674.0 444.3h.8v1.6h-.8zM676.5 444.3h.8v1.6h-.8zM676.5 444.3h.8v1.6h-.8zM676.6 444.3h.8v1.6h-.8zM677.2 444.3h.8v1.6h-.8zM677.2 444.3h.8v1.6h-.8zM678.0 444.3h.8v1.6h-.8zM678.3 444.3h.8v1.6h-.8zM678.5 444.3h.8v1.6h-.8zM679.9 444.3h.8v1.6h-.8zM680.1 444.3h.8v1.6h-.8zM680.4 444.3h.8v1.6h-.8zM680.7 444.3h.8v1.6h-.8zM680.9 444.3h.8v1.6h-.8zM682.6 444.3h.8v1.6h-.8zM682.9 444.3h.8v1.6h-.8zM685.0 444.3h.8v1.6h-.8zM687.1 444.3h.8v1.6h-.8zM688.0 444.3h.8v1.6h-.8zM688.2 444.3h.8v1.6h-.8zM690.9 444.3h.8v1.6h-.8zM692.6 444.3h.8v1.6h-.8zM695.3 444.3h.8v1.6h-.8zM695.4 444.3h.8v1.6h-.8zM696.0 444.3h.8v1.6h-.8zM696.7 444.3h.8v1.6h-.8zM697.3 444.3h.8v1.6h-.8zM698.3 444.3h.8v1.6h-.8zM700.1 444.3h.8v1.6h-.8zM702.9 444.3h.8v1.6h-.8zM703.6 444.3h.8v1.6h-.8zM706.8 444.3h.8v1.6h-.8zM707.8 444.3h.8v1.6h-.8zM708.3 444.3h.8v1.6h-.8zM708.4 444.3h.8v1.6h-.8zM708.4 444.3h.8v1.6h-.8zM708.7 444.3h.8v1.6h-.8zM713.3 444.3h.8v1.6h-.8zM714.4 444.3h.8v1.6h-.8zM714.6 444.3h.8v1.6h-.8zM718.3 444.3h.8v1.6h-.8zM723.8 444.3h.8v1.6h-.8zM726.9 444.3h.8v1.6h-.8zM736.6 444.3h.8v1.6h-.8zM737.7 444.3h.8v1.6h-.8zM743.3 444.3h.8v1.6h-.8zM743.4 444.3h.8v1.6h-.8zM743.4 444.3h.8v1.6h-.8zM743.5 444.3h.8v1.6h-.8zM747.5 444.3h.8v1.6h-.8zM750.8 444.3h.8v1.6h-.8zM751.0 444.3h.8v1.6h-.8zM751.3 444.3h.8v1.6h-.8zM753.8 444.3h.8v1.6h-.8zM754.7 444.3h.8v1.6h-.8zM754.7 444.3h.8v1.6h-.8zM755.4 444.3h.8v1.6h-.8zM756.4 444.3h.8v1.6h-.8zM758.6 444.3h.8v1.6h-.8zM764.4 444.3h.8v1.6h-.8zM765.1 444.3h.8v1.6h-.8zM766.8 444.3h.8v1.6h-.8zM767.1 444.3h.8v1.6h-.8zM768.9 444.3h.8v1.6h-.8zM769.2 444.3h.8v1.6h-.8zM771.3 444.3h.8v1.6h-.8zM771.9 444.3h.8v1.6h-.8zM772.0 444.3h.8v1.6h-.8zM772.9 444.3h.8v1.6h-.8zM773.2 444.3h.8v1.6h-.8zM774.1 444.3h.8v1.6h-.8zM774.6 444.3h.8v1.6h-.8zM775.2 444.3h.8v1.6h-.8zM776.6 444.3h.8v1.6h-.8zM778.0 444.3h.8v1.6h-.8zM779.1 444.3h.8v1.6h-.8zM779.9 444.3h.8v1.6h-.8zM780.9 444.3h.8v1.6h-.8zM785.7 444.3h.8v1.6h-.8zM667.3 443.6h.8v1.6h-.8zM672.9 443.6h.8v1.6h-.8zM676.8 443.6h.8v1.6h-.8zM679.5 443.6h.8v1.6h-.8zM683.6 443.6h.8v1.6h-.8zM689.9 443.6h.8v1.6h-.8zM690.6 443.6h.8v1.6h-.8zM690.7 443.6h.8v1.6h-.8zM691.0 443.6h.8v1.6h-.8zM692.0 443.6h.8v1.6h-.8zM692.7 443.6h.8v1.6h-.8zM696.0 443.6h.8v1.6h-.8zM696.8 443.6h.8v1.6h-.8zM698.5 443.6h.8v1.6h-.8zM699.3 443.6h.8v1.6h-.8zM699.3 443.6h.8v1.6h-.8zM705.7 443.6h.8v1.6h-.8zM708.7 443.6h.8v1.6h-.8zM709.0 443.6h.8v1.6h-.8zM713.1 443.6h.8v1.6h-.8zM716.2 443.6h.8v1.6h-.8zM718.6 443.6h.8v1.6h-.8zM722.0 443.6h.8v1.6h-.8zM725.5 443.6h.8v1.6h-.8zM727.6 443.6h.8v1.6h-.8zM732.6 443.6h.8v1.6h-.8zM740.9 443.6h.8v1.6h-.8zM747.6 443.6h.8v1.6h-.8zM747.8 443.6h.8v1.6h-.8zM748.6 443.6h.8v1.6h-.8zM749.4 443.6h.8v1.6h-.8zM752.3 443.6h.8v1.6h-.8zM755.1 443.6h.8v1.6h-.8zM772.7 443.6h.8v1.6h-.8zM774.5 443.6h.8v1.6h-.8zM774.7 443.6h.8v1.6h-.8zM775.1 443.6h.8v1.6h-.8zM775.9 443.6h.8v1.6h-.8zM776.0 443.6h.8v1.6h-.8zM776.7 443.6h.8v1.6h-.8zM777.9 443.6h.8v1.6h-.8zM778.6 443.6h.8v1.6h-.8zM779.0 443.6h.8v1.6h-.8zM780.7 443.6h.8v1.6h-.8zM781.0 443.6h.8v1.6h-.8zM781.5 443.6h.8v1.6h-.8zM781.6 443.6h.8v1.6h-.8zM782.0 443.6h.8v1.6h-.8zM783.8 443.6h.8v1.6h-.8zM784.1 443.6h.8v1.6h-.8zM786.9 443.6h.8v1.6h-.8zM788.1 443.6h.8v1.6h-.8zM788.6 443.6h.8v1.6h-.8zM789.2 443.6h.8v1.6h-.8zM789.2 443.6h.8v1.6h-.8zM789.4 443.6h.8v1.6h-.8zM790.4 443.6h.8v1.6h-.8zM790.6 443.6h.8v1.6h-.8zM671.5 442.8h.8v1.6h-.8zM674.4 442.8h.8v1.6h-.8zM677.2 442.8h.8v1.6h-.8zM692.6 442.8h.8v1.6h-.8zM693.1 442.8h.8v1.6h-.8zM698.5 442.8h.8v1.6h-.8zM699.9 442.8h.8v1.6h-.8zM704.5 442.8h.8v1.6h-.8zM715.1 442.8h.8v1.6h-.8zM716.2 442.8h.8v1.6h-.8zM719.2 442.8h.8v1.6h-.8zM721.8 442.8h.8v1.6h-.8zM724.3 442.8h.8v1.6h-.8zM724.9 442.8h.8v1.6h-.8zM728.4 442.8h.8v1.6h-.8zM736.3 442.8h.8v1.6h-.8zM740.1 442.8h.8v1.6h-.8zM741.3 442.8h.8v1.6h-.8zM747.2 442.8h.8v1.6h-.8zM749.1 442.8h.8v1.6h-.8zM749.6 442.8h.8v1.6h-.8zM752.9 442.8h.8v1.6h-.8zM753.5 442.8h.8v1.6h-.8zM754.3 442.8h.8v1.6h-.8zM759.1 442.8h.8v1.6h-.8zM759.9 442.8h.8v1.6h-.8zM763.0 442.8h.8v1.6h-.8zM763.5 442.8h.8v1.6h-.8zM764.9 442.8h.8v1.6h-.8zM765.0 442.8h.8v1.6h-.8zM765.3 442.8h.8v1.6h-.8zM766.5 442.8h.8v1.6h-.8zM767.7 442.8h.8v1.6h-.8zM773.9 442.8h.8v1.6h-.8zM775.6 442.8h.8v1.6h-.8zM776.8 442.8h.8v1.6h-.8zM778.3 442.8h.8v1.6h-.8zM781.1 442.8h.8v1.6h-.8zM781.1 442.8h.8v1.6h-.8zM782.8 442.8h.8v1.6h-.8zM786.6 442.8h.8v1.6h-.8zM787.2 442.8h.8v1.6h-.8zM788.5 442.8h.8v1.6h-.8zM668.1 442.1h.8v1.6h-.8zM668.2 442.1h.8v1.6h-.8zM677.9 442.1h.8v1.6h-.8zM681.9 442.1h.8v1.6h-.8zM682.0 442.1h.8v1.6h-.8zM682.9 442.1h.8v1.6h-.8zM683.0 442.1h.8v1.6h-.8zM683.2 442.1h.8v1.6h-.8zM686.7 442.1h.8v1.6h-.8zM691.1 442.1h.8v1.6h-.8zM692.4 442.1h.8v1.6h-.8zM694.0 442.1h.8v1.6h-.8zM697.9 442.1h.8v1.6h-.8zM699.7 442.1h.8v1.6h-.8zM701.3 442.1h.8v1.6h-.8zM708.0 442.1h.8v1.6h-.8zM710.6 442.1h.8v1.6h-.8zM712.7 442.1h.8v1.6h-.8zM714.0 442.1h.8v1.6h-.8zM714.0 442.1h.8v1.6h-.8zM716.8 442.1h.8v1.6h-.8zM718.5 442.1h.8v1.6h-.8zM718.9 442.1h.8v1.6h-.8zM719.7 442.1h.8v1.6h-.8zM720.2 442.1h.8v1.6h-.8zM721.1 442.1h.8v1.6h-.8zM722.1 442.1h.8v1.6h-.8zM722.5 442.1h.8v1.6h-.8zM723.7 442.1h.8v1.6h-.8zM726.5 442.1h.8v1.6h-.8zM728.3 442.1h.8v1.6h-.8zM730.7 442.1h.8v1.6h-.8zM730.9 442.1h.8v1.6h-.8zM731.1 442.1h.8v1.6h-.8zM732.1 442.1h.8v1.6h-.8zM733.8 442.1h.8v1.6h-.8zM734.5 442.1h.8v1.6h-.8zM735.5 442.1h.8v1.6h-.8zM736.0 442.1h.8v1.6h-.8zM737.6 442.1h.8v1.6h-.8zM738.1 442.1h.8v1.6h-.8zM740.2 442.1h.8v1.6h-.8zM740.9 442.1h.8v1.6h-.8zM741.0 442.1h.8v1.6h-.8zM741.8 442.1h.8v1.6h-.8zM743.0 442.1h.8v1.6h-.8zM745.1 442.1h.8v1.6h-.8zM746.6 442.1h.8v1.6h-.8zM748.2 442.1h.8v1.6h-.8zM749.5 442.1h.8v1.6h-.8zM752.7 442.1h.8v1.6h-.8zM752.7 442.1h.8v1.6h-.8zM753.1 442.1h.8v1.6h-.8zM754.1 442.1h.8v1.6h-.8zM755.7 442.1h.8v1.6h-.8zM756.5 442.1h.8v1.6h-.8zM757.4 442.1h.8v1.6h-.8zM757.9 442.1h.8v1.6h-.8zM759.7 442.1h.8v1.6h-.8zM760.3 442.1h.8v1.6h-.8zM762.9 442.1h.8v1.6h-.8zM764.0 442.1h.8v1.6h-.8zM764.9 442.1h.8v1.6h-.8zM764.9 442.1h.8v1.6h-.8zM765.1 442.1h.8v1.6h-.8zM766.4 442.1h.8v1.6h-.8zM766.6 442.1h.8v1.6h-.8zM772.7 442.1h.8v1.6h-.8zM773.6 442.1h.8v1.6h-.8zM773.7 442.1h.8v1.6h-.8zM774.9 442.1h.8v1.6h-.8zM774.9 442.1h.8v1.6h-.8zM785.2 442.1h.8v1.6h-.8zM786.6 442.1h.8v1.6h-.8zM786.7 442.1h.8v1.6h-.8zM788.5 442.1h.8v1.6h-.8zM790.6 442.1h.8v1.6h-.8zM668.2 441.3h.8v1.6h-.8zM668.8 441.3h.8v1.6h-.8zM675.1 441.3h.8v1.6h-.8zM676.3 441.3h.8v1.6h-.8zM680.8 441.3h.8v1.6h-.8zM692.7 441.3h.8v1.6h-.8zM704.3 441.3h.8v1.6h-.8zM713.3 441.3h.8v1.6h-.8zM716.6 441.3h.8v1.6h-.8zM723.8 441.3h.8v1.6h-.8zM725.3 441.3h.8v1.6h-.8zM734.9 441.3h.8v1.6h-.8zM737.4 441.3h.8v1.6h-.8zM739.2 441.3h.8v1.6h-.8zM742.5 441.3h.8v1.6h-.8zM747.3 441.3h.8v1.6h-.8zM781.2 441.3h.8v1.6h-.8zM790.4 441.3h.8v1.6h-.8zM668.9 440.6h.8v1.6h-.8zM671.4 440.6h.8v1.6h-.8zM676.6 440.6h.8v1.6h-.8zM676.8 440.6h.8v1.6h-.8zM679.8 440.6h.8v1.6h-.8zM683.4 440.6h.8v1.6h-.8zM685.7 440.6h.8v1.6h-.8zM698.4 440.6h.8v1.6h-.8zM702.4 440.6h.8v1.6h-.8zM705.5 440.6h.8v1.6h-.8zM707.8 440.6h.8v1.6h-.8zM722.1 440.6h.8v1.6h-.8zM722.6 440.6h.8v1.6h-.8zM726.0 440.6h.8v1.6h-.8zM727.3 440.6h.8v1.6h-.8zM731.6 440.6h.8v1.6h-.8zM736.8 440.6h.8v1.6h-.8zM747.0 440.6h.8v1.6h-.8zM748.1 440.6h.8v1.6h-.8zM748.7 440.6h.8v1.6h-.8zM752.5 440.6h.8v1.6h-.8zM754.5 440.6h.8v1.6h-.8zM757.3 440.6h.8v1.6h-.8zM761.3 440.6h.8v1.6h-.8zM761.5 440.6h.8v1.6h-.8zM763.2 440.6h.8v1.6h-.8zM765.4 440.6h.8v1.6h-.8zM780.7 440.6h.8v1.6h-.8zM784.5 440.6h.8v1.6h-.8zM785.1 440.6h.8v1.6h-.8zM681.3 439.8h.8v1.6h-.8zM688.3 439.8h.8v1.6h-.8zM691.1 439.8h.8v1.6h-.8zM693.6 439.8h.8v1.6h-.8zM693.7 439.8h.8v1.6h-.8zM697.6 439.8h.8v1.6h-.8zM697.8 439.8h.8v1.6h-.8zM702.0 439.8h.8v1.6h-.8zM702.9 439.8h.8v1.6h-.8zM705.0 439.8h.8v1.6h-.8zM713.5 439.8h.8v1.6h-.8zM716.8 439.8h.8v1.6h-.8zM722.0 439.8h.8v1.6h-.8zM736.1 439.8h.8v1.6h-.8zM744.0 439.8h.8v1.6h-.8zM747.0 439.8h.8v1.6h-.8zM747.0 439.8h.8v1.6h-.8zM748.0 439.8h.8v1.6h-.8zM750.0 439.8h.8v1.6h-.8zM750.7 439.8h.8v1.6h-.8zM751.0 439.8h.8v1.6h-.8zM751.3 439.8h.8v1.6h-.8zM751.4 439.8h.8v1.6h-.8zM753.2 439.8h.8v1.6h-.8zM753.7 439.8h.8v1.6h-.8zM756.7 439.8h.8v1.6h-.8zM756.9 439.8h.8v1.6h-.8zM757.0 439.8h.8v1.6h-.8zM758.3 439.8h.8v1.6h-.8zM758.5 439.8h.8v1.6h-.8zM758.6 439.8h.8v1.6h-.8zM758.9 439.8h.8v1.6h-.8zM760.0 439.8h.8v1.6h-.8zM761.0 439.8h.8v1.6h-.8zM762.2 439.8h.8v1.6h-.8zM763.0 439.8h.8v1.6h-.8zM764.0 439.8h.8v1.6h-.8zM765.8 439.8h.8v1.6h-.8zM769.0 439.8h.8v1.6h-.8zM781.9 439.8h.8v1.6h-.8zM786.9 439.8h.8v1.6h-.8zM668.6 439.1h.8v1.6h-.8zM669.0 439.1h.8v1.6h-.8zM669.0 439.1h.8v1.6h-.8zM673.1 439.1h.8v1.6h-.8zM680.2 439.1h.8v1.6h-.8zM681.5 439.1h.8v1.6h-.8zM689.0 439.1h.8v1.6h-.8zM692.7 439.1h.8v1.6h-.8zM694.5 439.1h.8v1.6h-.8zM698.2 439.1h.8v1.6h-.8zM700.1 439.1h.8v1.6h-.8zM703.8 439.1h.8v1.6h-.8zM703.9 439.1h.8v1.6h-.8zM707.1 439.1h.8v1.6h-.8zM708.2 439.1h.8v1.6h-.8zM709.0 439.1h.8v1.6h-.8zM709.3 439.1h.8v1.6h-.8zM710.3 439.1h.8v1.6h-.8zM714.5 439.1h.8v1.6h-.8zM716.2 439.1h.8v1.6h-.8zM726.0 439.1h.8v1.6h-.8zM729.8 439.1h.8v1.6h-.8zM730.3 439.1h.8v1.6h-.8zM733.8 439.1h.8v1.6h-.8zM737.6 439.1h.8v1.6h-.8zM741.7 439.1h.8v1.6h-.8zM751.4 439.1h.8v1.6h-.8zM752.8 439.1h.8v1.6h-.8zM752.8 439.1h.8v1.6h-.8zM754.6 439.1h.8v1.6h-.8zM757.8 439.1h.8v1.6h-.8zM758.2 439.1h.8v1.6h-.8zM759.3 439.1h.8v1.6h-.8zM759.7 439.1h.8v1.6h-.8zM761.3 439.1h.8v1.6h-.8zM764.6 439.1h.8v1.6h-.8zM767.5 439.1h.8v1.6h-.8zM769.2 439.1h.8v1.6h-.8zM779.4 439.1h.8v1.6h-.8zM783.0 439.1h.8v1.6h-.8zM786.3 439.1h.8v1.6h-.8zM787.1 439.1h.8v1.6h-.8zM787.2 439.1h.8v1.6h-.8zM791.0 439.1h.8v1.6h-.8zM669.3 438.3h.8v1.6h-.8zM671.6 438.3h.8v1.6h-.8zM671.8 438.3h.8v1.6h-.8zM674.6 438.3h.8v1.6h-.8zM686.0 438.3h.8v1.6h-.8zM686.5 438.3h.8v1.6h-.8zM688.2 438.3h.8v1.6h-.8zM689.1 438.3h.8v1.6h-.8zM691.1 438.3h.8v1.6h-.8zM692.8 438.3h.8v1.6h-.8zM693.4 438.3h.8v1.6h-.8zM695.0 438.3h.8v1.6h-.8zM702.4 438.3h.8v1.6h-.8zM703.9 438.3h.8v1.6h-.8zM704.2 438.3h.8v1.6h-.8zM705.3 438.3h.8v1.6h-.8zM708.7 438.3h.8v1.6h-.8zM716.7 438.3h.8v1.6h-.8zM717.7 438.3h.8v1.6h-.8zM721.4 438.3h.8v1.6h-.8zM721.9 438.3h.8v1.6h-.8zM726.3 438.3h.8v1.6h-.8zM726.9 438.3h.8v1.6h-.8zM728.4 438.3h.8v1.6h-.8zM744.2 438.3h.8v1.6h-.8zM749.9 438.3h.8v1.6h-.8zM753.1 438.3h.8v1.6h-.8zM754.0 438.3h.8v1.6h-.8zM754.7 438.3h.8v1.6h-.8zM756.8 438.3h.8v1.6h-.8zM758.9 438.3h.8v1.6h-.8zM759.1 438.3h.8v1.6h-.8zM761.8 438.3h.8v1.6h-.8zM762.0 438.3h.8v1.6h-.8zM768.2 438.3h.8v1.6h-.8zM773.8 438.3h.8v1.6h-.8zM775.6 438.3h.8v1.6h-.8zM777.3 438.3h.8v1.6h-.8zM782.2 438.3h.8v1.6h-.8zM782.5 438.3h.8v1.6h-.8zM782.5 438.3h.8v1.6h-.8zM783.8 438.3h.8v1.6h-.8zM677.9 437.6h.8v1.6h-.8zM695.7 437.6h.8v1.6h-.8zM699.3 437.6h.8v1.6h-.8zM709.5 437.6h.8v1.6h-.8zM721.9 437.6h.8v1.6h-.8zM724.1 437.6h.8v1.6h-.8zM726.3 437.6h.8v1.6h-.8zM733.4 437.6h.8v1.6h-.8zM734.6 437.6h.8v1.6h-.8zM745.1 437.6h.8v1.6h-.8zM759.0 437.6h.8v1.6h-.8zM775.8 437.6h.8v1.6h-.8zM776.5 437.6h.8v1.6h-.8zM783.4 437.6h.8v1.6h-.8zM785.4 437.6h.8v1.6h-.8zM787.7 437.6h.8v1.6h-.8zM789.6 437.6h.8v1.6h-.8zM673.6 436.8h.8v1.6h-.8zM686.7 436.8h.8v1.6h-.8zM689.4 436.8h.8v1.6h-.8zM691.3 436.8h.8v1.6h-.8zM696.6 436.8h.8v1.6h-.8zM697.5 436.8h.8v1.6h-.8zM701.0 436.8h.8v1.6h-.8zM708.5 436.8h.8v1.6h-.8zM714.3 436.8h.8v1.6h-.8zM721.6 436.8h.8v1.6h-.8zM727.2 436.8h.8v1.6h-.8zM741.1 436.8h.8v1.6h-.8zM755.4 436.8h.8v1.6h-.8zM757.6 436.8h.8v1.6h-.8zM759.3 436.8h.8v1.6h-.8zM763.6 436.8h.8v1.6h-.8zM765.6 436.8h.8v1.6h-.8zM771.2 436.8h.8v1.6h-.8zM773.1 436.8h.8v1.6h-.8zM777.6 436.8h.8v1.6h-.8zM778.2 436.8h.8v1.6h-.8zM788.0 436.8h.8v1.6h-.8z" fill="#555" opacity="0.8"/>
<text x="729.50" y="433.40" font-family='"Liberation Sans", sans-serif' font-size="7.800000000000001" text-anchor="middle" fill="#222" textLength="25.45" lengthAdjust="spacingAndGlyphs" >Spikes</text>
<line x1="659.50" y1="437.60" x2="661.50" y2="437.60" stroke="#333" stroke-width="1" />
<text x="659.20" y="440.10" font-family='"Liberation Sans", sans-serif' font-size="7.4" text-anchor="end" fill="#222" textLength="14.12" lengthAdjust="spacingAndGlyphs" >100</text>
<line x1="659.50" y1="475.18" x2="661.50" y2="475.18" stroke="#333" stroke-width="1" />
<text x="659.20" y="477.68" font-family='"Liberation Sans", sans-serif' font-size="7.4" text-anchor="end" fill="#222" textLength="9.41" lengthAdjust="spacingAndGlyphs" >50</text>
<line x1="659.50" y1="512.00" x2="661.50" y2="512.00" stroke="#333" stroke-width="1" />
<text x="659.20" y="514.50" font-family='"Liberation Sans", sans-serif' font-size="7.4" text-anchor="end" fill="#222" textLength="4.71" lengthAdjust="spacingAndGlyphs" >1</text>
<line x1="667.20" y1="515.00" x2="667.20" y2="517.00" stroke="#333" stroke-width="1" />
<text x="667.20" y="523.10" font-family='"Liberation Sans", sans-serif' font-size="7.4" text-anchor="middle" fill="#222" textLength="4.71" lengthAdjust="spacingAndGlyphs" >0</text>
<line x1="729.10" y1="515.00" x2="729.10" y2="517.00" stroke="#333" stroke-width="1" />
<text x="729.10" y="523.10" font-family='"Liberation Sans", sans-serif' font-size="7.4" text-anchor="middle" fill="#222" textLength="4.71" lengthAdjust="spacingAndGlyphs" >5</text>
<line x1="791.00" y1="515.00" x2="791.00" y2="517.00" stroke="#333" stroke-width="1" />
<text x="791.00" y="523.10" font-family='"Liberation Sans", sans-serif' font-size="7.4" text-anchor="middle" fill="#222" textLength="9.41" lengthAdjust="spacingAndGlyphs" >10</text>
<text x="729.10" y="531.20" font-family='"Liberation Sans", sans-serif' font-size="7.4" text-anchor="middle" fill="#222" textLength="28.70" lengthAdjust="spacingAndGlyphs" >time (s)</text>
<text transform="translate(643.7,474.6) rotate(-90)" font-family='"Liberation Sans", sans-serif' font-size="7.4" text-anchor="middle" fill="#222" textLength="30.05" lengthAdjust="spacingAndGlyphs">neurons</text>
</svg></body></html>
